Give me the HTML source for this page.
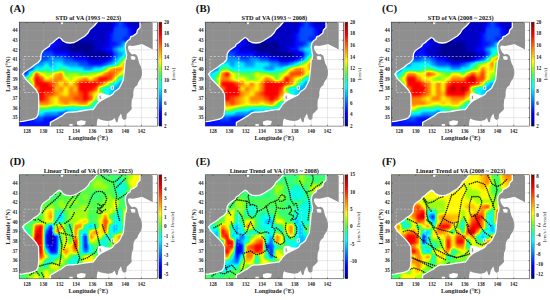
<!DOCTYPE html><html><head><meta charset="utf-8"><title>VA figure</title><style>body{margin:0;background:#fff;}svg{display:block;}.tk{font:bold 5.1px "Liberation Serif",serif;fill:#222;}.ti{font:bold 6.3px "Liberation Serif",serif;fill:#111;}.al{font:bold 6.2px "Liberation Serif",serif;fill:#222;}.pl{font:bold 10.8px "Liberation Serif",serif;fill:#111;}.cbl{font:4.8px "Liberation Serif",serif;fill:#1a1a1a;}</style></head><body><svg width="550" height="300" viewBox="0 0 550 300"><defs><filter id="jet" x="-5%" y="-5%" width="110%" height="110%" color-interpolation-filters="sRGB"><feGaussianBlur stdDeviation="1.5"/><feComponentTransfer><feFuncR type="table" tableValues="0 0 0 0 0 0 0 0.1 0.3 0.65 1 1 1 1 1 0.75 0.5"/><feFuncG type="table" tableValues="0 0 0 0.25 0.5 0.75 1 1 1 1 1 0.75 0.5 0.25 0 0 0"/><feFuncB type="table" tableValues="0.5 0.75 1 1 1 1 1 0.7 0.3 0.05 0 0 0 0 0 0 0"/><feFuncA type="table" tableValues="1 1"/></feComponentTransfer></filter><linearGradient id="jetgrad" x1="0" y1="1" x2="0" y2="0"><stop offset="0.0000" stop-color="#00007f"/><stop offset="0.0625" stop-color="#0000bf"/><stop offset="0.1250" stop-color="#0000ff"/><stop offset="0.1875" stop-color="#003fff"/><stop offset="0.2500" stop-color="#007fff"/><stop offset="0.3125" stop-color="#00bfff"/><stop offset="0.3750" stop-color="#00ffff"/><stop offset="0.4375" stop-color="#19ffb2"/><stop offset="0.5000" stop-color="#4cff4c"/><stop offset="0.5625" stop-color="#a5ff0c"/><stop offset="0.6250" stop-color="#ffff00"/><stop offset="0.6875" stop-color="#ffbf00"/><stop offset="0.7500" stop-color="#ff7f00"/><stop offset="0.8125" stop-color="#ff3f00"/><stop offset="0.8750" stop-color="#ff0000"/><stop offset="0.9375" stop-color="#bf0000"/><stop offset="1.0000" stop-color="#7f0000"/></linearGradient><clipPath id="mapclip"><rect x="19.2" y="22.1" width="138.2" height="104.0"/></clipPath><g id="landall"><polygon points="19,0 97.5,0 97.5,22 97,22.5 94,26 90,29.5 88,33 85,36 81,38.5 77,41 74,42.5 70,43 66,42.5 63,41 61,38.5 59,37.5 57,39 55,40.5 53,42.5 50,44.5 49.4,46.3 46.8,48 44.2,49.8 42.4,51.5 41.2,54 40.7,59.5 38.1,62.5 34.6,64.8 31.3,67.5 27.7,69.8 24.2,72.3 22.5,74.2 24,76.7 25.7,79.2 28.2,81.7 33.2,86.7 36.5,90.5 38.5,94 38.7,100 38.7,108.5 38.1,114.6 36.3,117.7 33.8,119 31.3,119.6 28.9,120.2 25.2,120.8 22.7,121.4 10,122 10,0" fill="#8f8f8f" stroke="#fff" stroke-width="1.3" stroke-linejoin="round"/><polygon points="140,0 140,27.5 137.5,30 136.7,33.3 133.3,35.8 130.8,36.7 130,39.2 127.5,40.8 125.8,43.3 125.3,46.7 125.8,51.7 126.7,55 126.2,59 125.3,60 124.7,66.7 124,73.3 123.3,80 121.3,84 119.3,88 117,90 114.5,91.5 113,94 111,95.5 107,97.5 103,99.5 101,100.5 99,102 97,104 95,107 93,109.5 91.3,109.4 88,109.9 83.6,110.5 78.2,111.5 72.7,112.1 68.4,112.1 65.1,113.2 61.8,115.9 58,118.1 54.2,120.3 50.4,122.4 49.8,140 170,140 170,0" fill="#8f8f8f" stroke="#fff" stroke-width="1.3" stroke-linejoin="round"/><polygon points="150.8,0 150.8,22 152.7,23 152.7,49.5 150,48 146,46 142,44 138,45 133,46 129,45.5 127.8,47 128.5,50 130,52.5 132,54.5 134.5,54 136.5,55 137.5,56.5 138.3,60 139.3,63.5 140.7,66 142,70.7 142,74.7 140.7,78.7 139.3,80.5 138,82.7 137.3,85.3 135.3,86.7 134,88.7 133.3,92 133.3,96 132.3,99 131.8,100 131.4,105.5 131.8,109 130,111 128.2,112.7 126.8,114 126.3,119 124,120 122.3,118.5 121,113.5 119.8,115.5 118.5,117.5 117.6,122 116.2,122.3 114.7,118 112,120.2 108,121 103.7,120.4 100,119.5 98.2,118.6 97.3,120 96.8,123.2 96.8,140 170,140 170,0" fill="#fff"/><polygon points="130.5,56.5 133,56 135.5,57 135,60 131.5,59.8" fill="#fff"/><polygon points="98,93.5 102,93 106,94.5 110,95 112,94.5 113.2,94.2 111,95.5 107,97.5 103,99.5 101,100.5 99,102 97.6,101 97.3,97" fill="#fff"/><polygon points="69.4,124 72.7,124 72.7,126.5 69.4,126.5" fill="#fff"/><polygon points="77,121.5 81,120.3 85.8,121 85,124.5 80,125.7 77,124.5" fill="#fff"/><polygon points="60.5,22 63.5,22 62.5,24.2 61.3,24.2" fill="#fff"/><polygon points="99,95.5 101,95 101.3,99 99.5,100" fill="#8f8f8f" stroke="#fff" stroke-width="0.8"/><polygon points="111,86.5 113.3,86 113.6,89.3 111.5,89.5" fill="#8f8f8f" stroke="#fff" stroke-width="0.8"/></g><mask id="lmask" maskUnits="userSpaceOnUse" x="0" y="0" width="200" height="150"><g fill="#fff"><polygon points="19,0 97.5,0 97.5,22 97,22.5 94,26 90,29.5 88,33 85,36 81,38.5 77,41 74,42.5 70,43 66,42.5 63,41 61,38.5 59,37.5 57,39 55,40.5 53,42.5 50,44.5 49.4,46.3 46.8,48 44.2,49.8 42.4,51.5 41.2,54 40.7,59.5 38.1,62.5 34.6,64.8 31.3,67.5 27.7,69.8 24.2,72.3 22.5,74.2 24,76.7 25.7,79.2 28.2,81.7 33.2,86.7 36.5,90.5 38.5,94 38.7,100 38.7,108.5 38.1,114.6 36.3,117.7 33.8,119 31.3,119.6 28.9,120.2 25.2,120.8 22.7,121.4 10,122 10,0"/><polygon points="140,0 140,27.5 137.5,30 136.7,33.3 133.3,35.8 130.8,36.7 130,39.2 127.5,40.8 125.8,43.3 125.3,46.7 125.8,51.7 126.7,55 126.2,59 125.3,60 124.7,66.7 124,73.3 123.3,80 121.3,84 119.3,88 117,90 114.5,91.5 113,94 111,95.5 107,97.5 103,99.5 101,100.5 99,102 97,104 95,107 93,109.5 91.3,109.4 88,109.9 83.6,110.5 78.2,111.5 72.7,112.1 68.4,112.1 65.1,113.2 61.8,115.9 58,118.1 54.2,120.3 50.4,122.4 49.8,140 170,140 170,0"/><polygon points="150.8,0 150.8,22 152.7,23 152.7,49.5 150,48 146,46 142,44 138,45 133,46 129,45.5 127.8,47 128.5,50 130,52.5 132,54.5 134.5,54 136.5,55 137.5,56.5 138.3,60 139.3,63.5 140.7,66 142,70.7 142,74.7 140.7,78.7 139.3,80.5 138,82.7 137.3,85.3 135.3,86.7 134,88.7 133.3,92 133.3,96 132.3,99 131.8,100 131.4,105.5 131.8,109 130,111 128.2,112.7 126.8,114 126.3,119 124,120 122.3,118.5 121,113.5 119.8,115.5 118.5,117.5 117.6,122 116.2,122.3 114.7,118 112,120.2 108,121 103.7,120.4 100,119.5 98.2,118.6 97.3,120 96.8,123.2 96.8,140 170,140 170,0"/><polygon points="130.5,56.5 133,56 135.5,57 135,60 131.5,59.8"/><polygon points="98,93.5 102,93 106,94.5 110,95 112,94.5 113.2,94.2 111,95.5 107,97.5 103,99.5 101,100.5 99,102 97.6,101 97.3,97"/><polygon points="69.4,124 72.7,124 72.7,126.5 69.4,126.5"/><polygon points="77,121.5 81,120.3 85.8,121 85,124.5 80,125.7 77,124.5"/><polygon points="60.5,22 63.5,22 62.5,24.2 61.3,24.2"/></g></mask></defs><g transform="translate(0 0)"><text x="9.8" y="12.4" class="pl">(A)</text><text x="88.3" y="20.1" class="ti" text-anchor="middle">STD of VA (1993 ~ 2023)</text><g clip-path="url(#mapclip)"><g filter="url(#jet)"><rect x="11.20" y="14.10" width="12.99" height="13.00" fill="#242424"/><rect x="24.14" y="14.10" width="4.99" height="13.00" fill="#242424"/><rect x="29.07" y="14.10" width="4.99" height="13.00" fill="#242424"/><rect x="34.01" y="14.10" width="4.99" height="13.00" fill="#242424"/><rect x="38.94" y="14.10" width="4.99" height="13.00" fill="#1e1e1e"/><rect x="43.88" y="14.10" width="4.99" height="13.00" fill="#121212"/><rect x="48.81" y="14.10" width="4.99" height="13.00" fill="#121212"/><rect x="53.75" y="14.10" width="4.99" height="13.00" fill="#121212"/><rect x="58.69" y="14.10" width="4.99" height="13.00" fill="#121212"/><rect x="63.62" y="14.10" width="4.99" height="13.00" fill="#121212"/><rect x="68.56" y="14.10" width="4.99" height="13.00" fill="#121212"/><rect x="73.49" y="14.10" width="4.99" height="13.00" fill="#121212"/><rect x="78.43" y="14.10" width="4.99" height="13.00" fill="#121212"/><rect x="83.36" y="14.10" width="4.99" height="13.00" fill="#121212"/><rect x="88.30" y="14.10" width="4.99" height="13.00" fill="#121212"/><rect x="93.24" y="14.10" width="4.99" height="13.00" fill="#121212"/><rect x="98.17" y="14.10" width="4.99" height="13.00" fill="#121212"/><rect x="103.11" y="14.10" width="4.99" height="13.00" fill="#121212"/><rect x="108.04" y="14.10" width="4.99" height="13.00" fill="#121212"/><rect x="112.98" y="14.10" width="4.99" height="13.00" fill="#242424"/><rect x="117.91" y="14.10" width="4.99" height="13.00" fill="#333333"/><rect x="122.85" y="14.10" width="4.99" height="13.00" fill="#242424"/><rect x="127.79" y="14.10" width="4.99" height="13.00" fill="#121212"/><rect x="132.72" y="14.10" width="4.99" height="13.00" fill="#121212"/><rect x="137.66" y="14.10" width="4.99" height="13.00" fill="#121212"/><rect x="142.59" y="14.10" width="4.99" height="13.00" fill="#121212"/><rect x="147.53" y="14.10" width="4.99" height="13.00" fill="#121212"/><rect x="152.46" y="14.10" width="12.99" height="13.00" fill="#121212"/><rect x="11.20" y="27.05" width="12.99" height="5.00" fill="#2b2b2b"/><rect x="24.14" y="27.05" width="4.99" height="5.00" fill="#242424"/><rect x="29.07" y="27.05" width="4.99" height="5.00" fill="#242424"/><rect x="34.01" y="27.05" width="4.99" height="5.00" fill="#242424"/><rect x="38.94" y="27.05" width="4.99" height="5.00" fill="#242424"/><rect x="43.88" y="27.05" width="4.99" height="5.00" fill="#1e1e1e"/><rect x="48.81" y="27.05" width="4.99" height="5.00" fill="#121212"/><rect x="53.75" y="27.05" width="4.99" height="5.00" fill="#121212"/><rect x="58.69" y="27.05" width="4.99" height="5.00" fill="#121212"/><rect x="63.62" y="27.05" width="4.99" height="5.00" fill="#121212"/><rect x="68.56" y="27.05" width="4.99" height="5.00" fill="#121212"/><rect x="73.49" y="27.05" width="4.99" height="5.00" fill="#121212"/><rect x="78.43" y="27.05" width="4.99" height="5.00" fill="#121212"/><rect x="83.36" y="27.05" width="4.99" height="5.00" fill="#121212"/><rect x="88.30" y="27.05" width="4.99" height="5.00" fill="#121212"/><rect x="93.24" y="27.05" width="4.99" height="5.00" fill="#121212"/><rect x="98.17" y="27.05" width="4.99" height="5.00" fill="#121212"/><rect x="103.11" y="27.05" width="4.99" height="5.00" fill="#121212"/><rect x="108.04" y="27.05" width="4.99" height="5.00" fill="#121212"/><rect x="112.98" y="27.05" width="4.99" height="5.00" fill="#333333"/><rect x="117.91" y="27.05" width="4.99" height="5.00" fill="#333333"/><rect x="122.85" y="27.05" width="4.99" height="5.00" fill="#333333"/><rect x="127.79" y="27.05" width="4.99" height="5.00" fill="#242424"/><rect x="132.72" y="27.05" width="4.99" height="5.00" fill="#121212"/><rect x="137.66" y="27.05" width="4.99" height="5.00" fill="#121212"/><rect x="142.59" y="27.05" width="4.99" height="5.00" fill="#121212"/><rect x="147.53" y="27.05" width="4.99" height="5.00" fill="#121212"/><rect x="152.46" y="27.05" width="12.99" height="5.00" fill="#121212"/><rect x="11.20" y="32.00" width="12.99" height="5.00" fill="#333333"/><rect x="24.14" y="32.00" width="4.99" height="5.00" fill="#2b2b2b"/><rect x="29.07" y="32.00" width="4.99" height="5.00" fill="#242424"/><rect x="34.01" y="32.00" width="4.99" height="5.00" fill="#242424"/><rect x="38.94" y="32.00" width="4.99" height="5.00" fill="#242424"/><rect x="43.88" y="32.00" width="4.99" height="5.00" fill="#242424"/><rect x="48.81" y="32.00" width="4.99" height="5.00" fill="#1d1d1d"/><rect x="53.75" y="32.00" width="4.99" height="5.00" fill="#121212"/><rect x="58.69" y="32.00" width="4.99" height="5.00" fill="#121212"/><rect x="63.62" y="32.00" width="4.99" height="5.00" fill="#121212"/><rect x="68.56" y="32.00" width="4.99" height="5.00" fill="#0e0e0e"/><rect x="73.49" y="32.00" width="4.99" height="5.00" fill="#121212"/><rect x="78.43" y="32.00" width="4.99" height="5.00" fill="#121212"/><rect x="83.36" y="32.00" width="4.99" height="5.00" fill="#121212"/><rect x="88.30" y="32.00" width="4.99" height="5.00" fill="#121212"/><rect x="93.24" y="32.00" width="4.99" height="5.00" fill="#121212"/><rect x="98.17" y="32.00" width="4.99" height="5.00" fill="#121212"/><rect x="103.11" y="32.00" width="4.99" height="5.00" fill="#121212"/><rect x="108.04" y="32.00" width="4.99" height="5.00" fill="#242424"/><rect x="112.98" y="32.00" width="4.99" height="5.00" fill="#333333"/><rect x="117.91" y="32.00" width="4.99" height="5.00" fill="#333333"/><rect x="122.85" y="32.00" width="4.99" height="5.00" fill="#333333"/><rect x="127.79" y="32.00" width="4.99" height="5.00" fill="#242424"/><rect x="132.72" y="32.00" width="4.99" height="5.00" fill="#1e1e1e"/><rect x="137.66" y="32.00" width="4.99" height="5.00" fill="#121212"/><rect x="142.59" y="32.00" width="4.99" height="5.00" fill="#121212"/><rect x="147.53" y="32.00" width="4.99" height="5.00" fill="#121212"/><rect x="152.46" y="32.00" width="12.99" height="5.00" fill="#121212"/><rect x="11.20" y="36.96" width="12.99" height="5.00" fill="#333333"/><rect x="24.14" y="36.96" width="4.99" height="5.00" fill="#333333"/><rect x="29.07" y="36.96" width="4.99" height="5.00" fill="#2c2c2c"/><rect x="34.01" y="36.96" width="4.99" height="5.00" fill="#242424"/><rect x="38.94" y="36.96" width="4.99" height="5.00" fill="#242424"/><rect x="43.88" y="36.96" width="4.99" height="5.00" fill="#242424"/><rect x="48.81" y="36.96" width="4.99" height="5.00" fill="#242424"/><rect x="53.75" y="36.96" width="4.99" height="5.00" fill="#1b1b1b"/><rect x="58.69" y="36.96" width="4.99" height="5.00" fill="#121212"/><rect x="63.62" y="36.96" width="4.99" height="5.00" fill="#0f0f0f"/><rect x="68.56" y="36.96" width="4.99" height="5.00" fill="#090909"/><rect x="73.49" y="36.96" width="4.99" height="5.00" fill="#080808"/><rect x="78.43" y="36.96" width="4.99" height="5.00" fill="#121212"/><rect x="83.36" y="36.96" width="4.99" height="5.00" fill="#121212"/><rect x="88.30" y="36.96" width="4.99" height="5.00" fill="#121212"/><rect x="93.24" y="36.96" width="4.99" height="5.00" fill="#121212"/><rect x="98.17" y="36.96" width="4.99" height="5.00" fill="#121212"/><rect x="103.11" y="36.96" width="4.99" height="5.00" fill="#121212"/><rect x="108.04" y="36.96" width="4.99" height="5.00" fill="#242424"/><rect x="112.98" y="36.96" width="4.99" height="5.00" fill="#333333"/><rect x="117.91" y="36.96" width="4.99" height="5.00" fill="#333333"/><rect x="122.85" y="36.96" width="4.99" height="5.00" fill="#242424"/><rect x="127.79" y="36.96" width="4.99" height="5.00" fill="#363636"/><rect x="132.72" y="36.96" width="4.99" height="5.00" fill="#242424"/><rect x="137.66" y="36.96" width="4.99" height="5.00" fill="#1c1c1c"/><rect x="142.59" y="36.96" width="4.99" height="5.00" fill="#121212"/><rect x="147.53" y="36.96" width="4.99" height="5.00" fill="#121212"/><rect x="152.46" y="36.96" width="12.99" height="5.00" fill="#121212"/><rect x="11.20" y="41.91" width="12.99" height="5.00" fill="#333333"/><rect x="24.14" y="41.91" width="4.99" height="5.00" fill="#333333"/><rect x="29.07" y="41.91" width="4.99" height="5.00" fill="#333333"/><rect x="34.01" y="41.91" width="4.99" height="5.00" fill="#2c2c2c"/><rect x="38.94" y="41.91" width="4.99" height="5.00" fill="#242424"/><rect x="43.88" y="41.91" width="4.99" height="5.00" fill="#242424"/><rect x="48.81" y="41.91" width="4.99" height="5.00" fill="#242424"/><rect x="53.75" y="41.91" width="4.99" height="5.00" fill="#242424"/><rect x="58.69" y="41.91" width="4.99" height="5.00" fill="#121212"/><rect x="63.62" y="41.91" width="4.99" height="5.00" fill="#121212"/><rect x="68.56" y="41.91" width="4.99" height="5.00" fill="#050505"/><rect x="73.49" y="41.91" width="4.99" height="5.00" fill="#050505"/><rect x="78.43" y="41.91" width="4.99" height="5.00" fill="#050505"/><rect x="83.36" y="41.91" width="4.99" height="5.00" fill="#050505"/><rect x="88.30" y="41.91" width="4.99" height="5.00" fill="#050505"/><rect x="93.24" y="41.91" width="4.99" height="5.00" fill="#121212"/><rect x="98.17" y="41.91" width="4.99" height="5.00" fill="#121212"/><rect x="103.11" y="41.91" width="4.99" height="5.00" fill="#121212"/><rect x="108.04" y="41.91" width="4.99" height="5.00" fill="#242424"/><rect x="112.98" y="41.91" width="4.99" height="5.00" fill="#242424"/><rect x="117.91" y="41.91" width="4.99" height="5.00" fill="#333333"/><rect x="122.85" y="41.91" width="4.99" height="5.00" fill="#5c5c5c"/><rect x="127.79" y="41.91" width="4.99" height="5.00" fill="#494949"/><rect x="132.72" y="41.91" width="4.99" height="5.00" fill="#404040"/><rect x="137.66" y="41.91" width="4.99" height="5.00" fill="#242424"/><rect x="142.59" y="41.91" width="4.99" height="5.00" fill="#1b1b1b"/><rect x="147.53" y="41.91" width="4.99" height="5.00" fill="#121212"/><rect x="152.46" y="41.91" width="12.99" height="5.00" fill="#121212"/><rect x="11.20" y="46.86" width="12.99" height="5.00" fill="#353535"/><rect x="24.14" y="46.86" width="4.99" height="5.00" fill="#333333"/><rect x="29.07" y="46.86" width="4.99" height="5.00" fill="#333333"/><rect x="34.01" y="46.86" width="4.99" height="5.00" fill="#333333"/><rect x="38.94" y="46.86" width="4.99" height="5.00" fill="#2e2e2e"/><rect x="43.88" y="46.86" width="4.99" height="5.00" fill="#242424"/><rect x="48.81" y="46.86" width="4.99" height="5.00" fill="#242424"/><rect x="53.75" y="46.86" width="4.99" height="5.00" fill="#121212"/><rect x="58.69" y="46.86" width="4.99" height="5.00" fill="#121212"/><rect x="63.62" y="46.86" width="4.99" height="5.00" fill="#121212"/><rect x="68.56" y="46.86" width="4.99" height="5.00" fill="#050505"/><rect x="73.49" y="46.86" width="4.99" height="5.00" fill="#050505"/><rect x="78.43" y="46.86" width="4.99" height="5.00" fill="#050505"/><rect x="83.36" y="46.86" width="4.99" height="5.00" fill="#050505"/><rect x="88.30" y="46.86" width="4.99" height="5.00" fill="#050505"/><rect x="93.24" y="46.86" width="4.99" height="5.00" fill="#121212"/><rect x="98.17" y="46.86" width="4.99" height="5.00" fill="#121212"/><rect x="103.11" y="46.86" width="4.99" height="5.00" fill="#242424"/><rect x="108.04" y="46.86" width="4.99" height="5.00" fill="#242424"/><rect x="112.98" y="46.86" width="4.99" height="5.00" fill="#454545"/><rect x="117.91" y="46.86" width="4.99" height="5.00" fill="#5c5c5c"/><rect x="122.85" y="46.86" width="4.99" height="5.00" fill="#5c5c5c"/><rect x="127.79" y="46.86" width="4.99" height="5.00" fill="#5c5c5c"/><rect x="132.72" y="46.86" width="4.99" height="5.00" fill="#5b5b5b"/><rect x="137.66" y="46.86" width="4.99" height="5.00" fill="#4c4c4c"/><rect x="142.59" y="46.86" width="4.99" height="5.00" fill="#242424"/><rect x="147.53" y="46.86" width="4.99" height="5.00" fill="#1b1b1b"/><rect x="152.46" y="46.86" width="12.99" height="5.00" fill="#121212"/><rect x="11.20" y="51.81" width="12.99" height="5.00" fill="#313131"/><rect x="24.14" y="51.81" width="4.99" height="5.00" fill="#373737"/><rect x="29.07" y="51.81" width="4.99" height="5.00" fill="#333333"/><rect x="34.01" y="51.81" width="4.99" height="5.00" fill="#333333"/><rect x="38.94" y="51.81" width="4.99" height="5.00" fill="#333333"/><rect x="43.88" y="51.81" width="4.99" height="5.00" fill="#333333"/><rect x="48.81" y="51.81" width="4.99" height="5.00" fill="#333333"/><rect x="53.75" y="51.81" width="4.99" height="5.00" fill="#242424"/><rect x="58.69" y="51.81" width="4.99" height="5.00" fill="#242424"/><rect x="63.62" y="51.81" width="4.99" height="5.00" fill="#242424"/><rect x="68.56" y="51.81" width="4.99" height="5.00" fill="#121212"/><rect x="73.49" y="51.81" width="4.99" height="5.00" fill="#121212"/><rect x="78.43" y="51.81" width="4.99" height="5.00" fill="#121212"/><rect x="83.36" y="51.81" width="4.99" height="5.00" fill="#050505"/><rect x="88.30" y="51.81" width="4.99" height="5.00" fill="#050505"/><rect x="93.24" y="51.81" width="4.99" height="5.00" fill="#050505"/><rect x="98.17" y="51.81" width="4.99" height="5.00" fill="#050505"/><rect x="103.11" y="51.81" width="4.99" height="5.00" fill="#050505"/><rect x="108.04" y="51.81" width="4.99" height="5.00" fill="#121212"/><rect x="112.98" y="51.81" width="4.99" height="5.00" fill="#333333"/><rect x="117.91" y="51.81" width="4.99" height="5.00" fill="#454545"/><rect x="122.85" y="51.81" width="4.99" height="5.00" fill="#5c5c5c"/><rect x="127.79" y="51.81" width="4.99" height="5.00" fill="#6d6d6d"/><rect x="132.72" y="51.81" width="4.99" height="5.00" fill="#727272"/><rect x="137.66" y="51.81" width="4.99" height="5.00" fill="#737373"/><rect x="142.59" y="51.81" width="4.99" height="5.00" fill="#5b5b5b"/><rect x="147.53" y="51.81" width="4.99" height="5.00" fill="#242424"/><rect x="152.46" y="51.81" width="12.99" height="5.00" fill="#1b1b1b"/><rect x="11.20" y="56.77" width="12.99" height="5.00" fill="#282828"/><rect x="24.14" y="56.77" width="4.99" height="5.00" fill="#323232"/><rect x="29.07" y="56.77" width="4.99" height="5.00" fill="#3c3c3c"/><rect x="34.01" y="56.77" width="4.99" height="5.00" fill="#333333"/><rect x="38.94" y="56.77" width="4.99" height="5.00" fill="#333333"/><rect x="43.88" y="56.77" width="4.99" height="5.00" fill="#333333"/><rect x="48.81" y="56.77" width="4.99" height="5.00" fill="#454545"/><rect x="53.75" y="56.77" width="4.99" height="5.00" fill="#454545"/><rect x="58.69" y="56.77" width="4.99" height="5.00" fill="#454545"/><rect x="63.62" y="56.77" width="4.99" height="5.00" fill="#333333"/><rect x="68.56" y="56.77" width="4.99" height="5.00" fill="#333333"/><rect x="73.49" y="56.77" width="4.99" height="5.00" fill="#242424"/><rect x="78.43" y="56.77" width="4.99" height="5.00" fill="#242424"/><rect x="83.36" y="56.77" width="4.99" height="5.00" fill="#242424"/><rect x="88.30" y="56.77" width="4.99" height="5.00" fill="#121212"/><rect x="93.24" y="56.77" width="4.99" height="5.00" fill="#121212"/><rect x="98.17" y="56.77" width="4.99" height="5.00" fill="#121212"/><rect x="103.11" y="56.77" width="4.99" height="5.00" fill="#121212"/><rect x="108.04" y="56.77" width="4.99" height="5.00" fill="#242424"/><rect x="112.98" y="56.77" width="4.99" height="5.00" fill="#454545"/><rect x="117.91" y="56.77" width="4.99" height="5.00" fill="#5c5c5c"/><rect x="122.85" y="56.77" width="4.99" height="5.00" fill="#8f8f8f"/><rect x="127.79" y="56.77" width="4.99" height="5.00" fill="#8e8e8e"/><rect x="132.72" y="56.77" width="4.99" height="5.00" fill="#8b8b8b"/><rect x="137.66" y="56.77" width="4.99" height="5.00" fill="#888888"/><rect x="142.59" y="56.77" width="4.99" height="5.00" fill="#868686"/><rect x="147.53" y="56.77" width="4.99" height="5.00" fill="#666666"/><rect x="152.46" y="56.77" width="12.99" height="5.00" fill="#242424"/><rect x="11.20" y="61.72" width="12.99" height="5.00" fill="#242424"/><rect x="24.14" y="61.72" width="4.99" height="5.00" fill="#2b2b2b"/><rect x="29.07" y="61.72" width="4.99" height="5.00" fill="#3c3c3c"/><rect x="34.01" y="61.72" width="4.99" height="5.00" fill="#454545"/><rect x="38.94" y="61.72" width="4.99" height="5.00" fill="#454545"/><rect x="43.88" y="61.72" width="4.99" height="5.00" fill="#5c5c5c"/><rect x="48.81" y="61.72" width="4.99" height="5.00" fill="#454545"/><rect x="53.75" y="61.72" width="4.99" height="5.00" fill="#5c5c5c"/><rect x="58.69" y="61.72" width="4.99" height="5.00" fill="#5c5c5c"/><rect x="63.62" y="61.72" width="4.99" height="5.00" fill="#454545"/><rect x="68.56" y="61.72" width="4.99" height="5.00" fill="#454545"/><rect x="73.49" y="61.72" width="4.99" height="5.00" fill="#454545"/><rect x="78.43" y="61.72" width="4.99" height="5.00" fill="#333333"/><rect x="83.36" y="61.72" width="4.99" height="5.00" fill="#333333"/><rect x="88.30" y="61.72" width="4.99" height="5.00" fill="#242424"/><rect x="93.24" y="61.72" width="4.99" height="5.00" fill="#242424"/><rect x="98.17" y="61.72" width="4.99" height="5.00" fill="#242424"/><rect x="103.11" y="61.72" width="4.99" height="5.00" fill="#333333"/><rect x="108.04" y="61.72" width="4.99" height="5.00" fill="#454545"/><rect x="112.98" y="61.72" width="4.99" height="5.00" fill="#5c5c5c"/><rect x="117.91" y="61.72" width="4.99" height="5.00" fill="#8f8f8f"/><rect x="122.85" y="61.72" width="4.99" height="5.00" fill="#bfbfbf"/><rect x="127.79" y="61.72" width="4.99" height="5.00" fill="#a5a5a5"/><rect x="132.72" y="61.72" width="4.99" height="5.00" fill="#9c9c9c"/><rect x="137.66" y="61.72" width="4.99" height="5.00" fill="#969696"/><rect x="142.59" y="61.72" width="4.99" height="5.00" fill="#929292"/><rect x="147.53" y="61.72" width="4.99" height="5.00" fill="#8f8f8f"/><rect x="152.46" y="61.72" width="12.99" height="5.00" fill="#6b6b6b"/><rect x="11.20" y="66.67" width="12.99" height="5.00" fill="#292929"/><rect x="24.14" y="66.67" width="4.99" height="5.00" fill="#242424"/><rect x="29.07" y="66.67" width="4.99" height="5.00" fill="#333333"/><rect x="34.01" y="66.67" width="4.99" height="5.00" fill="#5c5c5c"/><rect x="38.94" y="66.67" width="4.99" height="5.00" fill="#5c5c5c"/><rect x="43.88" y="66.67" width="4.99" height="5.00" fill="#737373"/><rect x="48.81" y="66.67" width="4.99" height="5.00" fill="#5c5c5c"/><rect x="53.75" y="66.67" width="4.99" height="5.00" fill="#5c5c5c"/><rect x="58.69" y="66.67" width="4.99" height="5.00" fill="#737373"/><rect x="63.62" y="66.67" width="4.99" height="5.00" fill="#737373"/><rect x="68.56" y="66.67" width="4.99" height="5.00" fill="#5c5c5c"/><rect x="73.49" y="66.67" width="4.99" height="5.00" fill="#5c5c5c"/><rect x="78.43" y="66.67" width="4.99" height="5.00" fill="#5c5c5c"/><rect x="83.36" y="66.67" width="4.99" height="5.00" fill="#454545"/><rect x="88.30" y="66.67" width="4.99" height="5.00" fill="#454545"/><rect x="93.24" y="66.67" width="4.99" height="5.00" fill="#5c5c5c"/><rect x="98.17" y="66.67" width="4.99" height="5.00" fill="#5c5c5c"/><rect x="103.11" y="66.67" width="4.99" height="5.00" fill="#808080"/><rect x="108.04" y="66.67" width="4.99" height="5.00" fill="#b0b0b0"/><rect x="112.98" y="66.67" width="4.99" height="5.00" fill="#bfbfbf"/><rect x="117.91" y="66.67" width="4.99" height="5.00" fill="#bfbfbf"/><rect x="122.85" y="66.67" width="4.99" height="5.00" fill="#a1a1a1"/><rect x="127.79" y="66.67" width="4.99" height="5.00" fill="#a0a0a0"/><rect x="132.72" y="66.67" width="4.99" height="5.00" fill="#9c9c9c"/><rect x="137.66" y="66.67" width="4.99" height="5.00" fill="#989898"/><rect x="142.59" y="66.67" width="4.99" height="5.00" fill="#959595"/><rect x="147.53" y="66.67" width="4.99" height="5.00" fill="#929292"/><rect x="152.46" y="66.67" width="12.99" height="5.00" fill="#909090"/><rect x="11.20" y="71.62" width="12.99" height="5.00" fill="#242424"/><rect x="24.14" y="71.62" width="4.99" height="5.00" fill="#333333"/><rect x="29.07" y="71.62" width="4.99" height="5.00" fill="#808080"/><rect x="34.01" y="71.62" width="4.99" height="5.00" fill="#cfcfcf"/><rect x="38.94" y="71.62" width="4.99" height="5.00" fill="#a1a1a1"/><rect x="43.88" y="71.62" width="4.99" height="5.00" fill="#8f8f8f"/><rect x="48.81" y="71.62" width="4.99" height="5.00" fill="#8f8f8f"/><rect x="53.75" y="71.62" width="4.99" height="5.00" fill="#b0b0b0"/><rect x="58.69" y="71.62" width="4.99" height="5.00" fill="#bfbfbf"/><rect x="63.62" y="71.62" width="4.99" height="5.00" fill="#808080"/><rect x="68.56" y="71.62" width="4.99" height="5.00" fill="#8f8f8f"/><rect x="73.49" y="71.62" width="4.99" height="5.00" fill="#8f8f8f"/><rect x="78.43" y="71.62" width="4.99" height="5.00" fill="#808080"/><rect x="83.36" y="71.62" width="4.99" height="5.00" fill="#808080"/><rect x="88.30" y="71.62" width="4.99" height="5.00" fill="#8f8f8f"/><rect x="93.24" y="71.62" width="4.99" height="5.00" fill="#8f8f8f"/><rect x="98.17" y="71.62" width="4.99" height="5.00" fill="#a1a1a1"/><rect x="103.11" y="71.62" width="4.99" height="5.00" fill="#bfbfbf"/><rect x="108.04" y="71.62" width="4.99" height="5.00" fill="#cfcfcf"/><rect x="112.98" y="71.62" width="4.99" height="5.00" fill="#bfbfbf"/><rect x="117.91" y="71.62" width="4.99" height="5.00" fill="#a1a1a1"/><rect x="122.85" y="71.62" width="4.99" height="5.00" fill="#808080"/><rect x="127.79" y="71.62" width="4.99" height="5.00" fill="#909090"/><rect x="132.72" y="71.62" width="4.99" height="5.00" fill="#909090"/><rect x="137.66" y="71.62" width="4.99" height="5.00" fill="#919191"/><rect x="142.59" y="71.62" width="4.99" height="5.00" fill="#909090"/><rect x="147.53" y="71.62" width="4.99" height="5.00" fill="#909090"/><rect x="152.46" y="71.62" width="12.99" height="5.00" fill="#8f8f8f"/><rect x="11.20" y="76.58" width="12.99" height="5.00" fill="#474747"/><rect x="24.14" y="76.58" width="4.99" height="5.00" fill="#808080"/><rect x="29.07" y="76.58" width="4.99" height="5.00" fill="#a1a1a1"/><rect x="34.01" y="76.58" width="4.99" height="5.00" fill="#e0e0e0"/><rect x="38.94" y="76.58" width="4.99" height="5.00" fill="#cfcfcf"/><rect x="43.88" y="76.58" width="4.99" height="5.00" fill="#a1a1a1"/><rect x="48.81" y="76.58" width="4.99" height="5.00" fill="#b0b0b0"/><rect x="53.75" y="76.58" width="4.99" height="5.00" fill="#bfbfbf"/><rect x="58.69" y="76.58" width="4.99" height="5.00" fill="#bfbfbf"/><rect x="63.62" y="76.58" width="4.99" height="5.00" fill="#a1a1a1"/><rect x="68.56" y="76.58" width="4.99" height="5.00" fill="#8f8f8f"/><rect x="73.49" y="76.58" width="4.99" height="5.00" fill="#a1a1a1"/><rect x="78.43" y="76.58" width="4.99" height="5.00" fill="#b0b0b0"/><rect x="83.36" y="76.58" width="4.99" height="5.00" fill="#bfbfbf"/><rect x="88.30" y="76.58" width="4.99" height="5.00" fill="#a1a1a1"/><rect x="93.24" y="76.58" width="4.99" height="5.00" fill="#bfbfbf"/><rect x="98.17" y="76.58" width="4.99" height="5.00" fill="#e0e0e0"/><rect x="103.11" y="76.58" width="4.99" height="5.00" fill="#e0e0e0"/><rect x="108.04" y="76.58" width="4.99" height="5.00" fill="#cfcfcf"/><rect x="112.98" y="76.58" width="4.99" height="5.00" fill="#a1a1a1"/><rect x="117.91" y="76.58" width="4.99" height="5.00" fill="#5c5c5c"/><rect x="122.85" y="76.58" width="4.99" height="5.00" fill="#707070"/><rect x="127.79" y="76.58" width="4.99" height="5.00" fill="#808080"/><rect x="132.72" y="76.58" width="4.99" height="5.00" fill="#888888"/><rect x="137.66" y="76.58" width="4.99" height="5.00" fill="#888888"/><rect x="142.59" y="76.58" width="4.99" height="5.00" fill="#8a8a8a"/><rect x="147.53" y="76.58" width="4.99" height="5.00" fill="#8a8a8a"/><rect x="152.46" y="76.58" width="12.99" height="5.00" fill="#8a8a8a"/><rect x="11.20" y="81.53" width="12.99" height="5.00" fill="#808080"/><rect x="24.14" y="81.53" width="4.99" height="5.00" fill="#8b8b8b"/><rect x="29.07" y="81.53" width="4.99" height="5.00" fill="#808080"/><rect x="34.01" y="81.53" width="4.99" height="5.00" fill="#e0e0e0"/><rect x="38.94" y="81.53" width="4.99" height="5.00" fill="#e0e0e0"/><rect x="43.88" y="81.53" width="4.99" height="5.00" fill="#e0e0e0"/><rect x="48.81" y="81.53" width="4.99" height="5.00" fill="#cfcfcf"/><rect x="53.75" y="81.53" width="4.99" height="5.00" fill="#bfbfbf"/><rect x="58.69" y="81.53" width="4.99" height="5.00" fill="#a1a1a1"/><rect x="63.62" y="81.53" width="4.99" height="5.00" fill="#bfbfbf"/><rect x="68.56" y="81.53" width="4.99" height="5.00" fill="#a1a1a1"/><rect x="73.49" y="81.53" width="4.99" height="5.00" fill="#bfbfbf"/><rect x="78.43" y="81.53" width="4.99" height="5.00" fill="#e0e0e0"/><rect x="83.36" y="81.53" width="4.99" height="5.00" fill="#e0e0e0"/><rect x="88.30" y="81.53" width="4.99" height="5.00" fill="#e0e0e0"/><rect x="93.24" y="81.53" width="4.99" height="5.00" fill="#e0e0e0"/><rect x="98.17" y="81.53" width="4.99" height="5.00" fill="#cfcfcf"/><rect x="103.11" y="81.53" width="4.99" height="5.00" fill="#b0b0b0"/><rect x="108.04" y="81.53" width="4.99" height="5.00" fill="#808080"/><rect x="112.98" y="81.53" width="4.99" height="5.00" fill="#5c5c5c"/><rect x="117.91" y="81.53" width="4.99" height="5.00" fill="#454545"/><rect x="122.85" y="81.53" width="4.99" height="5.00" fill="#505050"/><rect x="127.79" y="81.53" width="4.99" height="5.00" fill="#616161"/><rect x="132.72" y="81.53" width="4.99" height="5.00" fill="#808080"/><rect x="137.66" y="81.53" width="4.99" height="5.00" fill="#848484"/><rect x="142.59" y="81.53" width="4.99" height="5.00" fill="#848484"/><rect x="147.53" y="81.53" width="4.99" height="5.00" fill="#858585"/><rect x="152.46" y="81.53" width="12.99" height="5.00" fill="#858585"/><rect x="11.20" y="86.48" width="12.99" height="5.00" fill="#838383"/><rect x="24.14" y="86.48" width="4.99" height="5.00" fill="#808080"/><rect x="29.07" y="86.48" width="4.99" height="5.00" fill="#b5b5b5"/><rect x="34.01" y="86.48" width="4.99" height="5.00" fill="#bfbfbf"/><rect x="38.94" y="86.48" width="4.99" height="5.00" fill="#e0e0e0"/><rect x="43.88" y="86.48" width="4.99" height="5.00" fill="#e0e0e0"/><rect x="48.81" y="86.48" width="4.99" height="5.00" fill="#e0e0e0"/><rect x="53.75" y="86.48" width="4.99" height="5.00" fill="#b0b0b0"/><rect x="58.69" y="86.48" width="4.99" height="5.00" fill="#bfbfbf"/><rect x="63.62" y="86.48" width="4.99" height="5.00" fill="#a1a1a1"/><rect x="68.56" y="86.48" width="4.99" height="5.00" fill="#bfbfbf"/><rect x="73.49" y="86.48" width="4.99" height="5.00" fill="#b0b0b0"/><rect x="78.43" y="86.48" width="4.99" height="5.00" fill="#e0e0e0"/><rect x="83.36" y="86.48" width="4.99" height="5.00" fill="#e0e0e0"/><rect x="88.30" y="86.48" width="4.99" height="5.00" fill="#e0e0e0"/><rect x="93.24" y="86.48" width="4.99" height="5.00" fill="#cfcfcf"/><rect x="98.17" y="86.48" width="4.99" height="5.00" fill="#808080"/><rect x="103.11" y="86.48" width="4.99" height="5.00" fill="#5c5c5c"/><rect x="108.04" y="86.48" width="4.99" height="5.00" fill="#5c5c5c"/><rect x="112.98" y="86.48" width="4.99" height="5.00" fill="#454545"/><rect x="117.91" y="86.48" width="4.99" height="5.00" fill="#4c4c4c"/><rect x="122.85" y="86.48" width="4.99" height="5.00" fill="#454545"/><rect x="127.79" y="86.48" width="4.99" height="5.00" fill="#4b4b4b"/><rect x="132.72" y="86.48" width="4.99" height="5.00" fill="#5c5c5c"/><rect x="137.66" y="86.48" width="4.99" height="5.00" fill="#808080"/><rect x="142.59" y="86.48" width="4.99" height="5.00" fill="#828282"/><rect x="147.53" y="86.48" width="4.99" height="5.00" fill="#828282"/><rect x="152.46" y="86.48" width="12.99" height="5.00" fill="#828282"/><rect x="11.20" y="91.43" width="12.99" height="5.00" fill="#808080"/><rect x="24.14" y="91.43" width="4.99" height="5.00" fill="#a7a7a7"/><rect x="29.07" y="91.43" width="4.99" height="5.00" fill="#bfbfbf"/><rect x="34.01" y="91.43" width="4.99" height="5.00" fill="#d8d8d8"/><rect x="38.94" y="91.43" width="4.99" height="5.00" fill="#e0e0e0"/><rect x="43.88" y="91.43" width="4.99" height="5.00" fill="#cfcfcf"/><rect x="48.81" y="91.43" width="4.99" height="5.00" fill="#cfcfcf"/><rect x="53.75" y="91.43" width="4.99" height="5.00" fill="#bfbfbf"/><rect x="58.69" y="91.43" width="4.99" height="5.00" fill="#b0b0b0"/><rect x="63.62" y="91.43" width="4.99" height="5.00" fill="#a1a1a1"/><rect x="68.56" y="91.43" width="4.99" height="5.00" fill="#bfbfbf"/><rect x="73.49" y="91.43" width="4.99" height="5.00" fill="#bfbfbf"/><rect x="78.43" y="91.43" width="4.99" height="5.00" fill="#cfcfcf"/><rect x="83.36" y="91.43" width="4.99" height="5.00" fill="#e0e0e0"/><rect x="88.30" y="91.43" width="4.99" height="5.00" fill="#bfbfbf"/><rect x="93.24" y="91.43" width="4.99" height="5.00" fill="#a1a1a1"/><rect x="98.17" y="91.43" width="4.99" height="5.00" fill="#929292"/><rect x="103.11" y="91.43" width="4.99" height="5.00" fill="#686868"/><rect x="108.04" y="91.43" width="4.99" height="5.00" fill="#545454"/><rect x="112.98" y="91.43" width="4.99" height="5.00" fill="#505050"/><rect x="117.91" y="91.43" width="4.99" height="5.00" fill="#454545"/><rect x="122.85" y="91.43" width="4.99" height="5.00" fill="#474747"/><rect x="127.79" y="91.43" width="4.99" height="5.00" fill="#454545"/><rect x="132.72" y="91.43" width="4.99" height="5.00" fill="#484848"/><rect x="137.66" y="91.43" width="4.99" height="5.00" fill="#5a5a5a"/><rect x="142.59" y="91.43" width="4.99" height="5.00" fill="#808080"/><rect x="147.53" y="91.43" width="4.99" height="5.00" fill="#818181"/><rect x="152.46" y="91.43" width="12.99" height="5.00" fill="#818181"/><rect x="11.20" y="96.39" width="12.99" height="5.00" fill="#a2a2a2"/><rect x="24.14" y="96.39" width="4.99" height="5.00" fill="#bfbfbf"/><rect x="29.07" y="96.39" width="4.99" height="5.00" fill="#c8c8c8"/><rect x="34.01" y="96.39" width="4.99" height="5.00" fill="#d5d5d5"/><rect x="38.94" y="96.39" width="4.99" height="5.00" fill="#e0e0e0"/><rect x="43.88" y="96.39" width="4.99" height="5.00" fill="#cfcfcf"/><rect x="48.81" y="96.39" width="4.99" height="5.00" fill="#b0b0b0"/><rect x="53.75" y="96.39" width="4.99" height="5.00" fill="#a1a1a1"/><rect x="58.69" y="96.39" width="4.99" height="5.00" fill="#bfbfbf"/><rect x="63.62" y="96.39" width="4.99" height="5.00" fill="#bfbfbf"/><rect x="68.56" y="96.39" width="4.99" height="5.00" fill="#bfbfbf"/><rect x="73.49" y="96.39" width="4.99" height="5.00" fill="#cfcfcf"/><rect x="78.43" y="96.39" width="4.99" height="5.00" fill="#cfcfcf"/><rect x="83.36" y="96.39" width="4.99" height="5.00" fill="#e0e0e0"/><rect x="88.30" y="96.39" width="4.99" height="5.00" fill="#cfcfcf"/><rect x="93.24" y="96.39" width="4.99" height="5.00" fill="#8f8f8f"/><rect x="98.17" y="96.39" width="4.99" height="5.00" fill="#848484"/><rect x="103.11" y="96.39" width="4.99" height="5.00" fill="#757575"/><rect x="108.04" y="96.39" width="4.99" height="5.00" fill="#595959"/><rect x="112.98" y="96.39" width="4.99" height="5.00" fill="#4e4e4e"/><rect x="117.91" y="96.39" width="4.99" height="5.00" fill="#4b4b4b"/><rect x="122.85" y="96.39" width="4.99" height="5.00" fill="#454545"/><rect x="127.79" y="96.39" width="4.99" height="5.00" fill="#464646"/><rect x="132.72" y="96.39" width="4.99" height="5.00" fill="#454545"/><rect x="137.66" y="96.39" width="4.99" height="5.00" fill="#464646"/><rect x="142.59" y="96.39" width="4.99" height="5.00" fill="#595959"/><rect x="147.53" y="96.39" width="4.99" height="5.00" fill="#808080"/><rect x="152.46" y="96.39" width="12.99" height="5.00" fill="#808080"/><rect x="11.20" y="101.34" width="12.99" height="5.00" fill="#797979"/><rect x="24.14" y="101.34" width="4.99" height="5.00" fill="#929292"/><rect x="29.07" y="101.34" width="4.99" height="5.00" fill="#b1b1b1"/><rect x="34.01" y="101.34" width="4.99" height="5.00" fill="#b5b5b5"/><rect x="38.94" y="101.34" width="4.99" height="5.00" fill="#bfbfbf"/><rect x="43.88" y="101.34" width="4.99" height="5.00" fill="#bfbfbf"/><rect x="48.81" y="101.34" width="4.99" height="5.00" fill="#b0b0b0"/><rect x="53.75" y="101.34" width="4.99" height="5.00" fill="#a1a1a1"/><rect x="58.69" y="101.34" width="4.99" height="5.00" fill="#b0b0b0"/><rect x="63.62" y="101.34" width="4.99" height="5.00" fill="#bfbfbf"/><rect x="68.56" y="101.34" width="4.99" height="5.00" fill="#b0b0b0"/><rect x="73.49" y="101.34" width="4.99" height="5.00" fill="#b0b0b0"/><rect x="78.43" y="101.34" width="4.99" height="5.00" fill="#bfbfbf"/><rect x="83.36" y="101.34" width="4.99" height="5.00" fill="#bfbfbf"/><rect x="88.30" y="101.34" width="4.99" height="5.00" fill="#8f8f8f"/><rect x="93.24" y="101.34" width="4.99" height="5.00" fill="#5c5c5c"/><rect x="98.17" y="101.34" width="4.99" height="5.00" fill="#757575"/><rect x="103.11" y="101.34" width="4.99" height="5.00" fill="#727272"/><rect x="108.04" y="101.34" width="4.99" height="5.00" fill="#646464"/><rect x="112.98" y="101.34" width="4.99" height="5.00" fill="#515151"/><rect x="117.91" y="101.34" width="4.99" height="5.00" fill="#4a4a4a"/><rect x="122.85" y="101.34" width="4.99" height="5.00" fill="#484848"/><rect x="127.79" y="101.34" width="4.99" height="5.00" fill="#454545"/><rect x="132.72" y="101.34" width="4.99" height="5.00" fill="#454545"/><rect x="137.66" y="101.34" width="4.99" height="5.00" fill="#454545"/><rect x="142.59" y="101.34" width="4.99" height="5.00" fill="#464646"/><rect x="147.53" y="101.34" width="4.99" height="5.00" fill="#595959"/><rect x="152.46" y="101.34" width="12.99" height="5.00" fill="#808080"/><rect x="11.20" y="106.29" width="12.99" height="5.00" fill="#2a2a2a"/><rect x="24.14" y="106.29" width="4.99" height="5.00" fill="#333333"/><rect x="29.07" y="106.29" width="4.99" height="5.00" fill="#707070"/><rect x="34.01" y="106.29" width="4.99" height="5.00" fill="#898989"/><rect x="38.94" y="106.29" width="4.99" height="5.00" fill="#808080"/><rect x="43.88" y="106.29" width="4.99" height="5.00" fill="#808080"/><rect x="48.81" y="106.29" width="4.99" height="5.00" fill="#737373"/><rect x="53.75" y="106.29" width="4.99" height="5.00" fill="#737373"/><rect x="58.69" y="106.29" width="4.99" height="5.00" fill="#737373"/><rect x="63.62" y="106.29" width="4.99" height="5.00" fill="#5c5c5c"/><rect x="68.56" y="106.29" width="4.99" height="5.00" fill="#5c5c5c"/><rect x="73.49" y="106.29" width="4.99" height="5.00" fill="#5c5c5c"/><rect x="78.43" y="106.29" width="4.99" height="5.00" fill="#5c5c5c"/><rect x="83.36" y="106.29" width="4.99" height="5.00" fill="#5c5c5c"/><rect x="88.30" y="106.29" width="4.99" height="5.00" fill="#5c5c5c"/><rect x="93.24" y="106.29" width="4.99" height="5.00" fill="#6d6d6d"/><rect x="98.17" y="106.29" width="4.99" height="5.00" fill="#5c5c5c"/><rect x="103.11" y="106.29" width="4.99" height="5.00" fill="#696969"/><rect x="108.04" y="106.29" width="4.99" height="5.00" fill="#676767"/><rect x="112.98" y="106.29" width="4.99" height="5.00" fill="#5b5b5b"/><rect x="117.91" y="106.29" width="4.99" height="5.00" fill="#4b4b4b"/><rect x="122.85" y="106.29" width="4.99" height="5.00" fill="#474747"/><rect x="127.79" y="106.29" width="4.99" height="5.00" fill="#464646"/><rect x="132.72" y="106.29" width="4.99" height="5.00" fill="#454545"/><rect x="137.66" y="106.29" width="4.99" height="5.00" fill="#454545"/><rect x="142.59" y="106.29" width="4.99" height="5.00" fill="#454545"/><rect x="147.53" y="106.29" width="4.99" height="5.00" fill="#454545"/><rect x="152.46" y="106.29" width="12.99" height="5.00" fill="#595959"/><rect x="11.20" y="111.24" width="12.99" height="5.00" fill="#242424"/><rect x="24.14" y="111.24" width="4.99" height="5.00" fill="#282828"/><rect x="29.07" y="111.24" width="4.99" height="5.00" fill="#333333"/><rect x="34.01" y="111.24" width="4.99" height="5.00" fill="#505050"/><rect x="38.94" y="111.24" width="4.99" height="5.00" fill="#5c5c5c"/><rect x="43.88" y="111.24" width="4.99" height="5.00" fill="#454545"/><rect x="48.81" y="111.24" width="4.99" height="5.00" fill="#454545"/><rect x="53.75" y="111.24" width="4.99" height="5.00" fill="#454545"/><rect x="58.69" y="111.24" width="4.99" height="5.00" fill="#333333"/><rect x="63.62" y="111.24" width="4.99" height="5.00" fill="#333333"/><rect x="68.56" y="111.24" width="4.99" height="5.00" fill="#525252"/><rect x="73.49" y="111.24" width="4.99" height="5.00" fill="#5c5c5c"/><rect x="78.43" y="111.24" width="4.99" height="5.00" fill="#5c5c5c"/><rect x="83.36" y="111.24" width="4.99" height="5.00" fill="#5c5c5c"/><rect x="88.30" y="111.24" width="4.99" height="5.00" fill="#5c5c5c"/><rect x="93.24" y="111.24" width="4.99" height="5.00" fill="#5c5c5c"/><rect x="98.17" y="111.24" width="4.99" height="5.00" fill="#616161"/><rect x="103.11" y="111.24" width="4.99" height="5.00" fill="#5c5c5c"/><rect x="108.04" y="111.24" width="4.99" height="5.00" fill="#626262"/><rect x="112.98" y="111.24" width="4.99" height="5.00" fill="#626262"/><rect x="117.91" y="111.24" width="4.99" height="5.00" fill="#565656"/><rect x="122.85" y="111.24" width="4.99" height="5.00" fill="#484848"/><rect x="127.79" y="111.24" width="4.99" height="5.00" fill="#464646"/><rect x="132.72" y="111.24" width="4.99" height="5.00" fill="#464646"/><rect x="137.66" y="111.24" width="4.99" height="5.00" fill="#454545"/><rect x="142.59" y="111.24" width="4.99" height="5.00" fill="#454545"/><rect x="147.53" y="111.24" width="4.99" height="5.00" fill="#454545"/><rect x="152.46" y="111.24" width="12.99" height="5.00" fill="#454545"/><rect x="11.20" y="116.20" width="12.99" height="5.00" fill="#242424"/><rect x="24.14" y="116.20" width="4.99" height="5.00" fill="#242424"/><rect x="29.07" y="116.20" width="4.99" height="5.00" fill="#282828"/><rect x="34.01" y="116.20" width="4.99" height="5.00" fill="#333333"/><rect x="38.94" y="116.20" width="4.99" height="5.00" fill="#333333"/><rect x="43.88" y="116.20" width="4.99" height="5.00" fill="#242424"/><rect x="48.81" y="116.20" width="4.99" height="5.00" fill="#242424"/><rect x="53.75" y="116.20" width="4.99" height="5.00" fill="#242424"/><rect x="58.69" y="116.20" width="4.99" height="5.00" fill="#343434"/><rect x="63.62" y="116.20" width="4.99" height="5.00" fill="#333333"/><rect x="68.56" y="116.20" width="4.99" height="5.00" fill="#333333"/><rect x="73.49" y="116.20" width="4.99" height="5.00" fill="#4f4f4f"/><rect x="78.43" y="116.20" width="4.99" height="5.00" fill="#5c5c5c"/><rect x="83.36" y="116.20" width="4.99" height="5.00" fill="#5c5c5c"/><rect x="88.30" y="116.20" width="4.99" height="5.00" fill="#5c5c5c"/><rect x="93.24" y="116.20" width="4.99" height="5.00" fill="#5c5c5c"/><rect x="98.17" y="116.20" width="4.99" height="5.00" fill="#5c5c5c"/><rect x="103.11" y="116.20" width="4.99" height="5.00" fill="#5e5e5e"/><rect x="108.04" y="116.20" width="4.99" height="5.00" fill="#5c5c5c"/><rect x="112.98" y="116.20" width="4.99" height="5.00" fill="#5f5f5f"/><rect x="117.91" y="116.20" width="4.99" height="5.00" fill="#5f5f5f"/><rect x="122.85" y="116.20" width="4.99" height="5.00" fill="#535353"/><rect x="127.79" y="116.20" width="4.99" height="5.00" fill="#474747"/><rect x="132.72" y="116.20" width="4.99" height="5.00" fill="#464646"/><rect x="137.66" y="116.20" width="4.99" height="5.00" fill="#454545"/><rect x="142.59" y="116.20" width="4.99" height="5.00" fill="#454545"/><rect x="147.53" y="116.20" width="4.99" height="5.00" fill="#454545"/><rect x="152.46" y="116.20" width="12.99" height="5.00" fill="#454545"/><rect x="11.20" y="121.15" width="12.99" height="13.00" fill="#242424"/><rect x="24.14" y="121.15" width="4.99" height="13.00" fill="#242424"/><rect x="29.07" y="121.15" width="4.99" height="13.00" fill="#242424"/><rect x="34.01" y="121.15" width="4.99" height="13.00" fill="#242424"/><rect x="38.94" y="121.15" width="4.99" height="13.00" fill="#242424"/><rect x="43.88" y="121.15" width="4.99" height="13.00" fill="#242424"/><rect x="48.81" y="121.15" width="4.99" height="13.00" fill="#242424"/><rect x="53.75" y="121.15" width="4.99" height="13.00" fill="#242424"/><rect x="58.69" y="121.15" width="4.99" height="13.00" fill="#242424"/><rect x="63.62" y="121.15" width="4.99" height="13.00" fill="#2f2f2f"/><rect x="68.56" y="121.15" width="4.99" height="13.00" fill="#333333"/><rect x="73.49" y="121.15" width="4.99" height="13.00" fill="#333333"/><rect x="78.43" y="121.15" width="4.99" height="13.00" fill="#4e4e4e"/><rect x="83.36" y="121.15" width="4.99" height="13.00" fill="#5c5c5c"/><rect x="88.30" y="121.15" width="4.99" height="13.00" fill="#5c5c5c"/><rect x="93.24" y="121.15" width="4.99" height="13.00" fill="#5c5c5c"/><rect x="98.17" y="121.15" width="4.99" height="13.00" fill="#5c5c5c"/><rect x="103.11" y="121.15" width="4.99" height="13.00" fill="#5c5c5c"/><rect x="108.04" y="121.15" width="4.99" height="13.00" fill="#5c5c5c"/><rect x="112.98" y="121.15" width="4.99" height="13.00" fill="#5c5c5c"/><rect x="117.91" y="121.15" width="4.99" height="13.00" fill="#5d5d5d"/><rect x="122.85" y="121.15" width="4.99" height="13.00" fill="#5e5e5e"/><rect x="127.79" y="121.15" width="4.99" height="13.00" fill="#4f4f4f"/><rect x="132.72" y="121.15" width="4.99" height="13.00" fill="#464646"/><rect x="137.66" y="121.15" width="4.99" height="13.00" fill="#454545"/><rect x="142.59" y="121.15" width="4.99" height="13.00" fill="#454545"/><rect x="147.53" y="121.15" width="4.99" height="13.00" fill="#454545"/><rect x="152.46" y="121.15" width="12.99" height="13.00" fill="#454545"/></g><use href="#landall"/><g stroke="#a8a8a8" stroke-opacity="0.5" stroke-width="0.5" mask="url(#lmask)"><line x1="19.2" y1="117.6" x2="157.39999999999998" y2="117.6"/><line x1="19.2" y1="107.9" x2="157.39999999999998" y2="107.9"/><line x1="19.2" y1="98.3" x2="157.39999999999998" y2="98.3"/><line x1="19.2" y1="88.6" x2="157.39999999999998" y2="88.6"/><line x1="19.2" y1="78.9" x2="157.39999999999998" y2="78.9"/><line x1="19.2" y1="69.2" x2="157.39999999999998" y2="69.2"/><line x1="19.2" y1="59.5" x2="157.39999999999998" y2="59.5"/><line x1="19.2" y1="49.9" x2="157.39999999999998" y2="49.9"/><line x1="19.2" y1="40.2" x2="157.39999999999998" y2="40.2"/><line x1="19.2" y1="30.5" x2="157.39999999999998" y2="30.5"/><line x1="27.0" y1="22.1" x2="27.0" y2="126.1"/><line x1="43.4" y1="22.1" x2="43.4" y2="126.1"/><line x1="59.7" y1="22.1" x2="59.7" y2="126.1"/><line x1="76.1" y1="22.1" x2="76.1" y2="126.1"/><line x1="92.4" y1="22.1" x2="92.4" y2="126.1"/><line x1="108.8" y1="22.1" x2="108.8" y2="126.1"/><line x1="125.2" y1="22.1" x2="125.2" y2="126.1"/><line x1="141.5" y1="22.1" x2="141.5" y2="126.1"/></g><g fill="none" stroke="#fff" stroke-width="0.6" stroke-dasharray="2.2 1.6" opacity="0.75"><rect x="24" y="56.5" width="28.8" height="36"/><rect x="52.8" y="56.5" width="62.8" height="26"/></g></g><g stroke="#222" stroke-width="0.5"><line x1="19.2" y1="117.6" x2="20.5" y2="117.6"/><line x1="157.39999999999998" y1="117.6" x2="156.09999999999997" y2="117.6"/><line x1="19.2" y1="107.9" x2="20.5" y2="107.9"/><line x1="157.39999999999998" y1="107.9" x2="156.09999999999997" y2="107.9"/><line x1="19.2" y1="98.3" x2="20.5" y2="98.3"/><line x1="157.39999999999998" y1="98.3" x2="156.09999999999997" y2="98.3"/><line x1="19.2" y1="88.6" x2="20.5" y2="88.6"/><line x1="157.39999999999998" y1="88.6" x2="156.09999999999997" y2="88.6"/><line x1="19.2" y1="78.9" x2="20.5" y2="78.9"/><line x1="157.39999999999998" y1="78.9" x2="156.09999999999997" y2="78.9"/><line x1="19.2" y1="69.2" x2="20.5" y2="69.2"/><line x1="157.39999999999998" y1="69.2" x2="156.09999999999997" y2="69.2"/><line x1="19.2" y1="59.5" x2="20.5" y2="59.5"/><line x1="157.39999999999998" y1="59.5" x2="156.09999999999997" y2="59.5"/><line x1="19.2" y1="49.9" x2="20.5" y2="49.9"/><line x1="157.39999999999998" y1="49.9" x2="156.09999999999997" y2="49.9"/><line x1="19.2" y1="40.2" x2="20.5" y2="40.2"/><line x1="157.39999999999998" y1="40.2" x2="156.09999999999997" y2="40.2"/><line x1="19.2" y1="30.5" x2="20.5" y2="30.5"/><line x1="157.39999999999998" y1="30.5" x2="156.09999999999997" y2="30.5"/><line x1="27.0" y1="22.1" x2="27.0" y2="23.400000000000002"/><line x1="27.0" y1="126.1" x2="27.0" y2="124.8"/><line x1="43.4" y1="22.1" x2="43.4" y2="23.400000000000002"/><line x1="43.4" y1="126.1" x2="43.4" y2="124.8"/><line x1="59.7" y1="22.1" x2="59.7" y2="23.400000000000002"/><line x1="59.7" y1="126.1" x2="59.7" y2="124.8"/><line x1="76.1" y1="22.1" x2="76.1" y2="23.400000000000002"/><line x1="76.1" y1="126.1" x2="76.1" y2="124.8"/><line x1="92.4" y1="22.1" x2="92.4" y2="23.400000000000002"/><line x1="92.4" y1="126.1" x2="92.4" y2="124.8"/><line x1="108.8" y1="22.1" x2="108.8" y2="23.400000000000002"/><line x1="108.8" y1="126.1" x2="108.8" y2="124.8"/><line x1="125.2" y1="22.1" x2="125.2" y2="23.400000000000002"/><line x1="125.2" y1="126.1" x2="125.2" y2="124.8"/><line x1="141.5" y1="22.1" x2="141.5" y2="23.400000000000002"/><line x1="141.5" y1="126.1" x2="141.5" y2="124.8"/></g><rect x="19.2" y="22.1" width="138.2" height="104.0" fill="none" stroke="#333" stroke-width="0.5"/><text x="17.6" y="119.4" class="tk" text-anchor="end">35</text><text x="17.6" y="109.7" class="tk" text-anchor="end">36</text><text x="17.6" y="100.1" class="tk" text-anchor="end">37</text><text x="17.6" y="90.4" class="tk" text-anchor="end">38</text><text x="17.6" y="80.7" class="tk" text-anchor="end">39</text><text x="17.6" y="71.0" class="tk" text-anchor="end">40</text><text x="17.6" y="61.3" class="tk" text-anchor="end">41</text><text x="17.6" y="51.7" class="tk" text-anchor="end">42</text><text x="17.6" y="42.0" class="tk" text-anchor="end">43</text><text x="17.6" y="32.3" class="tk" text-anchor="end">44</text><text x="27.0" y="133.0" class="tk" text-anchor="middle">128</text><text x="43.4" y="133.0" class="tk" text-anchor="middle">130</text><text x="59.7" y="133.0" class="tk" text-anchor="middle">132</text><text x="76.1" y="133.0" class="tk" text-anchor="middle">134</text><text x="92.4" y="133.0" class="tk" text-anchor="middle">136</text><text x="108.8" y="133.0" class="tk" text-anchor="middle">138</text><text x="125.2" y="133.0" class="tk" text-anchor="middle">140</text><text x="141.5" y="133.0" class="tk" text-anchor="middle">142</text><text x="88.3" y="140.3" class="al" text-anchor="middle">Longitude (°E)</text><text transform="translate(10.2 74.1) rotate(-90)" class="al" text-anchor="middle">Latitude (°N)</text><rect x="158.9" y="22.1" width="3.0" height="104.0" fill="url(#jetgrad)"/><rect x="158.9" y="22.1" width="3.0" height="104.0" fill="none" stroke="#333" stroke-width="0.3"/><text x="164" y="127.8" class="tk">2</text><line x1="161.1" y1="126.1" x2="161.9" y2="126.1" stroke="#333" stroke-width="0.3"/><text x="164" y="116.2" class="tk">4</text><line x1="161.1" y1="114.5" x2="161.9" y2="114.5" stroke="#333" stroke-width="0.3"/><text x="164" y="104.7" class="tk">6</text><line x1="161.1" y1="103.0" x2="161.9" y2="103.0" stroke="#333" stroke-width="0.3"/><text x="164" y="93.1" class="tk">8</text><line x1="161.1" y1="91.4" x2="161.9" y2="91.4" stroke="#333" stroke-width="0.3"/><text x="164" y="81.6" class="tk">10</text><line x1="161.1" y1="79.9" x2="161.9" y2="79.9" stroke="#333" stroke-width="0.3"/><text x="164" y="70.0" class="tk">12</text><line x1="161.1" y1="68.3" x2="161.9" y2="68.3" stroke="#333" stroke-width="0.3"/><text x="164" y="58.5" class="tk">14</text><line x1="161.1" y1="56.8" x2="161.9" y2="56.8" stroke="#333" stroke-width="0.3"/><text x="164" y="46.9" class="tk">16</text><line x1="161.1" y1="45.2" x2="161.9" y2="45.2" stroke="#333" stroke-width="0.3"/><text x="164" y="35.4" class="tk">18</text><line x1="161.1" y1="33.7" x2="161.9" y2="33.7" stroke="#333" stroke-width="0.3"/><text x="164" y="23.8" class="tk">20</text><line x1="161.1" y1="22.1" x2="161.9" y2="22.1" stroke="#333" stroke-width="0.3"/><text transform="translate(174.8 74.1) rotate(-90)" text-anchor="middle" class="cbl">[cm/s]</text></g><g transform="translate(186.0 0)"><text x="9.8" y="12.4" class="pl">(B)</text><text x="88.3" y="20.1" class="ti" text-anchor="middle">STD of VA (1993 ~ 2008)</text><g clip-path="url(#mapclip)"><g filter="url(#jet)"><rect x="11.20" y="14.10" width="12.99" height="13.00" fill="#242424"/><rect x="24.14" y="14.10" width="4.99" height="13.00" fill="#242424"/><rect x="29.07" y="14.10" width="4.99" height="13.00" fill="#242424"/><rect x="34.01" y="14.10" width="4.99" height="13.00" fill="#242424"/><rect x="38.94" y="14.10" width="4.99" height="13.00" fill="#1e1e1e"/><rect x="43.88" y="14.10" width="4.99" height="13.00" fill="#121212"/><rect x="48.81" y="14.10" width="4.99" height="13.00" fill="#121212"/><rect x="53.75" y="14.10" width="4.99" height="13.00" fill="#121212"/><rect x="58.69" y="14.10" width="4.99" height="13.00" fill="#121212"/><rect x="63.62" y="14.10" width="4.99" height="13.00" fill="#121212"/><rect x="68.56" y="14.10" width="4.99" height="13.00" fill="#121212"/><rect x="73.49" y="14.10" width="4.99" height="13.00" fill="#121212"/><rect x="78.43" y="14.10" width="4.99" height="13.00" fill="#121212"/><rect x="83.36" y="14.10" width="4.99" height="13.00" fill="#121212"/><rect x="88.30" y="14.10" width="4.99" height="13.00" fill="#121212"/><rect x="93.24" y="14.10" width="4.99" height="13.00" fill="#121212"/><rect x="98.17" y="14.10" width="4.99" height="13.00" fill="#121212"/><rect x="103.11" y="14.10" width="4.99" height="13.00" fill="#121212"/><rect x="108.04" y="14.10" width="4.99" height="13.00" fill="#121212"/><rect x="112.98" y="14.10" width="4.99" height="13.00" fill="#242424"/><rect x="117.91" y="14.10" width="4.99" height="13.00" fill="#333333"/><rect x="122.85" y="14.10" width="4.99" height="13.00" fill="#242424"/><rect x="127.79" y="14.10" width="4.99" height="13.00" fill="#121212"/><rect x="132.72" y="14.10" width="4.99" height="13.00" fill="#121212"/><rect x="137.66" y="14.10" width="4.99" height="13.00" fill="#121212"/><rect x="142.59" y="14.10" width="4.99" height="13.00" fill="#121212"/><rect x="147.53" y="14.10" width="4.99" height="13.00" fill="#121212"/><rect x="152.46" y="14.10" width="12.99" height="13.00" fill="#121212"/><rect x="11.20" y="27.05" width="12.99" height="5.00" fill="#2b2b2b"/><rect x="24.14" y="27.05" width="4.99" height="5.00" fill="#242424"/><rect x="29.07" y="27.05" width="4.99" height="5.00" fill="#242424"/><rect x="34.01" y="27.05" width="4.99" height="5.00" fill="#242424"/><rect x="38.94" y="27.05" width="4.99" height="5.00" fill="#242424"/><rect x="43.88" y="27.05" width="4.99" height="5.00" fill="#1e1e1e"/><rect x="48.81" y="27.05" width="4.99" height="5.00" fill="#121212"/><rect x="53.75" y="27.05" width="4.99" height="5.00" fill="#121212"/><rect x="58.69" y="27.05" width="4.99" height="5.00" fill="#121212"/><rect x="63.62" y="27.05" width="4.99" height="5.00" fill="#121212"/><rect x="68.56" y="27.05" width="4.99" height="5.00" fill="#121212"/><rect x="73.49" y="27.05" width="4.99" height="5.00" fill="#121212"/><rect x="78.43" y="27.05" width="4.99" height="5.00" fill="#121212"/><rect x="83.36" y="27.05" width="4.99" height="5.00" fill="#121212"/><rect x="88.30" y="27.05" width="4.99" height="5.00" fill="#121212"/><rect x="93.24" y="27.05" width="4.99" height="5.00" fill="#121212"/><rect x="98.17" y="27.05" width="4.99" height="5.00" fill="#121212"/><rect x="103.11" y="27.05" width="4.99" height="5.00" fill="#121212"/><rect x="108.04" y="27.05" width="4.99" height="5.00" fill="#121212"/><rect x="112.98" y="27.05" width="4.99" height="5.00" fill="#333333"/><rect x="117.91" y="27.05" width="4.99" height="5.00" fill="#333333"/><rect x="122.85" y="27.05" width="4.99" height="5.00" fill="#333333"/><rect x="127.79" y="27.05" width="4.99" height="5.00" fill="#242424"/><rect x="132.72" y="27.05" width="4.99" height="5.00" fill="#121212"/><rect x="137.66" y="27.05" width="4.99" height="5.00" fill="#121212"/><rect x="142.59" y="27.05" width="4.99" height="5.00" fill="#121212"/><rect x="147.53" y="27.05" width="4.99" height="5.00" fill="#121212"/><rect x="152.46" y="27.05" width="12.99" height="5.00" fill="#121212"/><rect x="11.20" y="32.00" width="12.99" height="5.00" fill="#333333"/><rect x="24.14" y="32.00" width="4.99" height="5.00" fill="#2b2b2b"/><rect x="29.07" y="32.00" width="4.99" height="5.00" fill="#242424"/><rect x="34.01" y="32.00" width="4.99" height="5.00" fill="#242424"/><rect x="38.94" y="32.00" width="4.99" height="5.00" fill="#242424"/><rect x="43.88" y="32.00" width="4.99" height="5.00" fill="#242424"/><rect x="48.81" y="32.00" width="4.99" height="5.00" fill="#1d1d1d"/><rect x="53.75" y="32.00" width="4.99" height="5.00" fill="#121212"/><rect x="58.69" y="32.00" width="4.99" height="5.00" fill="#121212"/><rect x="63.62" y="32.00" width="4.99" height="5.00" fill="#121212"/><rect x="68.56" y="32.00" width="4.99" height="5.00" fill="#0e0e0e"/><rect x="73.49" y="32.00" width="4.99" height="5.00" fill="#121212"/><rect x="78.43" y="32.00" width="4.99" height="5.00" fill="#121212"/><rect x="83.36" y="32.00" width="4.99" height="5.00" fill="#121212"/><rect x="88.30" y="32.00" width="4.99" height="5.00" fill="#121212"/><rect x="93.24" y="32.00" width="4.99" height="5.00" fill="#121212"/><rect x="98.17" y="32.00" width="4.99" height="5.00" fill="#121212"/><rect x="103.11" y="32.00" width="4.99" height="5.00" fill="#121212"/><rect x="108.04" y="32.00" width="4.99" height="5.00" fill="#242424"/><rect x="112.98" y="32.00" width="4.99" height="5.00" fill="#333333"/><rect x="117.91" y="32.00" width="4.99" height="5.00" fill="#333333"/><rect x="122.85" y="32.00" width="4.99" height="5.00" fill="#333333"/><rect x="127.79" y="32.00" width="4.99" height="5.00" fill="#242424"/><rect x="132.72" y="32.00" width="4.99" height="5.00" fill="#1e1e1e"/><rect x="137.66" y="32.00" width="4.99" height="5.00" fill="#121212"/><rect x="142.59" y="32.00" width="4.99" height="5.00" fill="#121212"/><rect x="147.53" y="32.00" width="4.99" height="5.00" fill="#121212"/><rect x="152.46" y="32.00" width="12.99" height="5.00" fill="#121212"/><rect x="11.20" y="36.96" width="12.99" height="5.00" fill="#333333"/><rect x="24.14" y="36.96" width="4.99" height="5.00" fill="#333333"/><rect x="29.07" y="36.96" width="4.99" height="5.00" fill="#2c2c2c"/><rect x="34.01" y="36.96" width="4.99" height="5.00" fill="#242424"/><rect x="38.94" y="36.96" width="4.99" height="5.00" fill="#242424"/><rect x="43.88" y="36.96" width="4.99" height="5.00" fill="#242424"/><rect x="48.81" y="36.96" width="4.99" height="5.00" fill="#242424"/><rect x="53.75" y="36.96" width="4.99" height="5.00" fill="#1b1b1b"/><rect x="58.69" y="36.96" width="4.99" height="5.00" fill="#121212"/><rect x="63.62" y="36.96" width="4.99" height="5.00" fill="#0f0f0f"/><rect x="68.56" y="36.96" width="4.99" height="5.00" fill="#090909"/><rect x="73.49" y="36.96" width="4.99" height="5.00" fill="#080808"/><rect x="78.43" y="36.96" width="4.99" height="5.00" fill="#121212"/><rect x="83.36" y="36.96" width="4.99" height="5.00" fill="#121212"/><rect x="88.30" y="36.96" width="4.99" height="5.00" fill="#121212"/><rect x="93.24" y="36.96" width="4.99" height="5.00" fill="#121212"/><rect x="98.17" y="36.96" width="4.99" height="5.00" fill="#121212"/><rect x="103.11" y="36.96" width="4.99" height="5.00" fill="#121212"/><rect x="108.04" y="36.96" width="4.99" height="5.00" fill="#242424"/><rect x="112.98" y="36.96" width="4.99" height="5.00" fill="#333333"/><rect x="117.91" y="36.96" width="4.99" height="5.00" fill="#333333"/><rect x="122.85" y="36.96" width="4.99" height="5.00" fill="#242424"/><rect x="127.79" y="36.96" width="4.99" height="5.00" fill="#363636"/><rect x="132.72" y="36.96" width="4.99" height="5.00" fill="#242424"/><rect x="137.66" y="36.96" width="4.99" height="5.00" fill="#1c1c1c"/><rect x="142.59" y="36.96" width="4.99" height="5.00" fill="#121212"/><rect x="147.53" y="36.96" width="4.99" height="5.00" fill="#121212"/><rect x="152.46" y="36.96" width="12.99" height="5.00" fill="#121212"/><rect x="11.20" y="41.91" width="12.99" height="5.00" fill="#333333"/><rect x="24.14" y="41.91" width="4.99" height="5.00" fill="#343434"/><rect x="29.07" y="41.91" width="4.99" height="5.00" fill="#333333"/><rect x="34.01" y="41.91" width="4.99" height="5.00" fill="#2c2c2c"/><rect x="38.94" y="41.91" width="4.99" height="5.00" fill="#242424"/><rect x="43.88" y="41.91" width="4.99" height="5.00" fill="#242424"/><rect x="48.81" y="41.91" width="4.99" height="5.00" fill="#242424"/><rect x="53.75" y="41.91" width="4.99" height="5.00" fill="#242424"/><rect x="58.69" y="41.91" width="4.99" height="5.00" fill="#121212"/><rect x="63.62" y="41.91" width="4.99" height="5.00" fill="#121212"/><rect x="68.56" y="41.91" width="4.99" height="5.00" fill="#050505"/><rect x="73.49" y="41.91" width="4.99" height="5.00" fill="#050505"/><rect x="78.43" y="41.91" width="4.99" height="5.00" fill="#050505"/><rect x="83.36" y="41.91" width="4.99" height="5.00" fill="#050505"/><rect x="88.30" y="41.91" width="4.99" height="5.00" fill="#050505"/><rect x="93.24" y="41.91" width="4.99" height="5.00" fill="#121212"/><rect x="98.17" y="41.91" width="4.99" height="5.00" fill="#121212"/><rect x="103.11" y="41.91" width="4.99" height="5.00" fill="#121212"/><rect x="108.04" y="41.91" width="4.99" height="5.00" fill="#242424"/><rect x="112.98" y="41.91" width="4.99" height="5.00" fill="#242424"/><rect x="117.91" y="41.91" width="4.99" height="5.00" fill="#333333"/><rect x="122.85" y="41.91" width="4.99" height="5.00" fill="#5c5c5c"/><rect x="127.79" y="41.91" width="4.99" height="5.00" fill="#494949"/><rect x="132.72" y="41.91" width="4.99" height="5.00" fill="#404040"/><rect x="137.66" y="41.91" width="4.99" height="5.00" fill="#242424"/><rect x="142.59" y="41.91" width="4.99" height="5.00" fill="#1b1b1b"/><rect x="147.53" y="41.91" width="4.99" height="5.00" fill="#121212"/><rect x="152.46" y="41.91" width="12.99" height="5.00" fill="#121212"/><rect x="11.20" y="46.86" width="12.99" height="5.00" fill="#383838"/><rect x="24.14" y="46.86" width="4.99" height="5.00" fill="#333333"/><rect x="29.07" y="46.86" width="4.99" height="5.00" fill="#353535"/><rect x="34.01" y="46.86" width="4.99" height="5.00" fill="#333333"/><rect x="38.94" y="46.86" width="4.99" height="5.00" fill="#2e2e2e"/><rect x="43.88" y="46.86" width="4.99" height="5.00" fill="#242424"/><rect x="48.81" y="46.86" width="4.99" height="5.00" fill="#242424"/><rect x="53.75" y="46.86" width="4.99" height="5.00" fill="#121212"/><rect x="58.69" y="46.86" width="4.99" height="5.00" fill="#121212"/><rect x="63.62" y="46.86" width="4.99" height="5.00" fill="#121212"/><rect x="68.56" y="46.86" width="4.99" height="5.00" fill="#050505"/><rect x="73.49" y="46.86" width="4.99" height="5.00" fill="#050505"/><rect x="78.43" y="46.86" width="4.99" height="5.00" fill="#050505"/><rect x="83.36" y="46.86" width="4.99" height="5.00" fill="#050505"/><rect x="88.30" y="46.86" width="4.99" height="5.00" fill="#050505"/><rect x="93.24" y="46.86" width="4.99" height="5.00" fill="#121212"/><rect x="98.17" y="46.86" width="4.99" height="5.00" fill="#121212"/><rect x="103.11" y="46.86" width="4.99" height="5.00" fill="#242424"/><rect x="108.04" y="46.86" width="4.99" height="5.00" fill="#242424"/><rect x="112.98" y="46.86" width="4.99" height="5.00" fill="#454545"/><rect x="117.91" y="46.86" width="4.99" height="5.00" fill="#5c5c5c"/><rect x="122.85" y="46.86" width="4.99" height="5.00" fill="#5c5c5c"/><rect x="127.79" y="46.86" width="4.99" height="5.00" fill="#5c5c5c"/><rect x="132.72" y="46.86" width="4.99" height="5.00" fill="#5d5d5d"/><rect x="137.66" y="46.86" width="4.99" height="5.00" fill="#4e4e4e"/><rect x="142.59" y="46.86" width="4.99" height="5.00" fill="#242424"/><rect x="147.53" y="46.86" width="4.99" height="5.00" fill="#1b1b1b"/><rect x="152.46" y="46.86" width="12.99" height="5.00" fill="#121212"/><rect x="11.20" y="51.81" width="12.99" height="5.00" fill="#393939"/><rect x="24.14" y="51.81" width="4.99" height="5.00" fill="#3d3d3d"/><rect x="29.07" y="51.81" width="4.99" height="5.00" fill="#333333"/><rect x="34.01" y="51.81" width="4.99" height="5.00" fill="#393939"/><rect x="38.94" y="51.81" width="4.99" height="5.00" fill="#333333"/><rect x="43.88" y="51.81" width="4.99" height="5.00" fill="#333333"/><rect x="48.81" y="51.81" width="4.99" height="5.00" fill="#242424"/><rect x="53.75" y="51.81" width="4.99" height="5.00" fill="#242424"/><rect x="58.69" y="51.81" width="4.99" height="5.00" fill="#242424"/><rect x="63.62" y="51.81" width="4.99" height="5.00" fill="#242424"/><rect x="68.56" y="51.81" width="4.99" height="5.00" fill="#121212"/><rect x="73.49" y="51.81" width="4.99" height="5.00" fill="#121212"/><rect x="78.43" y="51.81" width="4.99" height="5.00" fill="#121212"/><rect x="83.36" y="51.81" width="4.99" height="5.00" fill="#050505"/><rect x="88.30" y="51.81" width="4.99" height="5.00" fill="#050505"/><rect x="93.24" y="51.81" width="4.99" height="5.00" fill="#050505"/><rect x="98.17" y="51.81" width="4.99" height="5.00" fill="#050505"/><rect x="103.11" y="51.81" width="4.99" height="5.00" fill="#050505"/><rect x="108.04" y="51.81" width="4.99" height="5.00" fill="#121212"/><rect x="112.98" y="51.81" width="4.99" height="5.00" fill="#121212"/><rect x="117.91" y="51.81" width="4.99" height="5.00" fill="#454545"/><rect x="122.85" y="51.81" width="4.99" height="5.00" fill="#5c5c5c"/><rect x="127.79" y="51.81" width="4.99" height="5.00" fill="#737373"/><rect x="132.72" y="51.81" width="4.99" height="5.00" fill="#767676"/><rect x="137.66" y="51.81" width="4.99" height="5.00" fill="#787878"/><rect x="142.59" y="51.81" width="4.99" height="5.00" fill="#5e5e5e"/><rect x="147.53" y="51.81" width="4.99" height="5.00" fill="#242424"/><rect x="152.46" y="51.81" width="12.99" height="5.00" fill="#1b1b1b"/><rect x="11.20" y="56.77" width="12.99" height="5.00" fill="#373737"/><rect x="24.14" y="56.77" width="4.99" height="5.00" fill="#3e3e3e"/><rect x="29.07" y="56.77" width="4.99" height="5.00" fill="#474747"/><rect x="34.01" y="56.77" width="4.99" height="5.00" fill="#333333"/><rect x="38.94" y="56.77" width="4.99" height="5.00" fill="#454545"/><rect x="43.88" y="56.77" width="4.99" height="5.00" fill="#454545"/><rect x="48.81" y="56.77" width="4.99" height="5.00" fill="#454545"/><rect x="53.75" y="56.77" width="4.99" height="5.00" fill="#333333"/><rect x="58.69" y="56.77" width="4.99" height="5.00" fill="#333333"/><rect x="63.62" y="56.77" width="4.99" height="5.00" fill="#454545"/><rect x="68.56" y="56.77" width="4.99" height="5.00" fill="#454545"/><rect x="73.49" y="56.77" width="4.99" height="5.00" fill="#333333"/><rect x="78.43" y="56.77" width="4.99" height="5.00" fill="#333333"/><rect x="83.36" y="56.77" width="4.99" height="5.00" fill="#242424"/><rect x="88.30" y="56.77" width="4.99" height="5.00" fill="#242424"/><rect x="93.24" y="56.77" width="4.99" height="5.00" fill="#121212"/><rect x="98.17" y="56.77" width="4.99" height="5.00" fill="#121212"/><rect x="103.11" y="56.77" width="4.99" height="5.00" fill="#121212"/><rect x="108.04" y="56.77" width="4.99" height="5.00" fill="#242424"/><rect x="112.98" y="56.77" width="4.99" height="5.00" fill="#333333"/><rect x="117.91" y="56.77" width="4.99" height="5.00" fill="#5c5c5c"/><rect x="122.85" y="56.77" width="4.99" height="5.00" fill="#a1a1a1"/><rect x="127.79" y="56.77" width="4.99" height="5.00" fill="#949494"/><rect x="132.72" y="56.77" width="4.99" height="5.00" fill="#949494"/><rect x="137.66" y="56.77" width="4.99" height="5.00" fill="#909090"/><rect x="142.59" y="56.77" width="4.99" height="5.00" fill="#8e8e8e"/><rect x="147.53" y="56.77" width="4.99" height="5.00" fill="#6b6b6b"/><rect x="152.46" y="56.77" width="12.99" height="5.00" fill="#242424"/><rect x="11.20" y="61.72" width="12.99" height="5.00" fill="#333333"/><rect x="24.14" y="61.72" width="4.99" height="5.00" fill="#3c3c3c"/><rect x="29.07" y="61.72" width="4.99" height="5.00" fill="#4e4e4e"/><rect x="34.01" y="61.72" width="4.99" height="5.00" fill="#5c5c5c"/><rect x="38.94" y="61.72" width="4.99" height="5.00" fill="#5c5c5c"/><rect x="43.88" y="61.72" width="4.99" height="5.00" fill="#454545"/><rect x="48.81" y="61.72" width="4.99" height="5.00" fill="#5c5c5c"/><rect x="53.75" y="61.72" width="4.99" height="5.00" fill="#5c5c5c"/><rect x="58.69" y="61.72" width="4.99" height="5.00" fill="#454545"/><rect x="63.62" y="61.72" width="4.99" height="5.00" fill="#454545"/><rect x="68.56" y="61.72" width="4.99" height="5.00" fill="#5c5c5c"/><rect x="73.49" y="61.72" width="4.99" height="5.00" fill="#5c5c5c"/><rect x="78.43" y="61.72" width="4.99" height="5.00" fill="#5c5c5c"/><rect x="83.36" y="61.72" width="4.99" height="5.00" fill="#454545"/><rect x="88.30" y="61.72" width="4.99" height="5.00" fill="#454545"/><rect x="93.24" y="61.72" width="4.99" height="5.00" fill="#333333"/><rect x="98.17" y="61.72" width="4.99" height="5.00" fill="#333333"/><rect x="103.11" y="61.72" width="4.99" height="5.00" fill="#454545"/><rect x="108.04" y="61.72" width="4.99" height="5.00" fill="#5c5c5c"/><rect x="112.98" y="61.72" width="4.99" height="5.00" fill="#808080"/><rect x="117.91" y="61.72" width="4.99" height="5.00" fill="#a1a1a1"/><rect x="122.85" y="61.72" width="4.99" height="5.00" fill="#bfbfbf"/><rect x="127.79" y="61.72" width="4.99" height="5.00" fill="#b5b5b5"/><rect x="132.72" y="61.72" width="4.99" height="5.00" fill="#a6a6a6"/><rect x="137.66" y="61.72" width="4.99" height="5.00" fill="#a1a1a1"/><rect x="142.59" y="61.72" width="4.99" height="5.00" fill="#9c9c9c"/><rect x="147.53" y="61.72" width="4.99" height="5.00" fill="#999999"/><rect x="152.46" y="61.72" width="12.99" height="5.00" fill="#717171"/><rect x="11.20" y="66.67" width="12.99" height="5.00" fill="#474747"/><rect x="24.14" y="66.67" width="4.99" height="5.00" fill="#333333"/><rect x="29.07" y="66.67" width="4.99" height="5.00" fill="#454545"/><rect x="34.01" y="66.67" width="4.99" height="5.00" fill="#808080"/><rect x="38.94" y="66.67" width="4.99" height="5.00" fill="#808080"/><rect x="43.88" y="66.67" width="4.99" height="5.00" fill="#5c5c5c"/><rect x="48.81" y="66.67" width="4.99" height="5.00" fill="#5c5c5c"/><rect x="53.75" y="66.67" width="4.99" height="5.00" fill="#5c5c5c"/><rect x="58.69" y="66.67" width="4.99" height="5.00" fill="#5c5c5c"/><rect x="63.62" y="66.67" width="4.99" height="5.00" fill="#5c5c5c"/><rect x="68.56" y="66.67" width="4.99" height="5.00" fill="#5c5c5c"/><rect x="73.49" y="66.67" width="4.99" height="5.00" fill="#5c5c5c"/><rect x="78.43" y="66.67" width="4.99" height="5.00" fill="#454545"/><rect x="83.36" y="66.67" width="4.99" height="5.00" fill="#454545"/><rect x="88.30" y="66.67" width="4.99" height="5.00" fill="#5c5c5c"/><rect x="93.24" y="66.67" width="4.99" height="5.00" fill="#5c5c5c"/><rect x="98.17" y="66.67" width="4.99" height="5.00" fill="#808080"/><rect x="103.11" y="66.67" width="4.99" height="5.00" fill="#a1a1a1"/><rect x="108.04" y="66.67" width="4.99" height="5.00" fill="#bfbfbf"/><rect x="112.98" y="66.67" width="4.99" height="5.00" fill="#bfbfbf"/><rect x="117.91" y="66.67" width="4.99" height="5.00" fill="#a1a1a1"/><rect x="122.85" y="66.67" width="4.99" height="5.00" fill="#bfbfbf"/><rect x="127.79" y="66.67" width="4.99" height="5.00" fill="#aaaaaa"/><rect x="132.72" y="66.67" width="4.99" height="5.00" fill="#aaaaaa"/><rect x="137.66" y="66.67" width="4.99" height="5.00" fill="#a3a3a3"/><rect x="142.59" y="66.67" width="4.99" height="5.00" fill="#a0a0a0"/><rect x="147.53" y="66.67" width="4.99" height="5.00" fill="#9c9c9c"/><rect x="152.46" y="66.67" width="12.99" height="5.00" fill="#9a9a9a"/><rect x="11.20" y="71.62" width="12.99" height="5.00" fill="#4e4e4e"/><rect x="24.14" y="71.62" width="4.99" height="5.00" fill="#5c5c5c"/><rect x="29.07" y="71.62" width="4.99" height="5.00" fill="#737373"/><rect x="34.01" y="71.62" width="4.99" height="5.00" fill="#bfbfbf"/><rect x="38.94" y="71.62" width="4.99" height="5.00" fill="#e0e0e0"/><rect x="43.88" y="71.62" width="4.99" height="5.00" fill="#a1a1a1"/><rect x="48.81" y="71.62" width="4.99" height="5.00" fill="#8f8f8f"/><rect x="53.75" y="71.62" width="4.99" height="5.00" fill="#808080"/><rect x="58.69" y="71.62" width="4.99" height="5.00" fill="#808080"/><rect x="63.62" y="71.62" width="4.99" height="5.00" fill="#808080"/><rect x="68.56" y="71.62" width="4.99" height="5.00" fill="#a1a1a1"/><rect x="73.49" y="71.62" width="4.99" height="5.00" fill="#8f8f8f"/><rect x="78.43" y="71.62" width="4.99" height="5.00" fill="#8f8f8f"/><rect x="83.36" y="71.62" width="4.99" height="5.00" fill="#808080"/><rect x="88.30" y="71.62" width="4.99" height="5.00" fill="#808080"/><rect x="93.24" y="71.62" width="4.99" height="5.00" fill="#8f8f8f"/><rect x="98.17" y="71.62" width="4.99" height="5.00" fill="#a1a1a1"/><rect x="103.11" y="71.62" width="4.99" height="5.00" fill="#cfcfcf"/><rect x="108.04" y="71.62" width="4.99" height="5.00" fill="#cfcfcf"/><rect x="112.98" y="71.62" width="4.99" height="5.00" fill="#cfcfcf"/><rect x="117.91" y="71.62" width="4.99" height="5.00" fill="#a1a1a1"/><rect x="122.85" y="71.62" width="4.99" height="5.00" fill="#808080"/><rect x="127.79" y="71.62" width="4.99" height="5.00" fill="#9f9f9f"/><rect x="132.72" y="71.62" width="4.99" height="5.00" fill="#989898"/><rect x="137.66" y="71.62" width="4.99" height="5.00" fill="#9b9b9b"/><rect x="142.59" y="71.62" width="4.99" height="5.00" fill="#999999"/><rect x="147.53" y="71.62" width="4.99" height="5.00" fill="#989898"/><rect x="152.46" y="71.62" width="12.99" height="5.00" fill="#979797"/><rect x="11.20" y="76.58" width="12.99" height="5.00" fill="#5c5c5c"/><rect x="24.14" y="76.58" width="4.99" height="5.00" fill="#5c5c5c"/><rect x="29.07" y="76.58" width="4.99" height="5.00" fill="#8f8f8f"/><rect x="34.01" y="76.58" width="4.99" height="5.00" fill="#bfbfbf"/><rect x="38.94" y="76.58" width="4.99" height="5.00" fill="#bfbfbf"/><rect x="43.88" y="76.58" width="4.99" height="5.00" fill="#a1a1a1"/><rect x="48.81" y="76.58" width="4.99" height="5.00" fill="#8f8f8f"/><rect x="53.75" y="76.58" width="4.99" height="5.00" fill="#a1a1a1"/><rect x="58.69" y="76.58" width="4.99" height="5.00" fill="#8f8f8f"/><rect x="63.62" y="76.58" width="4.99" height="5.00" fill="#808080"/><rect x="68.56" y="76.58" width="4.99" height="5.00" fill="#8f8f8f"/><rect x="73.49" y="76.58" width="4.99" height="5.00" fill="#a1a1a1"/><rect x="78.43" y="76.58" width="4.99" height="5.00" fill="#bfbfbf"/><rect x="83.36" y="76.58" width="4.99" height="5.00" fill="#b0b0b0"/><rect x="88.30" y="76.58" width="4.99" height="5.00" fill="#808080"/><rect x="93.24" y="76.58" width="4.99" height="5.00" fill="#a1a1a1"/><rect x="98.17" y="76.58" width="4.99" height="5.00" fill="#e0e0e0"/><rect x="103.11" y="76.58" width="4.99" height="5.00" fill="#bfbfbf"/><rect x="108.04" y="76.58" width="4.99" height="5.00" fill="#a1a1a1"/><rect x="112.98" y="76.58" width="4.99" height="5.00" fill="#8f8f8f"/><rect x="117.91" y="76.58" width="4.99" height="5.00" fill="#5c5c5c"/><rect x="122.85" y="76.58" width="4.99" height="5.00" fill="#707070"/><rect x="127.79" y="76.58" width="4.99" height="5.00" fill="#808080"/><rect x="132.72" y="76.58" width="4.99" height="5.00" fill="#8f8f8f"/><rect x="137.66" y="76.58" width="4.99" height="5.00" fill="#8d8d8d"/><rect x="142.59" y="76.58" width="4.99" height="5.00" fill="#909090"/><rect x="147.53" y="76.58" width="4.99" height="5.00" fill="#909090"/><rect x="152.46" y="76.58" width="12.99" height="5.00" fill="#909090"/><rect x="11.20" y="81.53" width="12.99" height="5.00" fill="#5c5c5c"/><rect x="24.14" y="81.53" width="4.99" height="5.00" fill="#797979"/><rect x="29.07" y="81.53" width="4.99" height="5.00" fill="#808080"/><rect x="34.01" y="81.53" width="4.99" height="5.00" fill="#e0e0e0"/><rect x="38.94" y="81.53" width="4.99" height="5.00" fill="#e0e0e0"/><rect x="43.88" y="81.53" width="4.99" height="5.00" fill="#e0e0e0"/><rect x="48.81" y="81.53" width="4.99" height="5.00" fill="#cfcfcf"/><rect x="53.75" y="81.53" width="4.99" height="5.00" fill="#bfbfbf"/><rect x="58.69" y="81.53" width="4.99" height="5.00" fill="#a1a1a1"/><rect x="63.62" y="81.53" width="4.99" height="5.00" fill="#bfbfbf"/><rect x="68.56" y="81.53" width="4.99" height="5.00" fill="#a1a1a1"/><rect x="73.49" y="81.53" width="4.99" height="5.00" fill="#bfbfbf"/><rect x="78.43" y="81.53" width="4.99" height="5.00" fill="#e0e0e0"/><rect x="83.36" y="81.53" width="4.99" height="5.00" fill="#e0e0e0"/><rect x="88.30" y="81.53" width="4.99" height="5.00" fill="#e0e0e0"/><rect x="93.24" y="81.53" width="4.99" height="5.00" fill="#e0e0e0"/><rect x="98.17" y="81.53" width="4.99" height="5.00" fill="#cfcfcf"/><rect x="103.11" y="81.53" width="4.99" height="5.00" fill="#bfbfbf"/><rect x="108.04" y="81.53" width="4.99" height="5.00" fill="#8f8f8f"/><rect x="112.98" y="81.53" width="4.99" height="5.00" fill="#5c5c5c"/><rect x="117.91" y="81.53" width="4.99" height="5.00" fill="#454545"/><rect x="122.85" y="81.53" width="4.99" height="5.00" fill="#505050"/><rect x="127.79" y="81.53" width="4.99" height="5.00" fill="#616161"/><rect x="132.72" y="81.53" width="4.99" height="5.00" fill="#808080"/><rect x="137.66" y="81.53" width="4.99" height="5.00" fill="#878787"/><rect x="142.59" y="81.53" width="4.99" height="5.00" fill="#878787"/><rect x="147.53" y="81.53" width="4.99" height="5.00" fill="#898989"/><rect x="152.46" y="81.53" width="12.99" height="5.00" fill="#898989"/><rect x="11.20" y="86.48" width="12.99" height="5.00" fill="#717171"/><rect x="24.14" y="86.48" width="4.99" height="5.00" fill="#808080"/><rect x="29.07" y="86.48" width="4.99" height="5.00" fill="#b5b5b5"/><rect x="34.01" y="86.48" width="4.99" height="5.00" fill="#bfbfbf"/><rect x="38.94" y="86.48" width="4.99" height="5.00" fill="#e0e0e0"/><rect x="43.88" y="86.48" width="4.99" height="5.00" fill="#e0e0e0"/><rect x="48.81" y="86.48" width="4.99" height="5.00" fill="#e0e0e0"/><rect x="53.75" y="86.48" width="4.99" height="5.00" fill="#a1a1a1"/><rect x="58.69" y="86.48" width="4.99" height="5.00" fill="#bfbfbf"/><rect x="63.62" y="86.48" width="4.99" height="5.00" fill="#b0b0b0"/><rect x="68.56" y="86.48" width="4.99" height="5.00" fill="#a1a1a1"/><rect x="73.49" y="86.48" width="4.99" height="5.00" fill="#bfbfbf"/><rect x="78.43" y="86.48" width="4.99" height="5.00" fill="#e0e0e0"/><rect x="83.36" y="86.48" width="4.99" height="5.00" fill="#e0e0e0"/><rect x="88.30" y="86.48" width="4.99" height="5.00" fill="#e0e0e0"/><rect x="93.24" y="86.48" width="4.99" height="5.00" fill="#cfcfcf"/><rect x="98.17" y="86.48" width="4.99" height="5.00" fill="#808080"/><rect x="103.11" y="86.48" width="4.99" height="5.00" fill="#5c5c5c"/><rect x="108.04" y="86.48" width="4.99" height="5.00" fill="#5c5c5c"/><rect x="112.98" y="86.48" width="4.99" height="5.00" fill="#454545"/><rect x="117.91" y="86.48" width="4.99" height="5.00" fill="#4c4c4c"/><rect x="122.85" y="86.48" width="4.99" height="5.00" fill="#454545"/><rect x="127.79" y="86.48" width="4.99" height="5.00" fill="#4b4b4b"/><rect x="132.72" y="86.48" width="4.99" height="5.00" fill="#5c5c5c"/><rect x="137.66" y="86.48" width="4.99" height="5.00" fill="#808080"/><rect x="142.59" y="86.48" width="4.99" height="5.00" fill="#838383"/><rect x="147.53" y="86.48" width="4.99" height="5.00" fill="#838383"/><rect x="152.46" y="86.48" width="12.99" height="5.00" fill="#848484"/><rect x="11.20" y="91.43" width="12.99" height="5.00" fill="#808080"/><rect x="24.14" y="91.43" width="4.99" height="5.00" fill="#a7a7a7"/><rect x="29.07" y="91.43" width="4.99" height="5.00" fill="#bfbfbf"/><rect x="34.01" y="91.43" width="4.99" height="5.00" fill="#d8d8d8"/><rect x="38.94" y="91.43" width="4.99" height="5.00" fill="#e0e0e0"/><rect x="43.88" y="91.43" width="4.99" height="5.00" fill="#e0e0e0"/><rect x="48.81" y="91.43" width="4.99" height="5.00" fill="#e0e0e0"/><rect x="53.75" y="91.43" width="4.99" height="5.00" fill="#bfbfbf"/><rect x="58.69" y="91.43" width="4.99" height="5.00" fill="#b0b0b0"/><rect x="63.62" y="91.43" width="4.99" height="5.00" fill="#a1a1a1"/><rect x="68.56" y="91.43" width="4.99" height="5.00" fill="#bfbfbf"/><rect x="73.49" y="91.43" width="4.99" height="5.00" fill="#cfcfcf"/><rect x="78.43" y="91.43" width="4.99" height="5.00" fill="#e0e0e0"/><rect x="83.36" y="91.43" width="4.99" height="5.00" fill="#e0e0e0"/><rect x="88.30" y="91.43" width="4.99" height="5.00" fill="#e0e0e0"/><rect x="93.24" y="91.43" width="4.99" height="5.00" fill="#bfbfbf"/><rect x="98.17" y="91.43" width="4.99" height="5.00" fill="#9c9c9c"/><rect x="103.11" y="91.43" width="4.99" height="5.00" fill="#686868"/><rect x="108.04" y="91.43" width="4.99" height="5.00" fill="#545454"/><rect x="112.98" y="91.43" width="4.99" height="5.00" fill="#505050"/><rect x="117.91" y="91.43" width="4.99" height="5.00" fill="#454545"/><rect x="122.85" y="91.43" width="4.99" height="5.00" fill="#474747"/><rect x="127.79" y="91.43" width="4.99" height="5.00" fill="#454545"/><rect x="132.72" y="91.43" width="4.99" height="5.00" fill="#484848"/><rect x="137.66" y="91.43" width="4.99" height="5.00" fill="#5a5a5a"/><rect x="142.59" y="91.43" width="4.99" height="5.00" fill="#808080"/><rect x="147.53" y="91.43" width="4.99" height="5.00" fill="#818181"/><rect x="152.46" y="91.43" width="12.99" height="5.00" fill="#818181"/><rect x="11.20" y="96.39" width="12.99" height="5.00" fill="#a2a2a2"/><rect x="24.14" y="96.39" width="4.99" height="5.00" fill="#bfbfbf"/><rect x="29.07" y="96.39" width="4.99" height="5.00" fill="#cbcbcb"/><rect x="34.01" y="96.39" width="4.99" height="5.00" fill="#d5d5d5"/><rect x="38.94" y="96.39" width="4.99" height="5.00" fill="#e0e0e0"/><rect x="43.88" y="96.39" width="4.99" height="5.00" fill="#cfcfcf"/><rect x="48.81" y="96.39" width="4.99" height="5.00" fill="#bfbfbf"/><rect x="53.75" y="96.39" width="4.99" height="5.00" fill="#b0b0b0"/><rect x="58.69" y="96.39" width="4.99" height="5.00" fill="#a1a1a1"/><rect x="63.62" y="96.39" width="4.99" height="5.00" fill="#bfbfbf"/><rect x="68.56" y="96.39" width="4.99" height="5.00" fill="#bfbfbf"/><rect x="73.49" y="96.39" width="4.99" height="5.00" fill="#bfbfbf"/><rect x="78.43" y="96.39" width="4.99" height="5.00" fill="#cfcfcf"/><rect x="83.36" y="96.39" width="4.99" height="5.00" fill="#e0e0e0"/><rect x="88.30" y="96.39" width="4.99" height="5.00" fill="#cfcfcf"/><rect x="93.24" y="96.39" width="4.99" height="5.00" fill="#a1a1a1"/><rect x="98.17" y="96.39" width="4.99" height="5.00" fill="#949494"/><rect x="103.11" y="96.39" width="4.99" height="5.00" fill="#7c7c7c"/><rect x="108.04" y="96.39" width="4.99" height="5.00" fill="#595959"/><rect x="112.98" y="96.39" width="4.99" height="5.00" fill="#4e4e4e"/><rect x="117.91" y="96.39" width="4.99" height="5.00" fill="#4b4b4b"/><rect x="122.85" y="96.39" width="4.99" height="5.00" fill="#454545"/><rect x="127.79" y="96.39" width="4.99" height="5.00" fill="#464646"/><rect x="132.72" y="96.39" width="4.99" height="5.00" fill="#454545"/><rect x="137.66" y="96.39" width="4.99" height="5.00" fill="#464646"/><rect x="142.59" y="96.39" width="4.99" height="5.00" fill="#595959"/><rect x="147.53" y="96.39" width="4.99" height="5.00" fill="#808080"/><rect x="152.46" y="96.39" width="12.99" height="5.00" fill="#808080"/><rect x="11.20" y="101.34" width="12.99" height="5.00" fill="#797979"/><rect x="24.14" y="101.34" width="4.99" height="5.00" fill="#969696"/><rect x="29.07" y="101.34" width="4.99" height="5.00" fill="#b8b8b8"/><rect x="34.01" y="101.34" width="4.99" height="5.00" fill="#c0c0c0"/><rect x="38.94" y="101.34" width="4.99" height="5.00" fill="#bfbfbf"/><rect x="43.88" y="101.34" width="4.99" height="5.00" fill="#cfcfcf"/><rect x="48.81" y="101.34" width="4.99" height="5.00" fill="#bfbfbf"/><rect x="53.75" y="101.34" width="4.99" height="5.00" fill="#b0b0b0"/><rect x="58.69" y="101.34" width="4.99" height="5.00" fill="#a1a1a1"/><rect x="63.62" y="101.34" width="4.99" height="5.00" fill="#b0b0b0"/><rect x="68.56" y="101.34" width="4.99" height="5.00" fill="#b0b0b0"/><rect x="73.49" y="101.34" width="4.99" height="5.00" fill="#a1a1a1"/><rect x="78.43" y="101.34" width="4.99" height="5.00" fill="#b0b0b0"/><rect x="83.36" y="101.34" width="4.99" height="5.00" fill="#bfbfbf"/><rect x="88.30" y="101.34" width="4.99" height="5.00" fill="#8f8f8f"/><rect x="93.24" y="101.34" width="4.99" height="5.00" fill="#5c5c5c"/><rect x="98.17" y="101.34" width="4.99" height="5.00" fill="#7e7e7e"/><rect x="103.11" y="101.34" width="4.99" height="5.00" fill="#7a7a7a"/><rect x="108.04" y="101.34" width="4.99" height="5.00" fill="#686868"/><rect x="112.98" y="101.34" width="4.99" height="5.00" fill="#515151"/><rect x="117.91" y="101.34" width="4.99" height="5.00" fill="#4a4a4a"/><rect x="122.85" y="101.34" width="4.99" height="5.00" fill="#484848"/><rect x="127.79" y="101.34" width="4.99" height="5.00" fill="#454545"/><rect x="132.72" y="101.34" width="4.99" height="5.00" fill="#454545"/><rect x="137.66" y="101.34" width="4.99" height="5.00" fill="#454545"/><rect x="142.59" y="101.34" width="4.99" height="5.00" fill="#464646"/><rect x="147.53" y="101.34" width="4.99" height="5.00" fill="#595959"/><rect x="152.46" y="101.34" width="12.99" height="5.00" fill="#808080"/><rect x="11.20" y="106.29" width="12.99" height="5.00" fill="#2a2a2a"/><rect x="24.14" y="106.29" width="4.99" height="5.00" fill="#333333"/><rect x="29.07" y="106.29" width="4.99" height="5.00" fill="#787878"/><rect x="34.01" y="106.29" width="4.99" height="5.00" fill="#949494"/><rect x="38.94" y="106.29" width="4.99" height="5.00" fill="#a1a1a1"/><rect x="43.88" y="106.29" width="4.99" height="5.00" fill="#8f8f8f"/><rect x="48.81" y="106.29" width="4.99" height="5.00" fill="#808080"/><rect x="53.75" y="106.29" width="4.99" height="5.00" fill="#737373"/><rect x="58.69" y="106.29" width="4.99" height="5.00" fill="#737373"/><rect x="63.62" y="106.29" width="4.99" height="5.00" fill="#5c5c5c"/><rect x="68.56" y="106.29" width="4.99" height="5.00" fill="#5c5c5c"/><rect x="73.49" y="106.29" width="4.99" height="5.00" fill="#5c5c5c"/><rect x="78.43" y="106.29" width="4.99" height="5.00" fill="#5c5c5c"/><rect x="83.36" y="106.29" width="4.99" height="5.00" fill="#5c5c5c"/><rect x="88.30" y="106.29" width="4.99" height="5.00" fill="#5c5c5c"/><rect x="93.24" y="106.29" width="4.99" height="5.00" fill="#6d6d6d"/><rect x="98.17" y="106.29" width="4.99" height="5.00" fill="#5c5c5c"/><rect x="103.11" y="106.29" width="4.99" height="5.00" fill="#6d6d6d"/><rect x="108.04" y="106.29" width="4.99" height="5.00" fill="#6c6c6c"/><rect x="112.98" y="106.29" width="4.99" height="5.00" fill="#5d5d5d"/><rect x="117.91" y="106.29" width="4.99" height="5.00" fill="#4b4b4b"/><rect x="122.85" y="106.29" width="4.99" height="5.00" fill="#474747"/><rect x="127.79" y="106.29" width="4.99" height="5.00" fill="#464646"/><rect x="132.72" y="106.29" width="4.99" height="5.00" fill="#454545"/><rect x="137.66" y="106.29" width="4.99" height="5.00" fill="#454545"/><rect x="142.59" y="106.29" width="4.99" height="5.00" fill="#454545"/><rect x="147.53" y="106.29" width="4.99" height="5.00" fill="#454545"/><rect x="152.46" y="106.29" width="12.99" height="5.00" fill="#595959"/><rect x="11.20" y="111.24" width="12.99" height="5.00" fill="#242424"/><rect x="24.14" y="111.24" width="4.99" height="5.00" fill="#282828"/><rect x="29.07" y="111.24" width="4.99" height="5.00" fill="#333333"/><rect x="34.01" y="111.24" width="4.99" height="5.00" fill="#595959"/><rect x="38.94" y="111.24" width="4.99" height="5.00" fill="#5c5c5c"/><rect x="43.88" y="111.24" width="4.99" height="5.00" fill="#5c5c5c"/><rect x="48.81" y="111.24" width="4.99" height="5.00" fill="#454545"/><rect x="53.75" y="111.24" width="4.99" height="5.00" fill="#454545"/><rect x="58.69" y="111.24" width="4.99" height="5.00" fill="#454545"/><rect x="63.62" y="111.24" width="4.99" height="5.00" fill="#333333"/><rect x="68.56" y="111.24" width="4.99" height="5.00" fill="#525252"/><rect x="73.49" y="111.24" width="4.99" height="5.00" fill="#5c5c5c"/><rect x="78.43" y="111.24" width="4.99" height="5.00" fill="#5c5c5c"/><rect x="83.36" y="111.24" width="4.99" height="5.00" fill="#5c5c5c"/><rect x="88.30" y="111.24" width="4.99" height="5.00" fill="#5c5c5c"/><rect x="93.24" y="111.24" width="4.99" height="5.00" fill="#5c5c5c"/><rect x="98.17" y="111.24" width="4.99" height="5.00" fill="#616161"/><rect x="103.11" y="111.24" width="4.99" height="5.00" fill="#5c5c5c"/><rect x="108.04" y="111.24" width="4.99" height="5.00" fill="#646464"/><rect x="112.98" y="111.24" width="4.99" height="5.00" fill="#646464"/><rect x="117.91" y="111.24" width="4.99" height="5.00" fill="#575757"/><rect x="122.85" y="111.24" width="4.99" height="5.00" fill="#484848"/><rect x="127.79" y="111.24" width="4.99" height="5.00" fill="#464646"/><rect x="132.72" y="111.24" width="4.99" height="5.00" fill="#464646"/><rect x="137.66" y="111.24" width="4.99" height="5.00" fill="#454545"/><rect x="142.59" y="111.24" width="4.99" height="5.00" fill="#454545"/><rect x="147.53" y="111.24" width="4.99" height="5.00" fill="#454545"/><rect x="152.46" y="111.24" width="12.99" height="5.00" fill="#454545"/><rect x="11.20" y="116.20" width="12.99" height="5.00" fill="#242424"/><rect x="24.14" y="116.20" width="4.99" height="5.00" fill="#242424"/><rect x="29.07" y="116.20" width="4.99" height="5.00" fill="#282828"/><rect x="34.01" y="116.20" width="4.99" height="5.00" fill="#333333"/><rect x="38.94" y="116.20" width="4.99" height="5.00" fill="#333333"/><rect x="43.88" y="116.20" width="4.99" height="5.00" fill="#242424"/><rect x="48.81" y="116.20" width="4.99" height="5.00" fill="#242424"/><rect x="53.75" y="116.20" width="4.99" height="5.00" fill="#242424"/><rect x="58.69" y="116.20" width="4.99" height="5.00" fill="#383838"/><rect x="63.62" y="116.20" width="4.99" height="5.00" fill="#3c3c3c"/><rect x="68.56" y="116.20" width="4.99" height="5.00" fill="#333333"/><rect x="73.49" y="116.20" width="4.99" height="5.00" fill="#4f4f4f"/><rect x="78.43" y="116.20" width="4.99" height="5.00" fill="#5c5c5c"/><rect x="83.36" y="116.20" width="4.99" height="5.00" fill="#5c5c5c"/><rect x="88.30" y="116.20" width="4.99" height="5.00" fill="#5c5c5c"/><rect x="93.24" y="116.20" width="4.99" height="5.00" fill="#5c5c5c"/><rect x="98.17" y="116.20" width="4.99" height="5.00" fill="#5c5c5c"/><rect x="103.11" y="116.20" width="4.99" height="5.00" fill="#5e5e5e"/><rect x="108.04" y="116.20" width="4.99" height="5.00" fill="#5c5c5c"/><rect x="112.98" y="116.20" width="4.99" height="5.00" fill="#606060"/><rect x="117.91" y="116.20" width="4.99" height="5.00" fill="#606060"/><rect x="122.85" y="116.20" width="4.99" height="5.00" fill="#545454"/><rect x="127.79" y="116.20" width="4.99" height="5.00" fill="#474747"/><rect x="132.72" y="116.20" width="4.99" height="5.00" fill="#464646"/><rect x="137.66" y="116.20" width="4.99" height="5.00" fill="#454545"/><rect x="142.59" y="116.20" width="4.99" height="5.00" fill="#454545"/><rect x="147.53" y="116.20" width="4.99" height="5.00" fill="#454545"/><rect x="152.46" y="116.20" width="12.99" height="5.00" fill="#454545"/><rect x="11.20" y="121.15" width="12.99" height="13.00" fill="#242424"/><rect x="24.14" y="121.15" width="4.99" height="13.00" fill="#242424"/><rect x="29.07" y="121.15" width="4.99" height="13.00" fill="#242424"/><rect x="34.01" y="121.15" width="4.99" height="13.00" fill="#242424"/><rect x="38.94" y="121.15" width="4.99" height="13.00" fill="#242424"/><rect x="43.88" y="121.15" width="4.99" height="13.00" fill="#242424"/><rect x="48.81" y="121.15" width="4.99" height="13.00" fill="#242424"/><rect x="53.75" y="121.15" width="4.99" height="13.00" fill="#242424"/><rect x="58.69" y="121.15" width="4.99" height="13.00" fill="#242424"/><rect x="63.62" y="121.15" width="4.99" height="13.00" fill="#333333"/><rect x="68.56" y="121.15" width="4.99" height="13.00" fill="#373737"/><rect x="73.49" y="121.15" width="4.99" height="13.00" fill="#333333"/><rect x="78.43" y="121.15" width="4.99" height="13.00" fill="#4e4e4e"/><rect x="83.36" y="121.15" width="4.99" height="13.00" fill="#5c5c5c"/><rect x="88.30" y="121.15" width="4.99" height="13.00" fill="#5c5c5c"/><rect x="93.24" y="121.15" width="4.99" height="13.00" fill="#5c5c5c"/><rect x="98.17" y="121.15" width="4.99" height="13.00" fill="#5c5c5c"/><rect x="103.11" y="121.15" width="4.99" height="13.00" fill="#5c5c5c"/><rect x="108.04" y="121.15" width="4.99" height="13.00" fill="#5c5c5c"/><rect x="112.98" y="121.15" width="4.99" height="13.00" fill="#5c5c5c"/><rect x="117.91" y="121.15" width="4.99" height="13.00" fill="#5e5e5e"/><rect x="122.85" y="121.15" width="4.99" height="13.00" fill="#5f5f5f"/><rect x="127.79" y="121.15" width="4.99" height="13.00" fill="#505050"/><rect x="132.72" y="121.15" width="4.99" height="13.00" fill="#464646"/><rect x="137.66" y="121.15" width="4.99" height="13.00" fill="#454545"/><rect x="142.59" y="121.15" width="4.99" height="13.00" fill="#454545"/><rect x="147.53" y="121.15" width="4.99" height="13.00" fill="#454545"/><rect x="152.46" y="121.15" width="12.99" height="13.00" fill="#454545"/></g><use href="#landall"/><g stroke="#a8a8a8" stroke-opacity="0.5" stroke-width="0.5" mask="url(#lmask)"><line x1="19.2" y1="117.6" x2="157.39999999999998" y2="117.6"/><line x1="19.2" y1="107.9" x2="157.39999999999998" y2="107.9"/><line x1="19.2" y1="98.3" x2="157.39999999999998" y2="98.3"/><line x1="19.2" y1="88.6" x2="157.39999999999998" y2="88.6"/><line x1="19.2" y1="78.9" x2="157.39999999999998" y2="78.9"/><line x1="19.2" y1="69.2" x2="157.39999999999998" y2="69.2"/><line x1="19.2" y1="59.5" x2="157.39999999999998" y2="59.5"/><line x1="19.2" y1="49.9" x2="157.39999999999998" y2="49.9"/><line x1="19.2" y1="40.2" x2="157.39999999999998" y2="40.2"/><line x1="19.2" y1="30.5" x2="157.39999999999998" y2="30.5"/><line x1="27.0" y1="22.1" x2="27.0" y2="126.1"/><line x1="43.4" y1="22.1" x2="43.4" y2="126.1"/><line x1="59.7" y1="22.1" x2="59.7" y2="126.1"/><line x1="76.1" y1="22.1" x2="76.1" y2="126.1"/><line x1="92.4" y1="22.1" x2="92.4" y2="126.1"/><line x1="108.8" y1="22.1" x2="108.8" y2="126.1"/><line x1="125.2" y1="22.1" x2="125.2" y2="126.1"/><line x1="141.5" y1="22.1" x2="141.5" y2="126.1"/></g><g fill="none" stroke="#fff" stroke-width="0.6" stroke-dasharray="2.2 1.6" opacity="0.75"><rect x="24" y="56.5" width="28.8" height="36"/><rect x="52.8" y="56.5" width="62.8" height="26"/></g></g><g stroke="#222" stroke-width="0.5"><line x1="19.2" y1="117.6" x2="20.5" y2="117.6"/><line x1="157.39999999999998" y1="117.6" x2="156.09999999999997" y2="117.6"/><line x1="19.2" y1="107.9" x2="20.5" y2="107.9"/><line x1="157.39999999999998" y1="107.9" x2="156.09999999999997" y2="107.9"/><line x1="19.2" y1="98.3" x2="20.5" y2="98.3"/><line x1="157.39999999999998" y1="98.3" x2="156.09999999999997" y2="98.3"/><line x1="19.2" y1="88.6" x2="20.5" y2="88.6"/><line x1="157.39999999999998" y1="88.6" x2="156.09999999999997" y2="88.6"/><line x1="19.2" y1="78.9" x2="20.5" y2="78.9"/><line x1="157.39999999999998" y1="78.9" x2="156.09999999999997" y2="78.9"/><line x1="19.2" y1="69.2" x2="20.5" y2="69.2"/><line x1="157.39999999999998" y1="69.2" x2="156.09999999999997" y2="69.2"/><line x1="19.2" y1="59.5" x2="20.5" y2="59.5"/><line x1="157.39999999999998" y1="59.5" x2="156.09999999999997" y2="59.5"/><line x1="19.2" y1="49.9" x2="20.5" y2="49.9"/><line x1="157.39999999999998" y1="49.9" x2="156.09999999999997" y2="49.9"/><line x1="19.2" y1="40.2" x2="20.5" y2="40.2"/><line x1="157.39999999999998" y1="40.2" x2="156.09999999999997" y2="40.2"/><line x1="19.2" y1="30.5" x2="20.5" y2="30.5"/><line x1="157.39999999999998" y1="30.5" x2="156.09999999999997" y2="30.5"/><line x1="27.0" y1="22.1" x2="27.0" y2="23.400000000000002"/><line x1="27.0" y1="126.1" x2="27.0" y2="124.8"/><line x1="43.4" y1="22.1" x2="43.4" y2="23.400000000000002"/><line x1="43.4" y1="126.1" x2="43.4" y2="124.8"/><line x1="59.7" y1="22.1" x2="59.7" y2="23.400000000000002"/><line x1="59.7" y1="126.1" x2="59.7" y2="124.8"/><line x1="76.1" y1="22.1" x2="76.1" y2="23.400000000000002"/><line x1="76.1" y1="126.1" x2="76.1" y2="124.8"/><line x1="92.4" y1="22.1" x2="92.4" y2="23.400000000000002"/><line x1="92.4" y1="126.1" x2="92.4" y2="124.8"/><line x1="108.8" y1="22.1" x2="108.8" y2="23.400000000000002"/><line x1="108.8" y1="126.1" x2="108.8" y2="124.8"/><line x1="125.2" y1="22.1" x2="125.2" y2="23.400000000000002"/><line x1="125.2" y1="126.1" x2="125.2" y2="124.8"/><line x1="141.5" y1="22.1" x2="141.5" y2="23.400000000000002"/><line x1="141.5" y1="126.1" x2="141.5" y2="124.8"/></g><rect x="19.2" y="22.1" width="138.2" height="104.0" fill="none" stroke="#333" stroke-width="0.5"/><text x="17.6" y="119.4" class="tk" text-anchor="end">35</text><text x="17.6" y="109.7" class="tk" text-anchor="end">36</text><text x="17.6" y="100.1" class="tk" text-anchor="end">37</text><text x="17.6" y="90.4" class="tk" text-anchor="end">38</text><text x="17.6" y="80.7" class="tk" text-anchor="end">39</text><text x="17.6" y="71.0" class="tk" text-anchor="end">40</text><text x="17.6" y="61.3" class="tk" text-anchor="end">41</text><text x="17.6" y="51.7" class="tk" text-anchor="end">42</text><text x="17.6" y="42.0" class="tk" text-anchor="end">43</text><text x="17.6" y="32.3" class="tk" text-anchor="end">44</text><text x="27.0" y="133.0" class="tk" text-anchor="middle">128</text><text x="43.4" y="133.0" class="tk" text-anchor="middle">130</text><text x="59.7" y="133.0" class="tk" text-anchor="middle">132</text><text x="76.1" y="133.0" class="tk" text-anchor="middle">134</text><text x="92.4" y="133.0" class="tk" text-anchor="middle">136</text><text x="108.8" y="133.0" class="tk" text-anchor="middle">138</text><text x="125.2" y="133.0" class="tk" text-anchor="middle">140</text><text x="141.5" y="133.0" class="tk" text-anchor="middle">142</text><text x="88.3" y="140.3" class="al" text-anchor="middle">Longitude (°E)</text><text transform="translate(10.2 74.1) rotate(-90)" class="al" text-anchor="middle">Latitude (°N)</text><rect x="158.9" y="22.1" width="3.0" height="104.0" fill="url(#jetgrad)"/><rect x="158.9" y="22.1" width="3.0" height="104.0" fill="none" stroke="#333" stroke-width="0.3"/><text x="164" y="127.8" class="tk">2</text><line x1="161.1" y1="126.1" x2="161.9" y2="126.1" stroke="#333" stroke-width="0.3"/><text x="164" y="116.2" class="tk">4</text><line x1="161.1" y1="114.5" x2="161.9" y2="114.5" stroke="#333" stroke-width="0.3"/><text x="164" y="104.7" class="tk">6</text><line x1="161.1" y1="103.0" x2="161.9" y2="103.0" stroke="#333" stroke-width="0.3"/><text x="164" y="93.1" class="tk">8</text><line x1="161.1" y1="91.4" x2="161.9" y2="91.4" stroke="#333" stroke-width="0.3"/><text x="164" y="81.6" class="tk">10</text><line x1="161.1" y1="79.9" x2="161.9" y2="79.9" stroke="#333" stroke-width="0.3"/><text x="164" y="70.0" class="tk">12</text><line x1="161.1" y1="68.3" x2="161.9" y2="68.3" stroke="#333" stroke-width="0.3"/><text x="164" y="58.5" class="tk">14</text><line x1="161.1" y1="56.8" x2="161.9" y2="56.8" stroke="#333" stroke-width="0.3"/><text x="164" y="46.9" class="tk">16</text><line x1="161.1" y1="45.2" x2="161.9" y2="45.2" stroke="#333" stroke-width="0.3"/><text x="164" y="35.4" class="tk">18</text><line x1="161.1" y1="33.7" x2="161.9" y2="33.7" stroke="#333" stroke-width="0.3"/><text x="164" y="23.8" class="tk">20</text><line x1="161.1" y1="22.1" x2="161.9" y2="22.1" stroke="#333" stroke-width="0.3"/><text transform="translate(174.8 74.1) rotate(-90)" text-anchor="middle" class="cbl">[cm/s]</text></g><g transform="translate(372.3 0)"><text x="9.8" y="12.4" class="pl">(C)</text><text x="88.3" y="20.1" class="ti" text-anchor="middle">STD of VA (2008 ~ 2023)</text><g clip-path="url(#mapclip)"><g filter="url(#jet)"><rect x="11.20" y="14.10" width="12.99" height="13.00" fill="#242424"/><rect x="24.14" y="14.10" width="4.99" height="13.00" fill="#242424"/><rect x="29.07" y="14.10" width="4.99" height="13.00" fill="#242424"/><rect x="34.01" y="14.10" width="4.99" height="13.00" fill="#242424"/><rect x="38.94" y="14.10" width="4.99" height="13.00" fill="#1e1e1e"/><rect x="43.88" y="14.10" width="4.99" height="13.00" fill="#121212"/><rect x="48.81" y="14.10" width="4.99" height="13.00" fill="#121212"/><rect x="53.75" y="14.10" width="4.99" height="13.00" fill="#121212"/><rect x="58.69" y="14.10" width="4.99" height="13.00" fill="#121212"/><rect x="63.62" y="14.10" width="4.99" height="13.00" fill="#121212"/><rect x="68.56" y="14.10" width="4.99" height="13.00" fill="#121212"/><rect x="73.49" y="14.10" width="4.99" height="13.00" fill="#121212"/><rect x="78.43" y="14.10" width="4.99" height="13.00" fill="#121212"/><rect x="83.36" y="14.10" width="4.99" height="13.00" fill="#121212"/><rect x="88.30" y="14.10" width="4.99" height="13.00" fill="#121212"/><rect x="93.24" y="14.10" width="4.99" height="13.00" fill="#121212"/><rect x="98.17" y="14.10" width="4.99" height="13.00" fill="#121212"/><rect x="103.11" y="14.10" width="4.99" height="13.00" fill="#121212"/><rect x="108.04" y="14.10" width="4.99" height="13.00" fill="#121212"/><rect x="112.98" y="14.10" width="4.99" height="13.00" fill="#242424"/><rect x="117.91" y="14.10" width="4.99" height="13.00" fill="#333333"/><rect x="122.85" y="14.10" width="4.99" height="13.00" fill="#242424"/><rect x="127.79" y="14.10" width="4.99" height="13.00" fill="#121212"/><rect x="132.72" y="14.10" width="4.99" height="13.00" fill="#121212"/><rect x="137.66" y="14.10" width="4.99" height="13.00" fill="#121212"/><rect x="142.59" y="14.10" width="4.99" height="13.00" fill="#121212"/><rect x="147.53" y="14.10" width="4.99" height="13.00" fill="#121212"/><rect x="152.46" y="14.10" width="12.99" height="13.00" fill="#121212"/><rect x="11.20" y="27.05" width="12.99" height="5.00" fill="#242424"/><rect x="24.14" y="27.05" width="4.99" height="5.00" fill="#242424"/><rect x="29.07" y="27.05" width="4.99" height="5.00" fill="#242424"/><rect x="34.01" y="27.05" width="4.99" height="5.00" fill="#242424"/><rect x="38.94" y="27.05" width="4.99" height="5.00" fill="#242424"/><rect x="43.88" y="27.05" width="4.99" height="5.00" fill="#1e1e1e"/><rect x="48.81" y="27.05" width="4.99" height="5.00" fill="#121212"/><rect x="53.75" y="27.05" width="4.99" height="5.00" fill="#121212"/><rect x="58.69" y="27.05" width="4.99" height="5.00" fill="#121212"/><rect x="63.62" y="27.05" width="4.99" height="5.00" fill="#121212"/><rect x="68.56" y="27.05" width="4.99" height="5.00" fill="#121212"/><rect x="73.49" y="27.05" width="4.99" height="5.00" fill="#121212"/><rect x="78.43" y="27.05" width="4.99" height="5.00" fill="#121212"/><rect x="83.36" y="27.05" width="4.99" height="5.00" fill="#121212"/><rect x="88.30" y="27.05" width="4.99" height="5.00" fill="#121212"/><rect x="93.24" y="27.05" width="4.99" height="5.00" fill="#121212"/><rect x="98.17" y="27.05" width="4.99" height="5.00" fill="#121212"/><rect x="103.11" y="27.05" width="4.99" height="5.00" fill="#121212"/><rect x="108.04" y="27.05" width="4.99" height="5.00" fill="#121212"/><rect x="112.98" y="27.05" width="4.99" height="5.00" fill="#333333"/><rect x="117.91" y="27.05" width="4.99" height="5.00" fill="#333333"/><rect x="122.85" y="27.05" width="4.99" height="5.00" fill="#333333"/><rect x="127.79" y="27.05" width="4.99" height="5.00" fill="#242424"/><rect x="132.72" y="27.05" width="4.99" height="5.00" fill="#121212"/><rect x="137.66" y="27.05" width="4.99" height="5.00" fill="#121212"/><rect x="142.59" y="27.05" width="4.99" height="5.00" fill="#121212"/><rect x="147.53" y="27.05" width="4.99" height="5.00" fill="#121212"/><rect x="152.46" y="27.05" width="12.99" height="5.00" fill="#121212"/><rect x="11.20" y="32.00" width="12.99" height="5.00" fill="#242424"/><rect x="24.14" y="32.00" width="4.99" height="5.00" fill="#242424"/><rect x="29.07" y="32.00" width="4.99" height="5.00" fill="#242424"/><rect x="34.01" y="32.00" width="4.99" height="5.00" fill="#242424"/><rect x="38.94" y="32.00" width="4.99" height="5.00" fill="#242424"/><rect x="43.88" y="32.00" width="4.99" height="5.00" fill="#242424"/><rect x="48.81" y="32.00" width="4.99" height="5.00" fill="#1d1d1d"/><rect x="53.75" y="32.00" width="4.99" height="5.00" fill="#121212"/><rect x="58.69" y="32.00" width="4.99" height="5.00" fill="#121212"/><rect x="63.62" y="32.00" width="4.99" height="5.00" fill="#121212"/><rect x="68.56" y="32.00" width="4.99" height="5.00" fill="#0e0e0e"/><rect x="73.49" y="32.00" width="4.99" height="5.00" fill="#121212"/><rect x="78.43" y="32.00" width="4.99" height="5.00" fill="#121212"/><rect x="83.36" y="32.00" width="4.99" height="5.00" fill="#121212"/><rect x="88.30" y="32.00" width="4.99" height="5.00" fill="#121212"/><rect x="93.24" y="32.00" width="4.99" height="5.00" fill="#121212"/><rect x="98.17" y="32.00" width="4.99" height="5.00" fill="#121212"/><rect x="103.11" y="32.00" width="4.99" height="5.00" fill="#121212"/><rect x="108.04" y="32.00" width="4.99" height="5.00" fill="#242424"/><rect x="112.98" y="32.00" width="4.99" height="5.00" fill="#333333"/><rect x="117.91" y="32.00" width="4.99" height="5.00" fill="#333333"/><rect x="122.85" y="32.00" width="4.99" height="5.00" fill="#333333"/><rect x="127.79" y="32.00" width="4.99" height="5.00" fill="#242424"/><rect x="132.72" y="32.00" width="4.99" height="5.00" fill="#1e1e1e"/><rect x="137.66" y="32.00" width="4.99" height="5.00" fill="#121212"/><rect x="142.59" y="32.00" width="4.99" height="5.00" fill="#121212"/><rect x="147.53" y="32.00" width="4.99" height="5.00" fill="#121212"/><rect x="152.46" y="32.00" width="12.99" height="5.00" fill="#121212"/><rect x="11.20" y="36.96" width="12.99" height="5.00" fill="#252525"/><rect x="24.14" y="36.96" width="4.99" height="5.00" fill="#242424"/><rect x="29.07" y="36.96" width="4.99" height="5.00" fill="#242424"/><rect x="34.01" y="36.96" width="4.99" height="5.00" fill="#242424"/><rect x="38.94" y="36.96" width="4.99" height="5.00" fill="#242424"/><rect x="43.88" y="36.96" width="4.99" height="5.00" fill="#242424"/><rect x="48.81" y="36.96" width="4.99" height="5.00" fill="#242424"/><rect x="53.75" y="36.96" width="4.99" height="5.00" fill="#1b1b1b"/><rect x="58.69" y="36.96" width="4.99" height="5.00" fill="#121212"/><rect x="63.62" y="36.96" width="4.99" height="5.00" fill="#0f0f0f"/><rect x="68.56" y="36.96" width="4.99" height="5.00" fill="#090909"/><rect x="73.49" y="36.96" width="4.99" height="5.00" fill="#080808"/><rect x="78.43" y="36.96" width="4.99" height="5.00" fill="#121212"/><rect x="83.36" y="36.96" width="4.99" height="5.00" fill="#121212"/><rect x="88.30" y="36.96" width="4.99" height="5.00" fill="#121212"/><rect x="93.24" y="36.96" width="4.99" height="5.00" fill="#121212"/><rect x="98.17" y="36.96" width="4.99" height="5.00" fill="#121212"/><rect x="103.11" y="36.96" width="4.99" height="5.00" fill="#121212"/><rect x="108.04" y="36.96" width="4.99" height="5.00" fill="#242424"/><rect x="112.98" y="36.96" width="4.99" height="5.00" fill="#333333"/><rect x="117.91" y="36.96" width="4.99" height="5.00" fill="#333333"/><rect x="122.85" y="36.96" width="4.99" height="5.00" fill="#242424"/><rect x="127.79" y="36.96" width="4.99" height="5.00" fill="#363636"/><rect x="132.72" y="36.96" width="4.99" height="5.00" fill="#242424"/><rect x="137.66" y="36.96" width="4.99" height="5.00" fill="#1c1c1c"/><rect x="142.59" y="36.96" width="4.99" height="5.00" fill="#121212"/><rect x="147.53" y="36.96" width="4.99" height="5.00" fill="#121212"/><rect x="152.46" y="36.96" width="12.99" height="5.00" fill="#121212"/><rect x="11.20" y="41.91" width="12.99" height="5.00" fill="#303030"/><rect x="24.14" y="41.91" width="4.99" height="5.00" fill="#262626"/><rect x="29.07" y="41.91" width="4.99" height="5.00" fill="#242424"/><rect x="34.01" y="41.91" width="4.99" height="5.00" fill="#242424"/><rect x="38.94" y="41.91" width="4.99" height="5.00" fill="#242424"/><rect x="43.88" y="41.91" width="4.99" height="5.00" fill="#242424"/><rect x="48.81" y="41.91" width="4.99" height="5.00" fill="#242424"/><rect x="53.75" y="41.91" width="4.99" height="5.00" fill="#242424"/><rect x="58.69" y="41.91" width="4.99" height="5.00" fill="#121212"/><rect x="63.62" y="41.91" width="4.99" height="5.00" fill="#121212"/><rect x="68.56" y="41.91" width="4.99" height="5.00" fill="#050505"/><rect x="73.49" y="41.91" width="4.99" height="5.00" fill="#050505"/><rect x="78.43" y="41.91" width="4.99" height="5.00" fill="#050505"/><rect x="83.36" y="41.91" width="4.99" height="5.00" fill="#050505"/><rect x="88.30" y="41.91" width="4.99" height="5.00" fill="#050505"/><rect x="93.24" y="41.91" width="4.99" height="5.00" fill="#121212"/><rect x="98.17" y="41.91" width="4.99" height="5.00" fill="#121212"/><rect x="103.11" y="41.91" width="4.99" height="5.00" fill="#121212"/><rect x="108.04" y="41.91" width="4.99" height="5.00" fill="#242424"/><rect x="112.98" y="41.91" width="4.99" height="5.00" fill="#242424"/><rect x="117.91" y="41.91" width="4.99" height="5.00" fill="#333333"/><rect x="122.85" y="41.91" width="4.99" height="5.00" fill="#5c5c5c"/><rect x="127.79" y="41.91" width="4.99" height="5.00" fill="#494949"/><rect x="132.72" y="41.91" width="4.99" height="5.00" fill="#434343"/><rect x="137.66" y="41.91" width="4.99" height="5.00" fill="#242424"/><rect x="142.59" y="41.91" width="4.99" height="5.00" fill="#1b1b1b"/><rect x="147.53" y="41.91" width="4.99" height="5.00" fill="#121212"/><rect x="152.46" y="41.91" width="12.99" height="5.00" fill="#121212"/><rect x="11.20" y="46.86" width="12.99" height="5.00" fill="#454545"/><rect x="24.14" y="46.86" width="4.99" height="5.00" fill="#313131"/><rect x="29.07" y="46.86" width="4.99" height="5.00" fill="#282828"/><rect x="34.01" y="46.86" width="4.99" height="5.00" fill="#242424"/><rect x="38.94" y="46.86" width="4.99" height="5.00" fill="#242424"/><rect x="43.88" y="46.86" width="4.99" height="5.00" fill="#242424"/><rect x="48.81" y="46.86" width="4.99" height="5.00" fill="#242424"/><rect x="53.75" y="46.86" width="4.99" height="5.00" fill="#121212"/><rect x="58.69" y="46.86" width="4.99" height="5.00" fill="#121212"/><rect x="63.62" y="46.86" width="4.99" height="5.00" fill="#121212"/><rect x="68.56" y="46.86" width="4.99" height="5.00" fill="#050505"/><rect x="73.49" y="46.86" width="4.99" height="5.00" fill="#050505"/><rect x="78.43" y="46.86" width="4.99" height="5.00" fill="#050505"/><rect x="83.36" y="46.86" width="4.99" height="5.00" fill="#050505"/><rect x="88.30" y="46.86" width="4.99" height="5.00" fill="#050505"/><rect x="93.24" y="46.86" width="4.99" height="5.00" fill="#121212"/><rect x="98.17" y="46.86" width="4.99" height="5.00" fill="#121212"/><rect x="103.11" y="46.86" width="4.99" height="5.00" fill="#242424"/><rect x="108.04" y="46.86" width="4.99" height="5.00" fill="#242424"/><rect x="112.98" y="46.86" width="4.99" height="5.00" fill="#454545"/><rect x="117.91" y="46.86" width="4.99" height="5.00" fill="#5c5c5c"/><rect x="122.85" y="46.86" width="4.99" height="5.00" fill="#5c5c5c"/><rect x="127.79" y="46.86" width="4.99" height="5.00" fill="#686868"/><rect x="132.72" y="46.86" width="4.99" height="5.00" fill="#696969"/><rect x="137.66" y="46.86" width="4.99" height="5.00" fill="#535353"/><rect x="142.59" y="46.86" width="4.99" height="5.00" fill="#242424"/><rect x="147.53" y="46.86" width="4.99" height="5.00" fill="#1b1b1b"/><rect x="152.46" y="46.86" width="12.99" height="5.00" fill="#121212"/><rect x="11.20" y="51.81" width="12.99" height="5.00" fill="#424242"/><rect x="24.14" y="51.81" width="4.99" height="5.00" fill="#454545"/><rect x="29.07" y="51.81" width="4.99" height="5.00" fill="#343434"/><rect x="34.01" y="51.81" width="4.99" height="5.00" fill="#2b2b2b"/><rect x="38.94" y="51.81" width="4.99" height="5.00" fill="#242424"/><rect x="43.88" y="51.81" width="4.99" height="5.00" fill="#242424"/><rect x="48.81" y="51.81" width="4.99" height="5.00" fill="#242424"/><rect x="53.75" y="51.81" width="4.99" height="5.00" fill="#121212"/><rect x="58.69" y="51.81" width="4.99" height="5.00" fill="#121212"/><rect x="63.62" y="51.81" width="4.99" height="5.00" fill="#050505"/><rect x="68.56" y="51.81" width="4.99" height="5.00" fill="#050505"/><rect x="73.49" y="51.81" width="4.99" height="5.00" fill="#050505"/><rect x="78.43" y="51.81" width="4.99" height="5.00" fill="#050505"/><rect x="83.36" y="51.81" width="4.99" height="5.00" fill="#050505"/><rect x="88.30" y="51.81" width="4.99" height="5.00" fill="#050505"/><rect x="93.24" y="51.81" width="4.99" height="5.00" fill="#050505"/><rect x="98.17" y="51.81" width="4.99" height="5.00" fill="#050505"/><rect x="103.11" y="51.81" width="4.99" height="5.00" fill="#121212"/><rect x="108.04" y="51.81" width="4.99" height="5.00" fill="#121212"/><rect x="112.98" y="51.81" width="4.99" height="5.00" fill="#333333"/><rect x="117.91" y="51.81" width="4.99" height="5.00" fill="#5c5c5c"/><rect x="122.85" y="51.81" width="4.99" height="5.00" fill="#808080"/><rect x="127.79" y="51.81" width="4.99" height="5.00" fill="#898989"/><rect x="132.72" y="51.81" width="4.99" height="5.00" fill="#7e7e7e"/><rect x="137.66" y="51.81" width="4.99" height="5.00" fill="#797979"/><rect x="142.59" y="51.81" width="4.99" height="5.00" fill="#5c5c5c"/><rect x="147.53" y="51.81" width="4.99" height="5.00" fill="#242424"/><rect x="152.46" y="51.81" width="12.99" height="5.00" fill="#1b1b1b"/><rect x="11.20" y="56.77" width="12.99" height="5.00" fill="#3d3d3d"/><rect x="24.14" y="56.77" width="4.99" height="5.00" fill="#434343"/><rect x="29.07" y="56.77" width="4.99" height="5.00" fill="#454545"/><rect x="34.01" y="56.77" width="4.99" height="5.00" fill="#3e3e3e"/><rect x="38.94" y="56.77" width="4.99" height="5.00" fill="#333333"/><rect x="43.88" y="56.77" width="4.99" height="5.00" fill="#333333"/><rect x="48.81" y="56.77" width="4.99" height="5.00" fill="#454545"/><rect x="53.75" y="56.77" width="4.99" height="5.00" fill="#454545"/><rect x="58.69" y="56.77" width="4.99" height="5.00" fill="#333333"/><rect x="63.62" y="56.77" width="4.99" height="5.00" fill="#242424"/><rect x="68.56" y="56.77" width="4.99" height="5.00" fill="#242424"/><rect x="73.49" y="56.77" width="4.99" height="5.00" fill="#121212"/><rect x="78.43" y="56.77" width="4.99" height="5.00" fill="#050505"/><rect x="83.36" y="56.77" width="4.99" height="5.00" fill="#050505"/><rect x="88.30" y="56.77" width="4.99" height="5.00" fill="#050505"/><rect x="93.24" y="56.77" width="4.99" height="5.00" fill="#050505"/><rect x="98.17" y="56.77" width="4.99" height="5.00" fill="#121212"/><rect x="103.11" y="56.77" width="4.99" height="5.00" fill="#242424"/><rect x="108.04" y="56.77" width="4.99" height="5.00" fill="#333333"/><rect x="112.98" y="56.77" width="4.99" height="5.00" fill="#5c5c5c"/><rect x="117.91" y="56.77" width="4.99" height="5.00" fill="#a1a1a1"/><rect x="122.85" y="56.77" width="4.99" height="5.00" fill="#bfbfbf"/><rect x="127.79" y="56.77" width="4.99" height="5.00" fill="#898989"/><rect x="132.72" y="56.77" width="4.99" height="5.00" fill="#858585"/><rect x="137.66" y="56.77" width="4.99" height="5.00" fill="#7f7f7f"/><rect x="142.59" y="56.77" width="4.99" height="5.00" fill="#7b7b7b"/><rect x="147.53" y="56.77" width="4.99" height="5.00" fill="#5d5d5d"/><rect x="152.46" y="56.77" width="12.99" height="5.00" fill="#242424"/><rect x="11.20" y="61.72" width="12.99" height="5.00" fill="#333333"/><rect x="24.14" y="61.72" width="4.99" height="5.00" fill="#474747"/><rect x="29.07" y="61.72" width="4.99" height="5.00" fill="#4c4c4c"/><rect x="34.01" y="61.72" width="4.99" height="5.00" fill="#454545"/><rect x="38.94" y="61.72" width="4.99" height="5.00" fill="#5c5c5c"/><rect x="43.88" y="61.72" width="4.99" height="5.00" fill="#5c5c5c"/><rect x="48.81" y="61.72" width="4.99" height="5.00" fill="#5c5c5c"/><rect x="53.75" y="61.72" width="4.99" height="5.00" fill="#5c5c5c"/><rect x="58.69" y="61.72" width="4.99" height="5.00" fill="#454545"/><rect x="63.62" y="61.72" width="4.99" height="5.00" fill="#333333"/><rect x="68.56" y="61.72" width="4.99" height="5.00" fill="#333333"/><rect x="73.49" y="61.72" width="4.99" height="5.00" fill="#333333"/><rect x="78.43" y="61.72" width="4.99" height="5.00" fill="#242424"/><rect x="83.36" y="61.72" width="4.99" height="5.00" fill="#242424"/><rect x="88.30" y="61.72" width="4.99" height="5.00" fill="#333333"/><rect x="93.24" y="61.72" width="4.99" height="5.00" fill="#454545"/><rect x="98.17" y="61.72" width="4.99" height="5.00" fill="#5c5c5c"/><rect x="103.11" y="61.72" width="4.99" height="5.00" fill="#808080"/><rect x="108.04" y="61.72" width="4.99" height="5.00" fill="#8f8f8f"/><rect x="112.98" y="61.72" width="4.99" height="5.00" fill="#a1a1a1"/><rect x="117.91" y="61.72" width="4.99" height="5.00" fill="#bfbfbf"/><rect x="122.85" y="61.72" width="4.99" height="5.00" fill="#5c5c5c"/><rect x="127.79" y="61.72" width="4.99" height="5.00" fill="#7d7d7d"/><rect x="132.72" y="61.72" width="4.99" height="5.00" fill="#7a7a7a"/><rect x="137.66" y="61.72" width="4.99" height="5.00" fill="#7a7a7a"/><rect x="142.59" y="61.72" width="4.99" height="5.00" fill="#787878"/><rect x="147.53" y="61.72" width="4.99" height="5.00" fill="#777777"/><rect x="152.46" y="61.72" width="12.99" height="5.00" fill="#5a5a5a"/><rect x="11.20" y="66.67" width="12.99" height="5.00" fill="#474747"/><rect x="24.14" y="66.67" width="4.99" height="5.00" fill="#333333"/><rect x="29.07" y="66.67" width="4.99" height="5.00" fill="#5c5c5c"/><rect x="34.01" y="66.67" width="4.99" height="5.00" fill="#5c5c5c"/><rect x="38.94" y="66.67" width="4.99" height="5.00" fill="#5c5c5c"/><rect x="43.88" y="66.67" width="4.99" height="5.00" fill="#5c5c5c"/><rect x="48.81" y="66.67" width="4.99" height="5.00" fill="#737373"/><rect x="53.75" y="66.67" width="4.99" height="5.00" fill="#808080"/><rect x="58.69" y="66.67" width="4.99" height="5.00" fill="#737373"/><rect x="63.62" y="66.67" width="4.99" height="5.00" fill="#5c5c5c"/><rect x="68.56" y="66.67" width="4.99" height="5.00" fill="#5c5c5c"/><rect x="73.49" y="66.67" width="4.99" height="5.00" fill="#5c5c5c"/><rect x="78.43" y="66.67" width="4.99" height="5.00" fill="#454545"/><rect x="83.36" y="66.67" width="4.99" height="5.00" fill="#454545"/><rect x="88.30" y="66.67" width="4.99" height="5.00" fill="#5c5c5c"/><rect x="93.24" y="66.67" width="4.99" height="5.00" fill="#5c5c5c"/><rect x="98.17" y="66.67" width="4.99" height="5.00" fill="#808080"/><rect x="103.11" y="66.67" width="4.99" height="5.00" fill="#8f8f8f"/><rect x="108.04" y="66.67" width="4.99" height="5.00" fill="#bfbfbf"/><rect x="112.98" y="66.67" width="4.99" height="5.00" fill="#a1a1a1"/><rect x="117.91" y="66.67" width="4.99" height="5.00" fill="#b0b0b0"/><rect x="122.85" y="66.67" width="4.99" height="5.00" fill="#5c5c5c"/><rect x="127.79" y="66.67" width="4.99" height="5.00" fill="#686868"/><rect x="132.72" y="66.67" width="4.99" height="5.00" fill="#6f6f6f"/><rect x="137.66" y="66.67" width="4.99" height="5.00" fill="#717171"/><rect x="142.59" y="66.67" width="4.99" height="5.00" fill="#727272"/><rect x="147.53" y="66.67" width="4.99" height="5.00" fill="#727272"/><rect x="152.46" y="66.67" width="12.99" height="5.00" fill="#727272"/><rect x="11.20" y="71.62" width="12.99" height="5.00" fill="#5a5a5a"/><rect x="24.14" y="71.62" width="4.99" height="5.00" fill="#5c5c5c"/><rect x="29.07" y="71.62" width="4.99" height="5.00" fill="#808080"/><rect x="34.01" y="71.62" width="4.99" height="5.00" fill="#bfbfbf"/><rect x="38.94" y="71.62" width="4.99" height="5.00" fill="#bfbfbf"/><rect x="43.88" y="71.62" width="4.99" height="5.00" fill="#a1a1a1"/><rect x="48.81" y="71.62" width="4.99" height="5.00" fill="#a1a1a1"/><rect x="53.75" y="71.62" width="4.99" height="5.00" fill="#cfcfcf"/><rect x="58.69" y="71.62" width="4.99" height="5.00" fill="#bfbfbf"/><rect x="63.62" y="71.62" width="4.99" height="5.00" fill="#a1a1a1"/><rect x="68.56" y="71.62" width="4.99" height="5.00" fill="#8f8f8f"/><rect x="73.49" y="71.62" width="4.99" height="5.00" fill="#808080"/><rect x="78.43" y="71.62" width="4.99" height="5.00" fill="#a1a1a1"/><rect x="83.36" y="71.62" width="4.99" height="5.00" fill="#a1a1a1"/><rect x="88.30" y="71.62" width="4.99" height="5.00" fill="#808080"/><rect x="93.24" y="71.62" width="4.99" height="5.00" fill="#b0b0b0"/><rect x="98.17" y="71.62" width="4.99" height="5.00" fill="#cfcfcf"/><rect x="103.11" y="71.62" width="4.99" height="5.00" fill="#b0b0b0"/><rect x="108.04" y="71.62" width="4.99" height="5.00" fill="#cfcfcf"/><rect x="112.98" y="71.62" width="4.99" height="5.00" fill="#a1a1a1"/><rect x="117.91" y="71.62" width="4.99" height="5.00" fill="#8f8f8f"/><rect x="122.85" y="71.62" width="4.99" height="5.00" fill="#808080"/><rect x="127.79" y="71.62" width="4.99" height="5.00" fill="#686868"/><rect x="132.72" y="71.62" width="4.99" height="5.00" fill="#6a6a6a"/><rect x="137.66" y="71.62" width="4.99" height="5.00" fill="#6a6a6a"/><rect x="142.59" y="71.62" width="4.99" height="5.00" fill="#6b6b6b"/><rect x="147.53" y="71.62" width="4.99" height="5.00" fill="#6c6c6c"/><rect x="152.46" y="71.62" width="12.99" height="5.00" fill="#6c6c6c"/><rect x="11.20" y="76.58" width="12.99" height="5.00" fill="#6e6e6e"/><rect x="24.14" y="76.58" width="4.99" height="5.00" fill="#808080"/><rect x="29.07" y="76.58" width="4.99" height="5.00" fill="#a1a1a1"/><rect x="34.01" y="76.58" width="4.99" height="5.00" fill="#e0e0e0"/><rect x="38.94" y="76.58" width="4.99" height="5.00" fill="#e0e0e0"/><rect x="43.88" y="76.58" width="4.99" height="5.00" fill="#bfbfbf"/><rect x="48.81" y="76.58" width="4.99" height="5.00" fill="#a1a1a1"/><rect x="53.75" y="76.58" width="4.99" height="5.00" fill="#a1a1a1"/><rect x="58.69" y="76.58" width="4.99" height="5.00" fill="#8f8f8f"/><rect x="63.62" y="76.58" width="4.99" height="5.00" fill="#808080"/><rect x="68.56" y="76.58" width="4.99" height="5.00" fill="#8f8f8f"/><rect x="73.49" y="76.58" width="4.99" height="5.00" fill="#a1a1a1"/><rect x="78.43" y="76.58" width="4.99" height="5.00" fill="#bfbfbf"/><rect x="83.36" y="76.58" width="4.99" height="5.00" fill="#bfbfbf"/><rect x="88.30" y="76.58" width="4.99" height="5.00" fill="#bfbfbf"/><rect x="93.24" y="76.58" width="4.99" height="5.00" fill="#e0e0e0"/><rect x="98.17" y="76.58" width="4.99" height="5.00" fill="#f2f2f2"/><rect x="103.11" y="76.58" width="4.99" height="5.00" fill="#cfcfcf"/><rect x="108.04" y="76.58" width="4.99" height="5.00" fill="#cfcfcf"/><rect x="112.98" y="76.58" width="4.99" height="5.00" fill="#a1a1a1"/><rect x="117.91" y="76.58" width="4.99" height="5.00" fill="#808080"/><rect x="122.85" y="76.58" width="4.99" height="5.00" fill="#5c5c5c"/><rect x="127.79" y="76.58" width="4.99" height="5.00" fill="#6e6e6e"/><rect x="132.72" y="76.58" width="4.99" height="5.00" fill="#666666"/><rect x="137.66" y="76.58" width="4.99" height="5.00" fill="#676767"/><rect x="142.59" y="76.58" width="4.99" height="5.00" fill="#666666"/><rect x="147.53" y="76.58" width="4.99" height="5.00" fill="#676767"/><rect x="152.46" y="76.58" width="12.99" height="5.00" fill="#676767"/><rect x="11.20" y="81.53" width="12.99" height="5.00" fill="#808080"/><rect x="24.14" y="81.53" width="4.99" height="5.00" fill="#8b8b8b"/><rect x="29.07" y="81.53" width="4.99" height="5.00" fill="#808080"/><rect x="34.01" y="81.53" width="4.99" height="5.00" fill="#e0e0e0"/><rect x="38.94" y="81.53" width="4.99" height="5.00" fill="#e0e0e0"/><rect x="43.88" y="81.53" width="4.99" height="5.00" fill="#e0e0e0"/><rect x="48.81" y="81.53" width="4.99" height="5.00" fill="#cfcfcf"/><rect x="53.75" y="81.53" width="4.99" height="5.00" fill="#bfbfbf"/><rect x="58.69" y="81.53" width="4.99" height="5.00" fill="#a1a1a1"/><rect x="63.62" y="81.53" width="4.99" height="5.00" fill="#bfbfbf"/><rect x="68.56" y="81.53" width="4.99" height="5.00" fill="#a1a1a1"/><rect x="73.49" y="81.53" width="4.99" height="5.00" fill="#cfcfcf"/><rect x="78.43" y="81.53" width="4.99" height="5.00" fill="#e0e0e0"/><rect x="83.36" y="81.53" width="4.99" height="5.00" fill="#e0e0e0"/><rect x="88.30" y="81.53" width="4.99" height="5.00" fill="#e0e0e0"/><rect x="93.24" y="81.53" width="4.99" height="5.00" fill="#e0e0e0"/><rect x="98.17" y="81.53" width="4.99" height="5.00" fill="#e0e0e0"/><rect x="103.11" y="81.53" width="4.99" height="5.00" fill="#cfcfcf"/><rect x="108.04" y="81.53" width="4.99" height="5.00" fill="#a1a1a1"/><rect x="112.98" y="81.53" width="4.99" height="5.00" fill="#5c5c5c"/><rect x="117.91" y="81.53" width="4.99" height="5.00" fill="#454545"/><rect x="122.85" y="81.53" width="4.99" height="5.00" fill="#606060"/><rect x="127.79" y="81.53" width="4.99" height="5.00" fill="#5c5c5c"/><rect x="132.72" y="81.53" width="4.99" height="5.00" fill="#656565"/><rect x="137.66" y="81.53" width="4.99" height="5.00" fill="#626262"/><rect x="142.59" y="81.53" width="4.99" height="5.00" fill="#636363"/><rect x="147.53" y="81.53" width="4.99" height="5.00" fill="#636363"/><rect x="152.46" y="81.53" width="12.99" height="5.00" fill="#636363"/><rect x="11.20" y="86.48" width="12.99" height="5.00" fill="#838383"/><rect x="24.14" y="86.48" width="4.99" height="5.00" fill="#808080"/><rect x="29.07" y="86.48" width="4.99" height="5.00" fill="#b5b5b5"/><rect x="34.01" y="86.48" width="4.99" height="5.00" fill="#bfbfbf"/><rect x="38.94" y="86.48" width="4.99" height="5.00" fill="#e0e0e0"/><rect x="43.88" y="86.48" width="4.99" height="5.00" fill="#e0e0e0"/><rect x="48.81" y="86.48" width="4.99" height="5.00" fill="#e0e0e0"/><rect x="53.75" y="86.48" width="4.99" height="5.00" fill="#bfbfbf"/><rect x="58.69" y="86.48" width="4.99" height="5.00" fill="#a1a1a1"/><rect x="63.62" y="86.48" width="4.99" height="5.00" fill="#bfbfbf"/><rect x="68.56" y="86.48" width="4.99" height="5.00" fill="#a1a1a1"/><rect x="73.49" y="86.48" width="4.99" height="5.00" fill="#e0e0e0"/><rect x="78.43" y="86.48" width="4.99" height="5.00" fill="#f2f2f2"/><rect x="83.36" y="86.48" width="4.99" height="5.00" fill="#e0e0e0"/><rect x="88.30" y="86.48" width="4.99" height="5.00" fill="#f2f2f2"/><rect x="93.24" y="86.48" width="4.99" height="5.00" fill="#e0e0e0"/><rect x="98.17" y="86.48" width="4.99" height="5.00" fill="#808080"/><rect x="103.11" y="86.48" width="4.99" height="5.00" fill="#5c5c5c"/><rect x="108.04" y="86.48" width="4.99" height="5.00" fill="#5c5c5c"/><rect x="112.98" y="86.48" width="4.99" height="5.00" fill="#454545"/><rect x="117.91" y="86.48" width="4.99" height="5.00" fill="#4c4c4c"/><rect x="122.85" y="86.48" width="4.99" height="5.00" fill="#454545"/><rect x="127.79" y="86.48" width="4.99" height="5.00" fill="#565656"/><rect x="132.72" y="86.48" width="4.99" height="5.00" fill="#5c5c5c"/><rect x="137.66" y="86.48" width="4.99" height="5.00" fill="#606060"/><rect x="142.59" y="86.48" width="4.99" height="5.00" fill="#5f5f5f"/><rect x="147.53" y="86.48" width="4.99" height="5.00" fill="#606060"/><rect x="152.46" y="86.48" width="12.99" height="5.00" fill="#606060"/><rect x="11.20" y="91.43" width="12.99" height="5.00" fill="#808080"/><rect x="24.14" y="91.43" width="4.99" height="5.00" fill="#a7a7a7"/><rect x="29.07" y="91.43" width="4.99" height="5.00" fill="#bfbfbf"/><rect x="34.01" y="91.43" width="4.99" height="5.00" fill="#d0d0d0"/><rect x="38.94" y="91.43" width="4.99" height="5.00" fill="#e0e0e0"/><rect x="43.88" y="91.43" width="4.99" height="5.00" fill="#e0e0e0"/><rect x="48.81" y="91.43" width="4.99" height="5.00" fill="#cfcfcf"/><rect x="53.75" y="91.43" width="4.99" height="5.00" fill="#bfbfbf"/><rect x="58.69" y="91.43" width="4.99" height="5.00" fill="#a1a1a1"/><rect x="63.62" y="91.43" width="4.99" height="5.00" fill="#bfbfbf"/><rect x="68.56" y="91.43" width="4.99" height="5.00" fill="#b0b0b0"/><rect x="73.49" y="91.43" width="4.99" height="5.00" fill="#e0e0e0"/><rect x="78.43" y="91.43" width="4.99" height="5.00" fill="#e0e0e0"/><rect x="83.36" y="91.43" width="4.99" height="5.00" fill="#e0e0e0"/><rect x="88.30" y="91.43" width="4.99" height="5.00" fill="#e0e0e0"/><rect x="93.24" y="91.43" width="4.99" height="5.00" fill="#bfbfbf"/><rect x="98.17" y="91.43" width="4.99" height="5.00" fill="#9f9f9f"/><rect x="103.11" y="91.43" width="4.99" height="5.00" fill="#686868"/><rect x="108.04" y="91.43" width="4.99" height="5.00" fill="#545454"/><rect x="112.98" y="91.43" width="4.99" height="5.00" fill="#505050"/><rect x="117.91" y="91.43" width="4.99" height="5.00" fill="#454545"/><rect x="122.85" y="91.43" width="4.99" height="5.00" fill="#474747"/><rect x="127.79" y="91.43" width="4.99" height="5.00" fill="#454545"/><rect x="132.72" y="91.43" width="4.99" height="5.00" fill="#525252"/><rect x="137.66" y="91.43" width="4.99" height="5.00" fill="#5c5c5c"/><rect x="142.59" y="91.43" width="4.99" height="5.00" fill="#5e5e5e"/><rect x="147.53" y="91.43" width="4.99" height="5.00" fill="#5e5e5e"/><rect x="152.46" y="91.43" width="12.99" height="5.00" fill="#5e5e5e"/><rect x="11.20" y="96.39" width="12.99" height="5.00" fill="#a2a2a2"/><rect x="24.14" y="96.39" width="4.99" height="5.00" fill="#bfbfbf"/><rect x="29.07" y="96.39" width="4.99" height="5.00" fill="#c4c4c4"/><rect x="34.01" y="96.39" width="4.99" height="5.00" fill="#cacaca"/><rect x="38.94" y="96.39" width="4.99" height="5.00" fill="#bfbfbf"/><rect x="43.88" y="96.39" width="4.99" height="5.00" fill="#bfbfbf"/><rect x="48.81" y="96.39" width="4.99" height="5.00" fill="#b0b0b0"/><rect x="53.75" y="96.39" width="4.99" height="5.00" fill="#a1a1a1"/><rect x="58.69" y="96.39" width="4.99" height="5.00" fill="#bfbfbf"/><rect x="63.62" y="96.39" width="4.99" height="5.00" fill="#bfbfbf"/><rect x="68.56" y="96.39" width="4.99" height="5.00" fill="#a1a1a1"/><rect x="73.49" y="96.39" width="4.99" height="5.00" fill="#b0b0b0"/><rect x="78.43" y="96.39" width="4.99" height="5.00" fill="#bfbfbf"/><rect x="83.36" y="96.39" width="4.99" height="5.00" fill="#bfbfbf"/><rect x="88.30" y="96.39" width="4.99" height="5.00" fill="#bfbfbf"/><rect x="93.24" y="96.39" width="4.99" height="5.00" fill="#a1a1a1"/><rect x="98.17" y="96.39" width="4.99" height="5.00" fill="#949494"/><rect x="103.11" y="96.39" width="4.99" height="5.00" fill="#7c7c7c"/><rect x="108.04" y="96.39" width="4.99" height="5.00" fill="#595959"/><rect x="112.98" y="96.39" width="4.99" height="5.00" fill="#4e4e4e"/><rect x="117.91" y="96.39" width="4.99" height="5.00" fill="#4b4b4b"/><rect x="122.85" y="96.39" width="4.99" height="5.00" fill="#454545"/><rect x="127.79" y="96.39" width="4.99" height="5.00" fill="#464646"/><rect x="132.72" y="96.39" width="4.99" height="5.00" fill="#454545"/><rect x="137.66" y="96.39" width="4.99" height="5.00" fill="#515151"/><rect x="142.59" y="96.39" width="4.99" height="5.00" fill="#5c5c5c"/><rect x="147.53" y="96.39" width="4.99" height="5.00" fill="#5d5d5d"/><rect x="152.46" y="96.39" width="12.99" height="5.00" fill="#5d5d5d"/><rect x="11.20" y="101.34" width="12.99" height="5.00" fill="#797979"/><rect x="24.14" y="101.34" width="4.99" height="5.00" fill="#929292"/><rect x="29.07" y="101.34" width="4.99" height="5.00" fill="#b1b1b1"/><rect x="34.01" y="101.34" width="4.99" height="5.00" fill="#b5b5b5"/><rect x="38.94" y="101.34" width="4.99" height="5.00" fill="#bfbfbf"/><rect x="43.88" y="101.34" width="4.99" height="5.00" fill="#bfbfbf"/><rect x="48.81" y="101.34" width="4.99" height="5.00" fill="#bfbfbf"/><rect x="53.75" y="101.34" width="4.99" height="5.00" fill="#b0b0b0"/><rect x="58.69" y="101.34" width="4.99" height="5.00" fill="#a1a1a1"/><rect x="63.62" y="101.34" width="4.99" height="5.00" fill="#a1a1a1"/><rect x="68.56" y="101.34" width="4.99" height="5.00" fill="#b0b0b0"/><rect x="73.49" y="101.34" width="4.99" height="5.00" fill="#a1a1a1"/><rect x="78.43" y="101.34" width="4.99" height="5.00" fill="#b0b0b0"/><rect x="83.36" y="101.34" width="4.99" height="5.00" fill="#b0b0b0"/><rect x="88.30" y="101.34" width="4.99" height="5.00" fill="#8f8f8f"/><rect x="93.24" y="101.34" width="4.99" height="5.00" fill="#5c5c5c"/><rect x="98.17" y="101.34" width="4.99" height="5.00" fill="#7e7e7e"/><rect x="103.11" y="101.34" width="4.99" height="5.00" fill="#7a7a7a"/><rect x="108.04" y="101.34" width="4.99" height="5.00" fill="#686868"/><rect x="112.98" y="101.34" width="4.99" height="5.00" fill="#515151"/><rect x="117.91" y="101.34" width="4.99" height="5.00" fill="#4a4a4a"/><rect x="122.85" y="101.34" width="4.99" height="5.00" fill="#484848"/><rect x="127.79" y="101.34" width="4.99" height="5.00" fill="#454545"/><rect x="132.72" y="101.34" width="4.99" height="5.00" fill="#454545"/><rect x="137.66" y="101.34" width="4.99" height="5.00" fill="#454545"/><rect x="142.59" y="101.34" width="4.99" height="5.00" fill="#515151"/><rect x="147.53" y="101.34" width="4.99" height="5.00" fill="#5c5c5c"/><rect x="152.46" y="101.34" width="12.99" height="5.00" fill="#5c5c5c"/><rect x="11.20" y="106.29" width="12.99" height="5.00" fill="#2a2a2a"/><rect x="24.14" y="106.29" width="4.99" height="5.00" fill="#333333"/><rect x="29.07" y="106.29" width="4.99" height="5.00" fill="#757575"/><rect x="34.01" y="106.29" width="4.99" height="5.00" fill="#949494"/><rect x="38.94" y="106.29" width="4.99" height="5.00" fill="#a1a1a1"/><rect x="43.88" y="106.29" width="4.99" height="5.00" fill="#808080"/><rect x="48.81" y="106.29" width="4.99" height="5.00" fill="#737373"/><rect x="53.75" y="106.29" width="4.99" height="5.00" fill="#737373"/><rect x="58.69" y="106.29" width="4.99" height="5.00" fill="#737373"/><rect x="63.62" y="106.29" width="4.99" height="5.00" fill="#5c5c5c"/><rect x="68.56" y="106.29" width="4.99" height="5.00" fill="#737373"/><rect x="73.49" y="106.29" width="4.99" height="5.00" fill="#737373"/><rect x="78.43" y="106.29" width="4.99" height="5.00" fill="#808080"/><rect x="83.36" y="106.29" width="4.99" height="5.00" fill="#808080"/><rect x="88.30" y="106.29" width="4.99" height="5.00" fill="#5c5c5c"/><rect x="93.24" y="106.29" width="4.99" height="5.00" fill="#6d6d6d"/><rect x="98.17" y="106.29" width="4.99" height="5.00" fill="#5c5c5c"/><rect x="103.11" y="106.29" width="4.99" height="5.00" fill="#6d6d6d"/><rect x="108.04" y="106.29" width="4.99" height="5.00" fill="#6c6c6c"/><rect x="112.98" y="106.29" width="4.99" height="5.00" fill="#5d5d5d"/><rect x="117.91" y="106.29" width="4.99" height="5.00" fill="#4b4b4b"/><rect x="122.85" y="106.29" width="4.99" height="5.00" fill="#474747"/><rect x="127.79" y="106.29" width="4.99" height="5.00" fill="#464646"/><rect x="132.72" y="106.29" width="4.99" height="5.00" fill="#454545"/><rect x="137.66" y="106.29" width="4.99" height="5.00" fill="#454545"/><rect x="142.59" y="106.29" width="4.99" height="5.00" fill="#454545"/><rect x="147.53" y="106.29" width="4.99" height="5.00" fill="#505050"/><rect x="152.46" y="106.29" width="12.99" height="5.00" fill="#5c5c5c"/><rect x="11.20" y="111.24" width="12.99" height="5.00" fill="#242424"/><rect x="24.14" y="111.24" width="4.99" height="5.00" fill="#282828"/><rect x="29.07" y="111.24" width="4.99" height="5.00" fill="#333333"/><rect x="34.01" y="111.24" width="4.99" height="5.00" fill="#595959"/><rect x="38.94" y="111.24" width="4.99" height="5.00" fill="#5c5c5c"/><rect x="43.88" y="111.24" width="4.99" height="5.00" fill="#5c5c5c"/><rect x="48.81" y="111.24" width="4.99" height="5.00" fill="#454545"/><rect x="53.75" y="111.24" width="4.99" height="5.00" fill="#454545"/><rect x="58.69" y="111.24" width="4.99" height="5.00" fill="#454545"/><rect x="63.62" y="111.24" width="4.99" height="5.00" fill="#333333"/><rect x="68.56" y="111.24" width="4.99" height="5.00" fill="#5d5d5d"/><rect x="73.49" y="111.24" width="4.99" height="5.00" fill="#777777"/><rect x="78.43" y="111.24" width="4.99" height="5.00" fill="#7b7b7b"/><rect x="83.36" y="111.24" width="4.99" height="5.00" fill="#747474"/><rect x="88.30" y="111.24" width="4.99" height="5.00" fill="#6e6e6e"/><rect x="93.24" y="111.24" width="4.99" height="5.00" fill="#5c5c5c"/><rect x="98.17" y="111.24" width="4.99" height="5.00" fill="#616161"/><rect x="103.11" y="111.24" width="4.99" height="5.00" fill="#5c5c5c"/><rect x="108.04" y="111.24" width="4.99" height="5.00" fill="#646464"/><rect x="112.98" y="111.24" width="4.99" height="5.00" fill="#646464"/><rect x="117.91" y="111.24" width="4.99" height="5.00" fill="#575757"/><rect x="122.85" y="111.24" width="4.99" height="5.00" fill="#484848"/><rect x="127.79" y="111.24" width="4.99" height="5.00" fill="#464646"/><rect x="132.72" y="111.24" width="4.99" height="5.00" fill="#464646"/><rect x="137.66" y="111.24" width="4.99" height="5.00" fill="#454545"/><rect x="142.59" y="111.24" width="4.99" height="5.00" fill="#454545"/><rect x="147.53" y="111.24" width="4.99" height="5.00" fill="#454545"/><rect x="152.46" y="111.24" width="12.99" height="5.00" fill="#505050"/><rect x="11.20" y="116.20" width="12.99" height="5.00" fill="#242424"/><rect x="24.14" y="116.20" width="4.99" height="5.00" fill="#242424"/><rect x="29.07" y="116.20" width="4.99" height="5.00" fill="#282828"/><rect x="34.01" y="116.20" width="4.99" height="5.00" fill="#333333"/><rect x="38.94" y="116.20" width="4.99" height="5.00" fill="#333333"/><rect x="43.88" y="116.20" width="4.99" height="5.00" fill="#242424"/><rect x="48.81" y="116.20" width="4.99" height="5.00" fill="#242424"/><rect x="53.75" y="116.20" width="4.99" height="5.00" fill="#242424"/><rect x="58.69" y="116.20" width="4.99" height="5.00" fill="#383838"/><rect x="63.62" y="116.20" width="4.99" height="5.00" fill="#3c3c3c"/><rect x="68.56" y="116.20" width="4.99" height="5.00" fill="#333333"/><rect x="73.49" y="116.20" width="4.99" height="5.00" fill="#616161"/><rect x="78.43" y="116.20" width="4.99" height="5.00" fill="#777777"/><rect x="83.36" y="116.20" width="4.99" height="5.00" fill="#747474"/><rect x="88.30" y="116.20" width="4.99" height="5.00" fill="#6a6a6a"/><rect x="93.24" y="116.20" width="4.99" height="5.00" fill="#656565"/><rect x="98.17" y="116.20" width="4.99" height="5.00" fill="#5c5c5c"/><rect x="103.11" y="116.20" width="4.99" height="5.00" fill="#5e5e5e"/><rect x="108.04" y="116.20" width="4.99" height="5.00" fill="#5c5c5c"/><rect x="112.98" y="116.20" width="4.99" height="5.00" fill="#606060"/><rect x="117.91" y="116.20" width="4.99" height="5.00" fill="#606060"/><rect x="122.85" y="116.20" width="4.99" height="5.00" fill="#545454"/><rect x="127.79" y="116.20" width="4.99" height="5.00" fill="#474747"/><rect x="132.72" y="116.20" width="4.99" height="5.00" fill="#464646"/><rect x="137.66" y="116.20" width="4.99" height="5.00" fill="#454545"/><rect x="142.59" y="116.20" width="4.99" height="5.00" fill="#454545"/><rect x="147.53" y="116.20" width="4.99" height="5.00" fill="#454545"/><rect x="152.46" y="116.20" width="12.99" height="5.00" fill="#454545"/><rect x="11.20" y="121.15" width="12.99" height="13.00" fill="#242424"/><rect x="24.14" y="121.15" width="4.99" height="13.00" fill="#242424"/><rect x="29.07" y="121.15" width="4.99" height="13.00" fill="#242424"/><rect x="34.01" y="121.15" width="4.99" height="13.00" fill="#242424"/><rect x="38.94" y="121.15" width="4.99" height="13.00" fill="#242424"/><rect x="43.88" y="121.15" width="4.99" height="13.00" fill="#242424"/><rect x="48.81" y="121.15" width="4.99" height="13.00" fill="#242424"/><rect x="53.75" y="121.15" width="4.99" height="13.00" fill="#242424"/><rect x="58.69" y="121.15" width="4.99" height="13.00" fill="#242424"/><rect x="63.62" y="121.15" width="4.99" height="13.00" fill="#333333"/><rect x="68.56" y="121.15" width="4.99" height="13.00" fill="#373737"/><rect x="73.49" y="121.15" width="4.99" height="13.00" fill="#333333"/><rect x="78.43" y="121.15" width="4.99" height="13.00" fill="#606060"/><rect x="83.36" y="121.15" width="4.99" height="13.00" fill="#727272"/><rect x="88.30" y="121.15" width="4.99" height="13.00" fill="#6c6c6c"/><rect x="93.24" y="121.15" width="4.99" height="13.00" fill="#636363"/><rect x="98.17" y="121.15" width="4.99" height="13.00" fill="#606060"/><rect x="103.11" y="121.15" width="4.99" height="13.00" fill="#5c5c5c"/><rect x="108.04" y="121.15" width="4.99" height="13.00" fill="#5c5c5c"/><rect x="112.98" y="121.15" width="4.99" height="13.00" fill="#5c5c5c"/><rect x="117.91" y="121.15" width="4.99" height="13.00" fill="#5e5e5e"/><rect x="122.85" y="121.15" width="4.99" height="13.00" fill="#5f5f5f"/><rect x="127.79" y="121.15" width="4.99" height="13.00" fill="#505050"/><rect x="132.72" y="121.15" width="4.99" height="13.00" fill="#464646"/><rect x="137.66" y="121.15" width="4.99" height="13.00" fill="#454545"/><rect x="142.59" y="121.15" width="4.99" height="13.00" fill="#454545"/><rect x="147.53" y="121.15" width="4.99" height="13.00" fill="#454545"/><rect x="152.46" y="121.15" width="12.99" height="13.00" fill="#454545"/></g><use href="#landall"/><g stroke="#a8a8a8" stroke-opacity="0.5" stroke-width="0.5" mask="url(#lmask)"><line x1="19.2" y1="117.6" x2="157.39999999999998" y2="117.6"/><line x1="19.2" y1="107.9" x2="157.39999999999998" y2="107.9"/><line x1="19.2" y1="98.3" x2="157.39999999999998" y2="98.3"/><line x1="19.2" y1="88.6" x2="157.39999999999998" y2="88.6"/><line x1="19.2" y1="78.9" x2="157.39999999999998" y2="78.9"/><line x1="19.2" y1="69.2" x2="157.39999999999998" y2="69.2"/><line x1="19.2" y1="59.5" x2="157.39999999999998" y2="59.5"/><line x1="19.2" y1="49.9" x2="157.39999999999998" y2="49.9"/><line x1="19.2" y1="40.2" x2="157.39999999999998" y2="40.2"/><line x1="19.2" y1="30.5" x2="157.39999999999998" y2="30.5"/><line x1="27.0" y1="22.1" x2="27.0" y2="126.1"/><line x1="43.4" y1="22.1" x2="43.4" y2="126.1"/><line x1="59.7" y1="22.1" x2="59.7" y2="126.1"/><line x1="76.1" y1="22.1" x2="76.1" y2="126.1"/><line x1="92.4" y1="22.1" x2="92.4" y2="126.1"/><line x1="108.8" y1="22.1" x2="108.8" y2="126.1"/><line x1="125.2" y1="22.1" x2="125.2" y2="126.1"/><line x1="141.5" y1="22.1" x2="141.5" y2="126.1"/></g><g fill="none" stroke="#fff" stroke-width="0.6" stroke-dasharray="2.2 1.6" opacity="0.75"><rect x="24" y="56.5" width="28.8" height="36"/><rect x="52.8" y="56.5" width="62.8" height="26"/></g></g><g stroke="#222" stroke-width="0.5"><line x1="19.2" y1="117.6" x2="20.5" y2="117.6"/><line x1="157.39999999999998" y1="117.6" x2="156.09999999999997" y2="117.6"/><line x1="19.2" y1="107.9" x2="20.5" y2="107.9"/><line x1="157.39999999999998" y1="107.9" x2="156.09999999999997" y2="107.9"/><line x1="19.2" y1="98.3" x2="20.5" y2="98.3"/><line x1="157.39999999999998" y1="98.3" x2="156.09999999999997" y2="98.3"/><line x1="19.2" y1="88.6" x2="20.5" y2="88.6"/><line x1="157.39999999999998" y1="88.6" x2="156.09999999999997" y2="88.6"/><line x1="19.2" y1="78.9" x2="20.5" y2="78.9"/><line x1="157.39999999999998" y1="78.9" x2="156.09999999999997" y2="78.9"/><line x1="19.2" y1="69.2" x2="20.5" y2="69.2"/><line x1="157.39999999999998" y1="69.2" x2="156.09999999999997" y2="69.2"/><line x1="19.2" y1="59.5" x2="20.5" y2="59.5"/><line x1="157.39999999999998" y1="59.5" x2="156.09999999999997" y2="59.5"/><line x1="19.2" y1="49.9" x2="20.5" y2="49.9"/><line x1="157.39999999999998" y1="49.9" x2="156.09999999999997" y2="49.9"/><line x1="19.2" y1="40.2" x2="20.5" y2="40.2"/><line x1="157.39999999999998" y1="40.2" x2="156.09999999999997" y2="40.2"/><line x1="19.2" y1="30.5" x2="20.5" y2="30.5"/><line x1="157.39999999999998" y1="30.5" x2="156.09999999999997" y2="30.5"/><line x1="27.0" y1="22.1" x2="27.0" y2="23.400000000000002"/><line x1="27.0" y1="126.1" x2="27.0" y2="124.8"/><line x1="43.4" y1="22.1" x2="43.4" y2="23.400000000000002"/><line x1="43.4" y1="126.1" x2="43.4" y2="124.8"/><line x1="59.7" y1="22.1" x2="59.7" y2="23.400000000000002"/><line x1="59.7" y1="126.1" x2="59.7" y2="124.8"/><line x1="76.1" y1="22.1" x2="76.1" y2="23.400000000000002"/><line x1="76.1" y1="126.1" x2="76.1" y2="124.8"/><line x1="92.4" y1="22.1" x2="92.4" y2="23.400000000000002"/><line x1="92.4" y1="126.1" x2="92.4" y2="124.8"/><line x1="108.8" y1="22.1" x2="108.8" y2="23.400000000000002"/><line x1="108.8" y1="126.1" x2="108.8" y2="124.8"/><line x1="125.2" y1="22.1" x2="125.2" y2="23.400000000000002"/><line x1="125.2" y1="126.1" x2="125.2" y2="124.8"/><line x1="141.5" y1="22.1" x2="141.5" y2="23.400000000000002"/><line x1="141.5" y1="126.1" x2="141.5" y2="124.8"/></g><rect x="19.2" y="22.1" width="138.2" height="104.0" fill="none" stroke="#333" stroke-width="0.5"/><text x="17.6" y="119.4" class="tk" text-anchor="end">35</text><text x="17.6" y="109.7" class="tk" text-anchor="end">36</text><text x="17.6" y="100.1" class="tk" text-anchor="end">37</text><text x="17.6" y="90.4" class="tk" text-anchor="end">38</text><text x="17.6" y="80.7" class="tk" text-anchor="end">39</text><text x="17.6" y="71.0" class="tk" text-anchor="end">40</text><text x="17.6" y="61.3" class="tk" text-anchor="end">41</text><text x="17.6" y="51.7" class="tk" text-anchor="end">42</text><text x="17.6" y="42.0" class="tk" text-anchor="end">43</text><text x="17.6" y="32.3" class="tk" text-anchor="end">44</text><text x="27.0" y="133.0" class="tk" text-anchor="middle">128</text><text x="43.4" y="133.0" class="tk" text-anchor="middle">130</text><text x="59.7" y="133.0" class="tk" text-anchor="middle">132</text><text x="76.1" y="133.0" class="tk" text-anchor="middle">134</text><text x="92.4" y="133.0" class="tk" text-anchor="middle">136</text><text x="108.8" y="133.0" class="tk" text-anchor="middle">138</text><text x="125.2" y="133.0" class="tk" text-anchor="middle">140</text><text x="141.5" y="133.0" class="tk" text-anchor="middle">142</text><text x="88.3" y="140.3" class="al" text-anchor="middle">Longitude (°E)</text><text transform="translate(10.2 74.1) rotate(-90)" class="al" text-anchor="middle">Latitude (°N)</text><rect x="158.9" y="22.1" width="3.0" height="104.0" fill="url(#jetgrad)"/><rect x="158.9" y="22.1" width="3.0" height="104.0" fill="none" stroke="#333" stroke-width="0.3"/><text x="164" y="127.8" class="tk">2</text><line x1="161.1" y1="126.1" x2="161.9" y2="126.1" stroke="#333" stroke-width="0.3"/><text x="164" y="116.2" class="tk">4</text><line x1="161.1" y1="114.5" x2="161.9" y2="114.5" stroke="#333" stroke-width="0.3"/><text x="164" y="104.7" class="tk">6</text><line x1="161.1" y1="103.0" x2="161.9" y2="103.0" stroke="#333" stroke-width="0.3"/><text x="164" y="93.1" class="tk">8</text><line x1="161.1" y1="91.4" x2="161.9" y2="91.4" stroke="#333" stroke-width="0.3"/><text x="164" y="81.6" class="tk">10</text><line x1="161.1" y1="79.9" x2="161.9" y2="79.9" stroke="#333" stroke-width="0.3"/><text x="164" y="70.0" class="tk">12</text><line x1="161.1" y1="68.3" x2="161.9" y2="68.3" stroke="#333" stroke-width="0.3"/><text x="164" y="58.5" class="tk">14</text><line x1="161.1" y1="56.8" x2="161.9" y2="56.8" stroke="#333" stroke-width="0.3"/><text x="164" y="46.9" class="tk">16</text><line x1="161.1" y1="45.2" x2="161.9" y2="45.2" stroke="#333" stroke-width="0.3"/><text x="164" y="35.4" class="tk">18</text><line x1="161.1" y1="33.7" x2="161.9" y2="33.7" stroke="#333" stroke-width="0.3"/><text x="164" y="23.8" class="tk">20</text><line x1="161.1" y1="22.1" x2="161.9" y2="22.1" stroke="#333" stroke-width="0.3"/><text transform="translate(174.8 74.1) rotate(-90)" text-anchor="middle" class="cbl">[cm/s]</text></g><g transform="translate(0 152.7)"><text x="9.8" y="12.4" class="pl">(D)</text><text x="88.3" y="20.1" class="ti" text-anchor="middle">Linear Trend of VA (1993 ~ 2023)</text><g clip-path="url(#mapclip)"><g filter="url(#jet)"><rect x="11.20" y="14.10" width="12.99" height="13.00" fill="#808080"/><rect x="24.14" y="14.10" width="4.99" height="13.00" fill="#7c7c7c"/><rect x="29.07" y="14.10" width="4.99" height="13.00" fill="#787878"/><rect x="34.01" y="14.10" width="4.99" height="13.00" fill="#7c7c7c"/><rect x="38.94" y="14.10" width="4.99" height="13.00" fill="#808080"/><rect x="43.88" y="14.10" width="4.99" height="13.00" fill="#808080"/><rect x="48.81" y="14.10" width="4.99" height="13.00" fill="#808080"/><rect x="53.75" y="14.10" width="4.99" height="13.00" fill="#808080"/><rect x="58.69" y="14.10" width="4.99" height="13.00" fill="#808080"/><rect x="63.62" y="14.10" width="4.99" height="13.00" fill="#808080"/><rect x="68.56" y="14.10" width="4.99" height="13.00" fill="#808080"/><rect x="73.49" y="14.10" width="4.99" height="13.00" fill="#808080"/><rect x="78.43" y="14.10" width="4.99" height="13.00" fill="#808080"/><rect x="83.36" y="14.10" width="4.99" height="13.00" fill="#808080"/><rect x="88.30" y="14.10" width="4.99" height="13.00" fill="#858585"/><rect x="93.24" y="14.10" width="4.99" height="13.00" fill="#808080"/><rect x="98.17" y="14.10" width="4.99" height="13.00" fill="#808080"/><rect x="103.11" y="14.10" width="4.99" height="13.00" fill="#787878"/><rect x="108.04" y="14.10" width="4.99" height="13.00" fill="#808080"/><rect x="112.98" y="14.10" width="4.99" height="13.00" fill="#787878"/><rect x="117.91" y="14.10" width="4.99" height="13.00" fill="#787878"/><rect x="122.85" y="14.10" width="4.99" height="13.00" fill="#808080"/><rect x="127.79" y="14.10" width="4.99" height="13.00" fill="#8f8f8f"/><rect x="132.72" y="14.10" width="4.99" height="13.00" fill="#a1a1a1"/><rect x="137.66" y="14.10" width="4.99" height="13.00" fill="#a1a1a1"/><rect x="142.59" y="14.10" width="4.99" height="13.00" fill="#a1a1a1"/><rect x="147.53" y="14.10" width="4.99" height="13.00" fill="#a1a1a1"/><rect x="152.46" y="14.10" width="12.99" height="13.00" fill="#a1a1a1"/><rect x="11.20" y="27.05" width="12.99" height="5.00" fill="#808080"/><rect x="24.14" y="27.05" width="4.99" height="5.00" fill="#808080"/><rect x="29.07" y="27.05" width="4.99" height="5.00" fill="#7c7c7c"/><rect x="34.01" y="27.05" width="4.99" height="5.00" fill="#787878"/><rect x="38.94" y="27.05" width="4.99" height="5.00" fill="#7c7c7c"/><rect x="43.88" y="27.05" width="4.99" height="5.00" fill="#808080"/><rect x="48.81" y="27.05" width="4.99" height="5.00" fill="#808080"/><rect x="53.75" y="27.05" width="4.99" height="5.00" fill="#808080"/><rect x="58.69" y="27.05" width="4.99" height="5.00" fill="#808080"/><rect x="63.62" y="27.05" width="4.99" height="5.00" fill="#808080"/><rect x="68.56" y="27.05" width="4.99" height="5.00" fill="#808080"/><rect x="73.49" y="27.05" width="4.99" height="5.00" fill="#808080"/><rect x="78.43" y="27.05" width="4.99" height="5.00" fill="#808080"/><rect x="83.36" y="27.05" width="4.99" height="5.00" fill="#808080"/><rect x="88.30" y="27.05" width="4.99" height="5.00" fill="#808080"/><rect x="93.24" y="27.05" width="4.99" height="5.00" fill="#8f8f8f"/><rect x="98.17" y="27.05" width="4.99" height="5.00" fill="#8f8f8f"/><rect x="103.11" y="27.05" width="4.99" height="5.00" fill="#808080"/><rect x="108.04" y="27.05" width="4.99" height="5.00" fill="#808080"/><rect x="112.98" y="27.05" width="4.99" height="5.00" fill="#787878"/><rect x="117.91" y="27.05" width="4.99" height="5.00" fill="#656565"/><rect x="122.85" y="27.05" width="4.99" height="5.00" fill="#787878"/><rect x="127.79" y="27.05" width="4.99" height="5.00" fill="#a1a1a1"/><rect x="132.72" y="27.05" width="4.99" height="5.00" fill="#a1a1a1"/><rect x="137.66" y="27.05" width="4.99" height="5.00" fill="#a1a1a1"/><rect x="142.59" y="27.05" width="4.99" height="5.00" fill="#a1a1a1"/><rect x="147.53" y="27.05" width="4.99" height="5.00" fill="#a1a1a1"/><rect x="152.46" y="27.05" width="12.99" height="5.00" fill="#a1a1a1"/><rect x="11.20" y="32.00" width="12.99" height="5.00" fill="#808080"/><rect x="24.14" y="32.00" width="4.99" height="5.00" fill="#808080"/><rect x="29.07" y="32.00" width="4.99" height="5.00" fill="#808080"/><rect x="34.01" y="32.00" width="4.99" height="5.00" fill="#7c7c7c"/><rect x="38.94" y="32.00" width="4.99" height="5.00" fill="#787878"/><rect x="43.88" y="32.00" width="4.99" height="5.00" fill="#7b7b7b"/><rect x="48.81" y="32.00" width="4.99" height="5.00" fill="#808080"/><rect x="53.75" y="32.00" width="4.99" height="5.00" fill="#808080"/><rect x="58.69" y="32.00" width="4.99" height="5.00" fill="#808080"/><rect x="63.62" y="32.00" width="4.99" height="5.00" fill="#7f7f7f"/><rect x="68.56" y="32.00" width="4.99" height="5.00" fill="#808080"/><rect x="73.49" y="32.00" width="4.99" height="5.00" fill="#808080"/><rect x="78.43" y="32.00" width="4.99" height="5.00" fill="#808080"/><rect x="83.36" y="32.00" width="4.99" height="5.00" fill="#808080"/><rect x="88.30" y="32.00" width="4.99" height="5.00" fill="#808080"/><rect x="93.24" y="32.00" width="4.99" height="5.00" fill="#8f8f8f"/><rect x="98.17" y="32.00" width="4.99" height="5.00" fill="#8f8f8f"/><rect x="103.11" y="32.00" width="4.99" height="5.00" fill="#8f8f8f"/><rect x="108.04" y="32.00" width="4.99" height="5.00" fill="#808080"/><rect x="112.98" y="32.00" width="4.99" height="5.00" fill="#787878"/><rect x="117.91" y="32.00" width="4.99" height="5.00" fill="#656565"/><rect x="122.85" y="32.00" width="4.99" height="5.00" fill="#656565"/><rect x="127.79" y="32.00" width="4.99" height="5.00" fill="#8f8f8f"/><rect x="132.72" y="32.00" width="4.99" height="5.00" fill="#a1a1a1"/><rect x="137.66" y="32.00" width="4.99" height="5.00" fill="#a1a1a1"/><rect x="142.59" y="32.00" width="4.99" height="5.00" fill="#a1a1a1"/><rect x="147.53" y="32.00" width="4.99" height="5.00" fill="#a1a1a1"/><rect x="152.46" y="32.00" width="12.99" height="5.00" fill="#a1a1a1"/><rect x="11.20" y="36.96" width="12.99" height="5.00" fill="#808080"/><rect x="24.14" y="36.96" width="4.99" height="5.00" fill="#808080"/><rect x="29.07" y="36.96" width="4.99" height="5.00" fill="#808080"/><rect x="34.01" y="36.96" width="4.99" height="5.00" fill="#808080"/><rect x="38.94" y="36.96" width="4.99" height="5.00" fill="#7c7c7c"/><rect x="43.88" y="36.96" width="4.99" height="5.00" fill="#787878"/><rect x="48.81" y="36.96" width="4.99" height="5.00" fill="#7a7a7a"/><rect x="53.75" y="36.96" width="4.99" height="5.00" fill="#808080"/><rect x="58.69" y="36.96" width="4.99" height="5.00" fill="#7e7e7e"/><rect x="63.62" y="36.96" width="4.99" height="5.00" fill="#808080"/><rect x="68.56" y="36.96" width="4.99" height="5.00" fill="#808080"/><rect x="73.49" y="36.96" width="4.99" height="5.00" fill="#808080"/><rect x="78.43" y="36.96" width="4.99" height="5.00" fill="#808080"/><rect x="83.36" y="36.96" width="4.99" height="5.00" fill="#808080"/><rect x="88.30" y="36.96" width="4.99" height="5.00" fill="#808080"/><rect x="93.24" y="36.96" width="4.99" height="5.00" fill="#787878"/><rect x="98.17" y="36.96" width="4.99" height="5.00" fill="#808080"/><rect x="103.11" y="36.96" width="4.99" height="5.00" fill="#808080"/><rect x="108.04" y="36.96" width="4.99" height="5.00" fill="#808080"/><rect x="112.98" y="36.96" width="4.99" height="5.00" fill="#787878"/><rect x="117.91" y="36.96" width="4.99" height="5.00" fill="#656565"/><rect x="122.85" y="36.96" width="4.99" height="5.00" fill="#787878"/><rect x="127.79" y="36.96" width="4.99" height="5.00" fill="#838383"/><rect x="132.72" y="36.96" width="4.99" height="5.00" fill="#989898"/><rect x="137.66" y="36.96" width="4.99" height="5.00" fill="#a1a1a1"/><rect x="142.59" y="36.96" width="4.99" height="5.00" fill="#a1a1a1"/><rect x="147.53" y="36.96" width="4.99" height="5.00" fill="#a1a1a1"/><rect x="152.46" y="36.96" width="12.99" height="5.00" fill="#a1a1a1"/><rect x="11.20" y="41.91" width="12.99" height="5.00" fill="#808080"/><rect x="24.14" y="41.91" width="4.99" height="5.00" fill="#808080"/><rect x="29.07" y="41.91" width="4.99" height="5.00" fill="#808080"/><rect x="34.01" y="41.91" width="4.99" height="5.00" fill="#808080"/><rect x="38.94" y="41.91" width="4.99" height="5.00" fill="#808080"/><rect x="43.88" y="41.91" width="4.99" height="5.00" fill="#7d7d7d"/><rect x="48.81" y="41.91" width="4.99" height="5.00" fill="#787878"/><rect x="53.75" y="41.91" width="4.99" height="5.00" fill="#787878"/><rect x="58.69" y="41.91" width="4.99" height="5.00" fill="#808080"/><rect x="63.62" y="41.91" width="4.99" height="5.00" fill="#808080"/><rect x="68.56" y="41.91" width="4.99" height="5.00" fill="#808080"/><rect x="73.49" y="41.91" width="4.99" height="5.00" fill="#808080"/><rect x="78.43" y="41.91" width="4.99" height="5.00" fill="#808080"/><rect x="83.36" y="41.91" width="4.99" height="5.00" fill="#8f8f8f"/><rect x="88.30" y="41.91" width="4.99" height="5.00" fill="#787878"/><rect x="93.24" y="41.91" width="4.99" height="5.00" fill="#787878"/><rect x="98.17" y="41.91" width="4.99" height="5.00" fill="#787878"/><rect x="103.11" y="41.91" width="4.99" height="5.00" fill="#808080"/><rect x="108.04" y="41.91" width="4.99" height="5.00" fill="#8f8f8f"/><rect x="112.98" y="41.91" width="4.99" height="5.00" fill="#787878"/><rect x="117.91" y="41.91" width="4.99" height="5.00" fill="#787878"/><rect x="122.85" y="41.91" width="4.99" height="5.00" fill="#757575"/><rect x="127.79" y="41.91" width="4.99" height="5.00" fill="#787878"/><rect x="132.72" y="41.91" width="4.99" height="5.00" fill="#8d8d8d"/><rect x="137.66" y="41.91" width="4.99" height="5.00" fill="#9c9c9c"/><rect x="142.59" y="41.91" width="4.99" height="5.00" fill="#a1a1a1"/><rect x="147.53" y="41.91" width="4.99" height="5.00" fill="#a1a1a1"/><rect x="152.46" y="41.91" width="12.99" height="5.00" fill="#a1a1a1"/><rect x="11.20" y="46.86" width="12.99" height="5.00" fill="#808080"/><rect x="24.14" y="46.86" width="4.99" height="5.00" fill="#808080"/><rect x="29.07" y="46.86" width="4.99" height="5.00" fill="#808080"/><rect x="34.01" y="46.86" width="4.99" height="5.00" fill="#828282"/><rect x="38.94" y="46.86" width="4.99" height="5.00" fill="#808080"/><rect x="43.88" y="46.86" width="4.99" height="5.00" fill="#808080"/><rect x="48.81" y="46.86" width="4.99" height="5.00" fill="#808080"/><rect x="53.75" y="46.86" width="4.99" height="5.00" fill="#808080"/><rect x="58.69" y="46.86" width="4.99" height="5.00" fill="#8f8f8f"/><rect x="63.62" y="46.86" width="4.99" height="5.00" fill="#808080"/><rect x="68.56" y="46.86" width="4.99" height="5.00" fill="#8f8f8f"/><rect x="73.49" y="46.86" width="4.99" height="5.00" fill="#8f8f8f"/><rect x="78.43" y="46.86" width="4.99" height="5.00" fill="#808080"/><rect x="83.36" y="46.86" width="4.99" height="5.00" fill="#808080"/><rect x="88.30" y="46.86" width="4.99" height="5.00" fill="#808080"/><rect x="93.24" y="46.86" width="4.99" height="5.00" fill="#808080"/><rect x="98.17" y="46.86" width="4.99" height="5.00" fill="#808080"/><rect x="103.11" y="46.86" width="4.99" height="5.00" fill="#8f8f8f"/><rect x="108.04" y="46.86" width="4.99" height="5.00" fill="#8f8f8f"/><rect x="112.98" y="46.86" width="4.99" height="5.00" fill="#a1a1a1"/><rect x="117.91" y="46.86" width="4.99" height="5.00" fill="#808080"/><rect x="122.85" y="46.86" width="4.99" height="5.00" fill="#7a7a7a"/><rect x="127.79" y="46.86" width="4.99" height="5.00" fill="#818181"/><rect x="132.72" y="46.86" width="4.99" height="5.00" fill="#8c8c8c"/><rect x="137.66" y="46.86" width="4.99" height="5.00" fill="#989898"/><rect x="142.59" y="46.86" width="4.99" height="5.00" fill="#9e9e9e"/><rect x="147.53" y="46.86" width="4.99" height="5.00" fill="#a1a1a1"/><rect x="152.46" y="46.86" width="12.99" height="5.00" fill="#a1a1a1"/><rect x="11.20" y="51.81" width="12.99" height="5.00" fill="#7c7c7c"/><rect x="24.14" y="51.81" width="4.99" height="5.00" fill="#808080"/><rect x="29.07" y="51.81" width="4.99" height="5.00" fill="#808080"/><rect x="34.01" y="51.81" width="4.99" height="5.00" fill="#808080"/><rect x="38.94" y="51.81" width="4.99" height="5.00" fill="#888888"/><rect x="43.88" y="51.81" width="4.99" height="5.00" fill="#808080"/><rect x="48.81" y="51.81" width="4.99" height="5.00" fill="#8f8f8f"/><rect x="53.75" y="51.81" width="4.99" height="5.00" fill="#808080"/><rect x="58.69" y="51.81" width="4.99" height="5.00" fill="#8f8f8f"/><rect x="63.62" y="51.81" width="4.99" height="5.00" fill="#8f8f8f"/><rect x="68.56" y="51.81" width="4.99" height="5.00" fill="#808080"/><rect x="73.49" y="51.81" width="4.99" height="5.00" fill="#808080"/><rect x="78.43" y="51.81" width="4.99" height="5.00" fill="#8f8f8f"/><rect x="83.36" y="51.81" width="4.99" height="5.00" fill="#8f8f8f"/><rect x="88.30" y="51.81" width="4.99" height="5.00" fill="#808080"/><rect x="93.24" y="51.81" width="4.99" height="5.00" fill="#808080"/><rect x="98.17" y="51.81" width="4.99" height="5.00" fill="#808080"/><rect x="103.11" y="51.81" width="4.99" height="5.00" fill="#8f8f8f"/><rect x="108.04" y="51.81" width="4.99" height="5.00" fill="#8f8f8f"/><rect x="112.98" y="51.81" width="4.99" height="5.00" fill="#a1a1a1"/><rect x="117.91" y="51.81" width="4.99" height="5.00" fill="#787878"/><rect x="122.85" y="51.81" width="4.99" height="5.00" fill="#7f7f7f"/><rect x="127.79" y="51.81" width="4.99" height="5.00" fill="#a1a1a1"/><rect x="132.72" y="51.81" width="4.99" height="5.00" fill="#a1a1a1"/><rect x="137.66" y="51.81" width="4.99" height="5.00" fill="#9a9a9a"/><rect x="142.59" y="51.81" width="4.99" height="5.00" fill="#9d9d9d"/><rect x="147.53" y="51.81" width="4.99" height="5.00" fill="#a0a0a0"/><rect x="152.46" y="51.81" width="12.99" height="5.00" fill="#a1a1a1"/><rect x="11.20" y="56.77" width="12.99" height="5.00" fill="#787878"/><rect x="24.14" y="56.77" width="4.99" height="5.00" fill="#7c7c7c"/><rect x="29.07" y="56.77" width="4.99" height="5.00" fill="#808080"/><rect x="34.01" y="56.77" width="4.99" height="5.00" fill="#808080"/><rect x="38.94" y="56.77" width="4.99" height="5.00" fill="#808080"/><rect x="43.88" y="56.77" width="4.99" height="5.00" fill="#a1a1a1"/><rect x="48.81" y="56.77" width="4.99" height="5.00" fill="#b0b0b0"/><rect x="53.75" y="56.77" width="4.99" height="5.00" fill="#787878"/><rect x="58.69" y="56.77" width="4.99" height="5.00" fill="#656565"/><rect x="63.62" y="56.77" width="4.99" height="5.00" fill="#808080"/><rect x="68.56" y="56.77" width="4.99" height="5.00" fill="#8f8f8f"/><rect x="73.49" y="56.77" width="4.99" height="5.00" fill="#8f8f8f"/><rect x="78.43" y="56.77" width="4.99" height="5.00" fill="#8f8f8f"/><rect x="83.36" y="56.77" width="4.99" height="5.00" fill="#8f8f8f"/><rect x="88.30" y="56.77" width="4.99" height="5.00" fill="#808080"/><rect x="93.24" y="56.77" width="4.99" height="5.00" fill="#808080"/><rect x="98.17" y="56.77" width="4.99" height="5.00" fill="#8f8f8f"/><rect x="103.11" y="56.77" width="4.99" height="5.00" fill="#8f8f8f"/><rect x="108.04" y="56.77" width="4.99" height="5.00" fill="#a1a1a1"/><rect x="112.98" y="56.77" width="4.99" height="5.00" fill="#808080"/><rect x="117.91" y="56.77" width="4.99" height="5.00" fill="#656565"/><rect x="122.85" y="56.77" width="4.99" height="5.00" fill="#a1a1a1"/><rect x="127.79" y="56.77" width="4.99" height="5.00" fill="#a1a1a1"/><rect x="132.72" y="56.77" width="4.99" height="5.00" fill="#a1a1a1"/><rect x="137.66" y="56.77" width="4.99" height="5.00" fill="#a1a1a1"/><rect x="142.59" y="56.77" width="4.99" height="5.00" fill="#9e9e9e"/><rect x="147.53" y="56.77" width="4.99" height="5.00" fill="#9f9f9f"/><rect x="152.46" y="56.77" width="12.99" height="5.00" fill="#a0a0a0"/><rect x="11.20" y="61.72" width="12.99" height="5.00" fill="#767676"/><rect x="24.14" y="61.72" width="4.99" height="5.00" fill="#787878"/><rect x="29.07" y="61.72" width="4.99" height="5.00" fill="#7d7d7d"/><rect x="34.01" y="61.72" width="4.99" height="5.00" fill="#808080"/><rect x="38.94" y="61.72" width="4.99" height="5.00" fill="#808080"/><rect x="43.88" y="61.72" width="4.99" height="5.00" fill="#a1a1a1"/><rect x="48.81" y="61.72" width="4.99" height="5.00" fill="#bfbfbf"/><rect x="53.75" y="61.72" width="4.99" height="5.00" fill="#656565"/><rect x="58.69" y="61.72" width="4.99" height="5.00" fill="#4f4f4f"/><rect x="63.62" y="61.72" width="4.99" height="5.00" fill="#808080"/><rect x="68.56" y="61.72" width="4.99" height="5.00" fill="#8f8f8f"/><rect x="73.49" y="61.72" width="4.99" height="5.00" fill="#8f8f8f"/><rect x="78.43" y="61.72" width="4.99" height="5.00" fill="#8f8f8f"/><rect x="83.36" y="61.72" width="4.99" height="5.00" fill="#8f8f8f"/><rect x="88.30" y="61.72" width="4.99" height="5.00" fill="#787878"/><rect x="93.24" y="61.72" width="4.99" height="5.00" fill="#808080"/><rect x="98.17" y="61.72" width="4.99" height="5.00" fill="#8f8f8f"/><rect x="103.11" y="61.72" width="4.99" height="5.00" fill="#bfbfbf"/><rect x="108.04" y="61.72" width="4.99" height="5.00" fill="#787878"/><rect x="112.98" y="61.72" width="4.99" height="5.00" fill="#656565"/><rect x="117.91" y="61.72" width="4.99" height="5.00" fill="#656565"/><rect x="122.85" y="61.72" width="4.99" height="5.00" fill="#a1a1a1"/><rect x="127.79" y="61.72" width="4.99" height="5.00" fill="#a1a1a1"/><rect x="132.72" y="61.72" width="4.99" height="5.00" fill="#a1a1a1"/><rect x="137.66" y="61.72" width="4.99" height="5.00" fill="#a1a1a1"/><rect x="142.59" y="61.72" width="4.99" height="5.00" fill="#a1a1a1"/><rect x="147.53" y="61.72" width="4.99" height="5.00" fill="#a0a0a0"/><rect x="152.46" y="61.72" width="12.99" height="5.00" fill="#a0a0a0"/><rect x="11.20" y="66.67" width="12.99" height="5.00" fill="#727272"/><rect x="24.14" y="66.67" width="4.99" height="5.00" fill="#777777"/><rect x="29.07" y="66.67" width="4.99" height="5.00" fill="#787878"/><rect x="34.01" y="66.67" width="4.99" height="5.00" fill="#808080"/><rect x="38.94" y="66.67" width="4.99" height="5.00" fill="#808080"/><rect x="43.88" y="66.67" width="4.99" height="5.00" fill="#a1a1a1"/><rect x="48.81" y="66.67" width="4.99" height="5.00" fill="#a1a1a1"/><rect x="53.75" y="66.67" width="4.99" height="5.00" fill="#656565"/><rect x="58.69" y="66.67" width="4.99" height="5.00" fill="#656565"/><rect x="63.62" y="66.67" width="4.99" height="5.00" fill="#808080"/><rect x="68.56" y="66.67" width="4.99" height="5.00" fill="#8f8f8f"/><rect x="73.49" y="66.67" width="4.99" height="5.00" fill="#8f8f8f"/><rect x="78.43" y="66.67" width="4.99" height="5.00" fill="#a1a1a1"/><rect x="83.36" y="66.67" width="4.99" height="5.00" fill="#b0b0b0"/><rect x="88.30" y="66.67" width="4.99" height="5.00" fill="#787878"/><rect x="93.24" y="66.67" width="4.99" height="5.00" fill="#808080"/><rect x="98.17" y="66.67" width="4.99" height="5.00" fill="#a1a1a1"/><rect x="103.11" y="66.67" width="4.99" height="5.00" fill="#cfcfcf"/><rect x="108.04" y="66.67" width="4.99" height="5.00" fill="#a1a1a1"/><rect x="112.98" y="66.67" width="4.99" height="5.00" fill="#656565"/><rect x="117.91" y="66.67" width="4.99" height="5.00" fill="#656565"/><rect x="122.85" y="66.67" width="4.99" height="5.00" fill="#a1a1a1"/><rect x="127.79" y="66.67" width="4.99" height="5.00" fill="#a1a1a1"/><rect x="132.72" y="66.67" width="4.99" height="5.00" fill="#a1a1a1"/><rect x="137.66" y="66.67" width="4.99" height="5.00" fill="#a1a1a1"/><rect x="142.59" y="66.67" width="4.99" height="5.00" fill="#a1a1a1"/><rect x="147.53" y="66.67" width="4.99" height="5.00" fill="#a1a1a1"/><rect x="152.46" y="66.67" width="12.99" height="5.00" fill="#a0a0a0"/><rect x="11.20" y="71.62" width="12.99" height="5.00" fill="#656565"/><rect x="24.14" y="71.62" width="4.99" height="5.00" fill="#808080"/><rect x="29.07" y="71.62" width="4.99" height="5.00" fill="#808080"/><rect x="34.01" y="71.62" width="4.99" height="5.00" fill="#cfcfcf"/><rect x="38.94" y="71.62" width="4.99" height="5.00" fill="#e0e0e0"/><rect x="43.88" y="71.62" width="4.99" height="5.00" fill="#656565"/><rect x="48.81" y="71.62" width="4.99" height="5.00" fill="#242424"/><rect x="53.75" y="71.62" width="4.99" height="5.00" fill="#a1a1a1"/><rect x="58.69" y="71.62" width="4.99" height="5.00" fill="#bfbfbf"/><rect x="63.62" y="71.62" width="4.99" height="5.00" fill="#808080"/><rect x="68.56" y="71.62" width="4.99" height="5.00" fill="#656565"/><rect x="73.49" y="71.62" width="4.99" height="5.00" fill="#bfbfbf"/><rect x="78.43" y="71.62" width="4.99" height="5.00" fill="#bfbfbf"/><rect x="83.36" y="71.62" width="4.99" height="5.00" fill="#656565"/><rect x="88.30" y="71.62" width="4.99" height="5.00" fill="#4f4f4f"/><rect x="93.24" y="71.62" width="4.99" height="5.00" fill="#656565"/><rect x="98.17" y="71.62" width="4.99" height="5.00" fill="#a1a1a1"/><rect x="103.11" y="71.62" width="4.99" height="5.00" fill="#cfcfcf"/><rect x="108.04" y="71.62" width="4.99" height="5.00" fill="#656565"/><rect x="112.98" y="71.62" width="4.99" height="5.00" fill="#4f4f4f"/><rect x="117.91" y="71.62" width="4.99" height="5.00" fill="#656565"/><rect x="122.85" y="71.62" width="4.99" height="5.00" fill="#787878"/><rect x="127.79" y="71.62" width="4.99" height="5.00" fill="#a1a1a1"/><rect x="132.72" y="71.62" width="4.99" height="5.00" fill="#a1a1a1"/><rect x="137.66" y="71.62" width="4.99" height="5.00" fill="#a1a1a1"/><rect x="142.59" y="71.62" width="4.99" height="5.00" fill="#a1a1a1"/><rect x="147.53" y="71.62" width="4.99" height="5.00" fill="#a1a1a1"/><rect x="152.46" y="71.62" width="12.99" height="5.00" fill="#a1a1a1"/><rect x="11.20" y="76.58" width="12.99" height="5.00" fill="#6e6e6e"/><rect x="24.14" y="76.58" width="4.99" height="5.00" fill="#656565"/><rect x="29.07" y="76.58" width="4.99" height="5.00" fill="#808080"/><rect x="34.01" y="76.58" width="4.99" height="5.00" fill="#e0e0e0"/><rect x="38.94" y="76.58" width="4.99" height="5.00" fill="#e0e0e0"/><rect x="43.88" y="76.58" width="4.99" height="5.00" fill="#383838"/><rect x="48.81" y="76.58" width="4.99" height="5.00" fill="#121212"/><rect x="53.75" y="76.58" width="4.99" height="5.00" fill="#bfbfbf"/><rect x="58.69" y="76.58" width="4.99" height="5.00" fill="#a1a1a1"/><rect x="63.62" y="76.58" width="4.99" height="5.00" fill="#808080"/><rect x="68.56" y="76.58" width="4.99" height="5.00" fill="#787878"/><rect x="73.49" y="76.58" width="4.99" height="5.00" fill="#bfbfbf"/><rect x="78.43" y="76.58" width="4.99" height="5.00" fill="#656565"/><rect x="83.36" y="76.58" width="4.99" height="5.00" fill="#656565"/><rect x="88.30" y="76.58" width="4.99" height="5.00" fill="#a1a1a1"/><rect x="93.24" y="76.58" width="4.99" height="5.00" fill="#bfbfbf"/><rect x="98.17" y="76.58" width="4.99" height="5.00" fill="#a1a1a1"/><rect x="103.11" y="76.58" width="4.99" height="5.00" fill="#bfbfbf"/><rect x="108.04" y="76.58" width="4.99" height="5.00" fill="#656565"/><rect x="112.98" y="76.58" width="4.99" height="5.00" fill="#4f4f4f"/><rect x="117.91" y="76.58" width="4.99" height="5.00" fill="#787878"/><rect x="122.85" y="76.58" width="4.99" height="5.00" fill="#898989"/><rect x="127.79" y="76.58" width="4.99" height="5.00" fill="#8f8f8f"/><rect x="132.72" y="76.58" width="4.99" height="5.00" fill="#a1a1a1"/><rect x="137.66" y="76.58" width="4.99" height="5.00" fill="#a1a1a1"/><rect x="142.59" y="76.58" width="4.99" height="5.00" fill="#a1a1a1"/><rect x="147.53" y="76.58" width="4.99" height="5.00" fill="#a1a1a1"/><rect x="152.46" y="76.58" width="12.99" height="5.00" fill="#a1a1a1"/><rect x="11.20" y="81.53" width="12.99" height="5.00" fill="#656565"/><rect x="24.14" y="81.53" width="4.99" height="5.00" fill="#777777"/><rect x="29.07" y="81.53" width="4.99" height="5.00" fill="#808080"/><rect x="34.01" y="81.53" width="4.99" height="5.00" fill="#f2f2f2"/><rect x="38.94" y="81.53" width="4.99" height="5.00" fill="#e0e0e0"/><rect x="43.88" y="81.53" width="4.99" height="5.00" fill="#242424"/><rect x="48.81" y="81.53" width="4.99" height="5.00" fill="#050505"/><rect x="53.75" y="81.53" width="4.99" height="5.00" fill="#242424"/><rect x="58.69" y="81.53" width="4.99" height="5.00" fill="#808080"/><rect x="63.62" y="81.53" width="4.99" height="5.00" fill="#a1a1a1"/><rect x="68.56" y="81.53" width="4.99" height="5.00" fill="#787878"/><rect x="73.49" y="81.53" width="4.99" height="5.00" fill="#bfbfbf"/><rect x="78.43" y="81.53" width="4.99" height="5.00" fill="#656565"/><rect x="83.36" y="81.53" width="4.99" height="5.00" fill="#242424"/><rect x="88.30" y="81.53" width="4.99" height="5.00" fill="#bfbfbf"/><rect x="93.24" y="81.53" width="4.99" height="5.00" fill="#a1a1a1"/><rect x="98.17" y="81.53" width="4.99" height="5.00" fill="#a1a1a1"/><rect x="103.11" y="81.53" width="4.99" height="5.00" fill="#656565"/><rect x="108.04" y="81.53" width="4.99" height="5.00" fill="#656565"/><rect x="112.98" y="81.53" width="4.99" height="5.00" fill="#a1a1a1"/><rect x="117.91" y="81.53" width="4.99" height="5.00" fill="#bfbfbf"/><rect x="122.85" y="81.53" width="4.99" height="5.00" fill="#9c9c9c"/><rect x="127.79" y="81.53" width="4.99" height="5.00" fill="#a1a1a1"/><rect x="132.72" y="81.53" width="4.99" height="5.00" fill="#a0a0a0"/><rect x="137.66" y="81.53" width="4.99" height="5.00" fill="#a1a1a1"/><rect x="142.59" y="81.53" width="4.99" height="5.00" fill="#a1a1a1"/><rect x="147.53" y="81.53" width="4.99" height="5.00" fill="#a1a1a1"/><rect x="152.46" y="81.53" width="12.99" height="5.00" fill="#a1a1a1"/><rect x="11.20" y="86.48" width="12.99" height="5.00" fill="#747474"/><rect x="24.14" y="86.48" width="4.99" height="5.00" fill="#808080"/><rect x="29.07" y="86.48" width="4.99" height="5.00" fill="#c6c6c6"/><rect x="34.01" y="86.48" width="4.99" height="5.00" fill="#e0e0e0"/><rect x="38.94" y="86.48" width="4.99" height="5.00" fill="#e0e0e0"/><rect x="43.88" y="86.48" width="4.99" height="5.00" fill="#242424"/><rect x="48.81" y="86.48" width="4.99" height="5.00" fill="#050505"/><rect x="53.75" y="86.48" width="4.99" height="5.00" fill="#242424"/><rect x="58.69" y="86.48" width="4.99" height="5.00" fill="#808080"/><rect x="63.62" y="86.48" width="4.99" height="5.00" fill="#a1a1a1"/><rect x="68.56" y="86.48" width="4.99" height="5.00" fill="#808080"/><rect x="73.49" y="86.48" width="4.99" height="5.00" fill="#e0e0e0"/><rect x="78.43" y="86.48" width="4.99" height="5.00" fill="#656565"/><rect x="83.36" y="86.48" width="4.99" height="5.00" fill="#242424"/><rect x="88.30" y="86.48" width="4.99" height="5.00" fill="#a1a1a1"/><rect x="93.24" y="86.48" width="4.99" height="5.00" fill="#8f8f8f"/><rect x="98.17" y="86.48" width="4.99" height="5.00" fill="#656565"/><rect x="103.11" y="86.48" width="4.99" height="5.00" fill="#656565"/><rect x="108.04" y="86.48" width="4.99" height="5.00" fill="#7d7d7d"/><rect x="112.98" y="86.48" width="4.99" height="5.00" fill="#a1a1a1"/><rect x="117.91" y="86.48" width="4.99" height="5.00" fill="#ababab"/><rect x="122.85" y="86.48" width="4.99" height="5.00" fill="#bfbfbf"/><rect x="127.79" y="86.48" width="4.99" height="5.00" fill="#adadad"/><rect x="132.72" y="86.48" width="4.99" height="5.00" fill="#afafaf"/><rect x="137.66" y="86.48" width="4.99" height="5.00" fill="#aaaaaa"/><rect x="142.59" y="86.48" width="4.99" height="5.00" fill="#a1a1a1"/><rect x="147.53" y="86.48" width="4.99" height="5.00" fill="#a1a1a1"/><rect x="152.46" y="86.48" width="12.99" height="5.00" fill="#a1a1a1"/><rect x="11.20" y="91.43" width="12.99" height="5.00" fill="#808080"/><rect x="24.14" y="91.43" width="4.99" height="5.00" fill="#b7b7b7"/><rect x="29.07" y="91.43" width="4.99" height="5.00" fill="#e0e0e0"/><rect x="34.01" y="91.43" width="4.99" height="5.00" fill="#e0e0e0"/><rect x="38.94" y="91.43" width="4.99" height="5.00" fill="#e0e0e0"/><rect x="43.88" y="91.43" width="4.99" height="5.00" fill="#383838"/><rect x="48.81" y="91.43" width="4.99" height="5.00" fill="#121212"/><rect x="53.75" y="91.43" width="4.99" height="5.00" fill="#242424"/><rect x="58.69" y="91.43" width="4.99" height="5.00" fill="#8f8f8f"/><rect x="63.62" y="91.43" width="4.99" height="5.00" fill="#a1a1a1"/><rect x="68.56" y="91.43" width="4.99" height="5.00" fill="#a1a1a1"/><rect x="73.49" y="91.43" width="4.99" height="5.00" fill="#e0e0e0"/><rect x="78.43" y="91.43" width="4.99" height="5.00" fill="#656565"/><rect x="83.36" y="91.43" width="4.99" height="5.00" fill="#242424"/><rect x="88.30" y="91.43" width="4.99" height="5.00" fill="#656565"/><rect x="93.24" y="91.43" width="4.99" height="5.00" fill="#808080"/><rect x="98.17" y="91.43" width="4.99" height="5.00" fill="#767676"/><rect x="103.11" y="91.43" width="4.99" height="5.00" fill="#656565"/><rect x="108.04" y="91.43" width="4.99" height="5.00" fill="#838383"/><rect x="112.98" y="91.43" width="4.99" height="5.00" fill="#a1a1a1"/><rect x="117.91" y="91.43" width="4.99" height="5.00" fill="#a1a1a1"/><rect x="122.85" y="91.43" width="4.99" height="5.00" fill="#aeaeae"/><rect x="127.79" y="91.43" width="4.99" height="5.00" fill="#bfbfbf"/><rect x="132.72" y="91.43" width="4.99" height="5.00" fill="#b6b6b6"/><rect x="137.66" y="91.43" width="4.99" height="5.00" fill="#b7b7b7"/><rect x="142.59" y="91.43" width="4.99" height="5.00" fill="#afafaf"/><rect x="147.53" y="91.43" width="4.99" height="5.00" fill="#a1a1a1"/><rect x="152.46" y="91.43" width="12.99" height="5.00" fill="#a1a1a1"/><rect x="11.20" y="96.39" width="12.99" height="5.00" fill="#b2b2b2"/><rect x="24.14" y="96.39" width="4.99" height="5.00" fill="#e0e0e0"/><rect x="29.07" y="96.39" width="4.99" height="5.00" fill="#d8d8d8"/><rect x="34.01" y="96.39" width="4.99" height="5.00" fill="#dadada"/><rect x="38.94" y="96.39" width="4.99" height="5.00" fill="#e0e0e0"/><rect x="43.88" y="96.39" width="4.99" height="5.00" fill="#656565"/><rect x="48.81" y="96.39" width="4.99" height="5.00" fill="#242424"/><rect x="53.75" y="96.39" width="4.99" height="5.00" fill="#242424"/><rect x="58.69" y="96.39" width="4.99" height="5.00" fill="#a1a1a1"/><rect x="63.62" y="96.39" width="4.99" height="5.00" fill="#bfbfbf"/><rect x="68.56" y="96.39" width="4.99" height="5.00" fill="#a1a1a1"/><rect x="73.49" y="96.39" width="4.99" height="5.00" fill="#bfbfbf"/><rect x="78.43" y="96.39" width="4.99" height="5.00" fill="#656565"/><rect x="83.36" y="96.39" width="4.99" height="5.00" fill="#383838"/><rect x="88.30" y="96.39" width="4.99" height="5.00" fill="#656565"/><rect x="93.24" y="96.39" width="4.99" height="5.00" fill="#7a7a7a"/><rect x="98.17" y="96.39" width="4.99" height="5.00" fill="#808080"/><rect x="103.11" y="96.39" width="4.99" height="5.00" fill="#777777"/><rect x="108.04" y="96.39" width="4.99" height="5.00" fill="#838383"/><rect x="112.98" y="96.39" width="4.99" height="5.00" fill="#979797"/><rect x="117.91" y="96.39" width="4.99" height="5.00" fill="#a1a1a1"/><rect x="122.85" y="96.39" width="4.99" height="5.00" fill="#a1a1a1"/><rect x="127.79" y="96.39" width="4.99" height="5.00" fill="#afafaf"/><rect x="132.72" y="96.39" width="4.99" height="5.00" fill="#bfbfbf"/><rect x="137.66" y="96.39" width="4.99" height="5.00" fill="#bbbbbb"/><rect x="142.59" y="96.39" width="4.99" height="5.00" fill="#bbbbbb"/><rect x="147.53" y="96.39" width="4.99" height="5.00" fill="#b2b2b2"/><rect x="152.46" y="96.39" width="12.99" height="5.00" fill="#a1a1a1"/><rect x="11.20" y="101.34" width="12.99" height="5.00" fill="#a0a0a0"/><rect x="24.14" y="101.34" width="4.99" height="5.00" fill="#adadad"/><rect x="29.07" y="101.34" width="4.99" height="5.00" fill="#c2c2c2"/><rect x="34.01" y="101.34" width="4.99" height="5.00" fill="#c5c5c5"/><rect x="38.94" y="101.34" width="4.99" height="5.00" fill="#cfcfcf"/><rect x="43.88" y="101.34" width="4.99" height="5.00" fill="#a1a1a1"/><rect x="48.81" y="101.34" width="4.99" height="5.00" fill="#656565"/><rect x="53.75" y="101.34" width="4.99" height="5.00" fill="#656565"/><rect x="58.69" y="101.34" width="4.99" height="5.00" fill="#808080"/><rect x="63.62" y="101.34" width="4.99" height="5.00" fill="#a1a1a1"/><rect x="68.56" y="101.34" width="4.99" height="5.00" fill="#808080"/><rect x="73.49" y="101.34" width="4.99" height="5.00" fill="#656565"/><rect x="78.43" y="101.34" width="4.99" height="5.00" fill="#808080"/><rect x="83.36" y="101.34" width="4.99" height="5.00" fill="#a1a1a1"/><rect x="88.30" y="101.34" width="4.99" height="5.00" fill="#a1a1a1"/><rect x="93.24" y="101.34" width="4.99" height="5.00" fill="#838383"/><rect x="98.17" y="101.34" width="4.99" height="5.00" fill="#878787"/><rect x="103.11" y="101.34" width="4.99" height="5.00" fill="#808080"/><rect x="108.04" y="101.34" width="4.99" height="5.00" fill="#848484"/><rect x="112.98" y="101.34" width="4.99" height="5.00" fill="#939393"/><rect x="117.91" y="101.34" width="4.99" height="5.00" fill="#9d9d9d"/><rect x="122.85" y="101.34" width="4.99" height="5.00" fill="#a1a1a1"/><rect x="127.79" y="101.34" width="4.99" height="5.00" fill="#a1a1a1"/><rect x="132.72" y="101.34" width="4.99" height="5.00" fill="#b0b0b0"/><rect x="137.66" y="101.34" width="4.99" height="5.00" fill="#bfbfbf"/><rect x="142.59" y="101.34" width="4.99" height="5.00" fill="#bdbdbd"/><rect x="147.53" y="101.34" width="4.99" height="5.00" fill="#bdbdbd"/><rect x="152.46" y="101.34" width="12.99" height="5.00" fill="#b3b3b3"/><rect x="11.20" y="106.29" width="12.99" height="5.00" fill="#808080"/><rect x="24.14" y="106.29" width="4.99" height="5.00" fill="#808080"/><rect x="29.07" y="106.29" width="4.99" height="5.00" fill="#969696"/><rect x="34.01" y="106.29" width="4.99" height="5.00" fill="#a5a5a5"/><rect x="38.94" y="106.29" width="4.99" height="5.00" fill="#a1a1a1"/><rect x="43.88" y="106.29" width="4.99" height="5.00" fill="#656565"/><rect x="48.81" y="106.29" width="4.99" height="5.00" fill="#656565"/><rect x="53.75" y="106.29" width="4.99" height="5.00" fill="#8f8f8f"/><rect x="58.69" y="106.29" width="4.99" height="5.00" fill="#a1a1a1"/><rect x="63.62" y="106.29" width="4.99" height="5.00" fill="#808080"/><rect x="68.56" y="106.29" width="4.99" height="5.00" fill="#656565"/><rect x="73.49" y="106.29" width="4.99" height="5.00" fill="#656565"/><rect x="78.43" y="106.29" width="4.99" height="5.00" fill="#808080"/><rect x="83.36" y="106.29" width="4.99" height="5.00" fill="#a1a1a1"/><rect x="88.30" y="106.29" width="4.99" height="5.00" fill="#a1a1a1"/><rect x="93.24" y="106.29" width="4.99" height="5.00" fill="#a1a1a1"/><rect x="98.17" y="106.29" width="4.99" height="5.00" fill="#929292"/><rect x="103.11" y="106.29" width="4.99" height="5.00" fill="#8e8e8e"/><rect x="108.04" y="106.29" width="4.99" height="5.00" fill="#808080"/><rect x="112.98" y="106.29" width="4.99" height="5.00" fill="#8d8d8d"/><rect x="117.91" y="106.29" width="4.99" height="5.00" fill="#9b9b9b"/><rect x="122.85" y="106.29" width="4.99" height="5.00" fill="#a0a0a0"/><rect x="127.79" y="106.29" width="4.99" height="5.00" fill="#a1a1a1"/><rect x="132.72" y="106.29" width="4.99" height="5.00" fill="#a1a1a1"/><rect x="137.66" y="106.29" width="4.99" height="5.00" fill="#b0b0b0"/><rect x="142.59" y="106.29" width="4.99" height="5.00" fill="#bfbfbf"/><rect x="147.53" y="106.29" width="4.99" height="5.00" fill="#bebebe"/><rect x="152.46" y="106.29" width="12.99" height="5.00" fill="#bebebe"/><rect x="11.20" y="111.24" width="12.99" height="5.00" fill="#7f7f7f"/><rect x="24.14" y="111.24" width="4.99" height="5.00" fill="#808080"/><rect x="29.07" y="111.24" width="4.99" height="5.00" fill="#808080"/><rect x="34.01" y="111.24" width="4.99" height="5.00" fill="#868686"/><rect x="38.94" y="111.24" width="4.99" height="5.00" fill="#808080"/><rect x="43.88" y="111.24" width="4.99" height="5.00" fill="#656565"/><rect x="48.81" y="111.24" width="4.99" height="5.00" fill="#a1a1a1"/><rect x="53.75" y="111.24" width="4.99" height="5.00" fill="#a1a1a1"/><rect x="58.69" y="111.24" width="4.99" height="5.00" fill="#808080"/><rect x="63.62" y="111.24" width="4.99" height="5.00" fill="#818181"/><rect x="68.56" y="111.24" width="4.99" height="5.00" fill="#6e6e6e"/><rect x="73.49" y="111.24" width="4.99" height="5.00" fill="#6e6e6e"/><rect x="78.43" y="111.24" width="4.99" height="5.00" fill="#828282"/><rect x="83.36" y="111.24" width="4.99" height="5.00" fill="#909090"/><rect x="88.30" y="111.24" width="4.99" height="5.00" fill="#a1a1a1"/><rect x="93.24" y="111.24" width="4.99" height="5.00" fill="#a1a1a1"/><rect x="98.17" y="111.24" width="4.99" height="5.00" fill="#a1a1a1"/><rect x="103.11" y="111.24" width="4.99" height="5.00" fill="#999999"/><rect x="108.04" y="111.24" width="4.99" height="5.00" fill="#929292"/><rect x="112.98" y="111.24" width="4.99" height="5.00" fill="#808080"/><rect x="117.91" y="111.24" width="4.99" height="5.00" fill="#929292"/><rect x="122.85" y="111.24" width="4.99" height="5.00" fill="#9e9e9e"/><rect x="127.79" y="111.24" width="4.99" height="5.00" fill="#a0a0a0"/><rect x="132.72" y="111.24" width="4.99" height="5.00" fill="#a1a1a1"/><rect x="137.66" y="111.24" width="4.99" height="5.00" fill="#a1a1a1"/><rect x="142.59" y="111.24" width="4.99" height="5.00" fill="#b0b0b0"/><rect x="147.53" y="111.24" width="4.99" height="5.00" fill="#bfbfbf"/><rect x="152.46" y="111.24" width="12.99" height="5.00" fill="#bfbfbf"/><rect x="11.20" y="116.20" width="12.99" height="5.00" fill="#7c7c7c"/><rect x="24.14" y="116.20" width="4.99" height="5.00" fill="#818181"/><rect x="29.07" y="116.20" width="4.99" height="5.00" fill="#808080"/><rect x="34.01" y="116.20" width="4.99" height="5.00" fill="#808080"/><rect x="38.94" y="116.20" width="4.99" height="5.00" fill="#808080"/><rect x="43.88" y="116.20" width="4.99" height="5.00" fill="#a1a1a1"/><rect x="48.81" y="116.20" width="4.99" height="5.00" fill="#808080"/><rect x="53.75" y="116.20" width="4.99" height="5.00" fill="#909090"/><rect x="58.69" y="116.20" width="4.99" height="5.00" fill="#909090"/><rect x="63.62" y="116.20" width="4.99" height="5.00" fill="#808080"/><rect x="68.56" y="116.20" width="4.99" height="5.00" fill="#777777"/><rect x="73.49" y="116.20" width="4.99" height="5.00" fill="#747474"/><rect x="78.43" y="116.20" width="4.99" height="5.00" fill="#808080"/><rect x="83.36" y="116.20" width="4.99" height="5.00" fill="#919191"/><rect x="88.30" y="116.20" width="4.99" height="5.00" fill="#989898"/><rect x="93.24" y="116.20" width="4.99" height="5.00" fill="#a1a1a1"/><rect x="98.17" y="116.20" width="4.99" height="5.00" fill="#a1a1a1"/><rect x="103.11" y="116.20" width="4.99" height="5.00" fill="#a1a1a1"/><rect x="108.04" y="116.20" width="4.99" height="5.00" fill="#9d9d9d"/><rect x="112.98" y="116.20" width="4.99" height="5.00" fill="#949494"/><rect x="117.91" y="116.20" width="4.99" height="5.00" fill="#808080"/><rect x="122.85" y="116.20" width="4.99" height="5.00" fill="#949494"/><rect x="127.79" y="116.20" width="4.99" height="5.00" fill="#a0a0a0"/><rect x="132.72" y="116.20" width="4.99" height="5.00" fill="#a1a1a1"/><rect x="137.66" y="116.20" width="4.99" height="5.00" fill="#a1a1a1"/><rect x="142.59" y="116.20" width="4.99" height="5.00" fill="#a1a1a1"/><rect x="147.53" y="116.20" width="4.99" height="5.00" fill="#b0b0b0"/><rect x="152.46" y="116.20" width="12.99" height="5.00" fill="#bfbfbf"/><rect x="11.20" y="121.15" width="12.99" height="13.00" fill="#787878"/><rect x="24.14" y="121.15" width="4.99" height="13.00" fill="#808080"/><rect x="29.07" y="121.15" width="4.99" height="13.00" fill="#8f8f8f"/><rect x="34.01" y="121.15" width="4.99" height="13.00" fill="#a1a1a1"/><rect x="38.94" y="121.15" width="4.99" height="13.00" fill="#808080"/><rect x="43.88" y="121.15" width="4.99" height="13.00" fill="#a1a1a1"/><rect x="48.81" y="121.15" width="4.99" height="13.00" fill="#969696"/><rect x="53.75" y="121.15" width="4.99" height="13.00" fill="#808080"/><rect x="58.69" y="121.15" width="4.99" height="13.00" fill="#888888"/><rect x="63.62" y="121.15" width="4.99" height="13.00" fill="#888888"/><rect x="68.56" y="121.15" width="4.99" height="13.00" fill="#808080"/><rect x="73.49" y="121.15" width="4.99" height="13.00" fill="#7b7b7b"/><rect x="78.43" y="121.15" width="4.99" height="13.00" fill="#828282"/><rect x="83.36" y="121.15" width="4.99" height="13.00" fill="#8e8e8e"/><rect x="88.30" y="121.15" width="4.99" height="13.00" fill="#999999"/><rect x="93.24" y="121.15" width="4.99" height="13.00" fill="#9d9d9d"/><rect x="98.17" y="121.15" width="4.99" height="13.00" fill="#a1a1a1"/><rect x="103.11" y="121.15" width="4.99" height="13.00" fill="#a1a1a1"/><rect x="108.04" y="121.15" width="4.99" height="13.00" fill="#a1a1a1"/><rect x="112.98" y="121.15" width="4.99" height="13.00" fill="#9f9f9f"/><rect x="117.91" y="121.15" width="4.99" height="13.00" fill="#919191"/><rect x="122.85" y="121.15" width="4.99" height="13.00" fill="#808080"/><rect x="127.79" y="121.15" width="4.99" height="13.00" fill="#959595"/><rect x="132.72" y="121.15" width="4.99" height="13.00" fill="#a0a0a0"/><rect x="137.66" y="121.15" width="4.99" height="13.00" fill="#a1a1a1"/><rect x="142.59" y="121.15" width="4.99" height="13.00" fill="#a1a1a1"/><rect x="147.53" y="121.15" width="4.99" height="13.00" fill="#a1a1a1"/><rect x="152.46" y="121.15" width="12.99" height="13.00" fill="#b0b0b0"/></g><g fill="none" stroke="#000" stroke-width="1.65" stroke-dasharray="0 2.05" stroke-linecap="round" stroke-linejoin="round" opacity="0.85"><polyline points="42.3,60.0 46.3,54.6 51.7,50.0 55.7,46.6 59.7,42.6 61.0,40.0 64.5,35.3"/><polyline points="49.0,43.3 51.7,42.6 55.7,41.3"/><polyline points="54.4,71.3 57.0,68.0 61.0,61.3 65.0,56.0 67.7,50.6 71.7,45.3 74.3,42.6 78.0,38.3"/><polyline points="70.0,54.6 73.3,49.6 76.7,44.6 80.0,39.6 83.3,36.3 88.3,31.3 93.3,26.3 96.7,23.0"/><polyline points="85.0,58.0 88.3,53.0 90.0,48.0 93.3,41.3 96.7,38.8 101.7,38.8 105.0,41.3 106.7,46.3 105.0,51.3 101.7,54.6 98.3,56.3 96.7,59.6 100.0,61.3 103.3,58.0 106.7,56.3"/><polyline points="98.0,51.3 101.0,53.3 104.0,51.3 99.0,57.3 102.0,59.3 97.0,54.3"/><polyline points="100.0,21.3 103.3,24.6 108.3,28.0 113.3,29.6 116.7,28.0 120.0,24.6 123.3,21.3"/><polyline points="113.3,29.6 115.0,36.3 116.7,43.0 115.8,49.6 116.7,56.3 118.3,63.0 120.0,69.6"/><polyline points="116.7,34.6 121.7,29.6 126.7,24.6"/><polyline points="118.3,46.3 123.3,43.0 128.3,39.6"/><polyline points="38.3,66.6 42.3,69.3 46.3,70.6"/><polyline points="65.0,70.6 69.0,68.0 71.7,65.3 74.3,60.0"/><polyline points="29.6,68.5 33.1,66.7 36.7,67.6"/><polyline points="59.6,70.3 63.2,75.6 65.8,80.9 66.7,87.9 64.9,93.2 63.2,98.5"/><polyline points="56.9,72.3 59.4,82.4 62.0,92.5 60.7,105.2 59.4,112.7"/><polyline points="69.5,72.3 72.1,79.9 73.3,87.5 77.1,97.6 79.7,105.2 77.1,112.7"/><polyline points="59.4,79.9 69.5,82.4 77.1,84.9"/><polyline points="94.8,72.3 97.3,82.4 99.9,92.5 94.8,100.1 87.2,105.2 79.7,107.7"/><polyline points="102.4,72.3 104.9,79.9 110.0,87.5 115.0,92.5"/><polyline points="34.2,115.3 41.7,112.7 51.9,110.2 59.4,112.7"/><polyline points="41.7,120.3 44.3,125.3"/><polyline points="30.0,122.3 36.0,118.3 40.0,123.3"/></g><use href="#landall"/><g stroke="#a8a8a8" stroke-opacity="0.5" stroke-width="0.5" mask="url(#lmask)"><line x1="19.2" y1="117.6" x2="157.39999999999998" y2="117.6"/><line x1="19.2" y1="107.9" x2="157.39999999999998" y2="107.9"/><line x1="19.2" y1="98.3" x2="157.39999999999998" y2="98.3"/><line x1="19.2" y1="88.6" x2="157.39999999999998" y2="88.6"/><line x1="19.2" y1="78.9" x2="157.39999999999998" y2="78.9"/><line x1="19.2" y1="69.2" x2="157.39999999999998" y2="69.2"/><line x1="19.2" y1="59.5" x2="157.39999999999998" y2="59.5"/><line x1="19.2" y1="49.9" x2="157.39999999999998" y2="49.9"/><line x1="19.2" y1="40.2" x2="157.39999999999998" y2="40.2"/><line x1="19.2" y1="30.5" x2="157.39999999999998" y2="30.5"/><line x1="27.0" y1="22.1" x2="27.0" y2="126.1"/><line x1="43.4" y1="22.1" x2="43.4" y2="126.1"/><line x1="59.7" y1="22.1" x2="59.7" y2="126.1"/><line x1="76.1" y1="22.1" x2="76.1" y2="126.1"/><line x1="92.4" y1="22.1" x2="92.4" y2="126.1"/><line x1="108.8" y1="22.1" x2="108.8" y2="126.1"/><line x1="125.2" y1="22.1" x2="125.2" y2="126.1"/><line x1="141.5" y1="22.1" x2="141.5" y2="126.1"/></g><g fill="none" stroke="#fff" stroke-width="0.6" stroke-dasharray="2.2 1.6" opacity="0.6"><rect x="24" y="56.5" width="28.8" height="36"/><rect x="52.8" y="56.5" width="62.8" height="26"/></g></g><g stroke="#222" stroke-width="0.5"><line x1="19.2" y1="117.6" x2="20.5" y2="117.6"/><line x1="157.39999999999998" y1="117.6" x2="156.09999999999997" y2="117.6"/><line x1="19.2" y1="107.9" x2="20.5" y2="107.9"/><line x1="157.39999999999998" y1="107.9" x2="156.09999999999997" y2="107.9"/><line x1="19.2" y1="98.3" x2="20.5" y2="98.3"/><line x1="157.39999999999998" y1="98.3" x2="156.09999999999997" y2="98.3"/><line x1="19.2" y1="88.6" x2="20.5" y2="88.6"/><line x1="157.39999999999998" y1="88.6" x2="156.09999999999997" y2="88.6"/><line x1="19.2" y1="78.9" x2="20.5" y2="78.9"/><line x1="157.39999999999998" y1="78.9" x2="156.09999999999997" y2="78.9"/><line x1="19.2" y1="69.2" x2="20.5" y2="69.2"/><line x1="157.39999999999998" y1="69.2" x2="156.09999999999997" y2="69.2"/><line x1="19.2" y1="59.5" x2="20.5" y2="59.5"/><line x1="157.39999999999998" y1="59.5" x2="156.09999999999997" y2="59.5"/><line x1="19.2" y1="49.9" x2="20.5" y2="49.9"/><line x1="157.39999999999998" y1="49.9" x2="156.09999999999997" y2="49.9"/><line x1="19.2" y1="40.2" x2="20.5" y2="40.2"/><line x1="157.39999999999998" y1="40.2" x2="156.09999999999997" y2="40.2"/><line x1="19.2" y1="30.5" x2="20.5" y2="30.5"/><line x1="157.39999999999998" y1="30.5" x2="156.09999999999997" y2="30.5"/><line x1="27.0" y1="22.1" x2="27.0" y2="23.400000000000002"/><line x1="27.0" y1="126.1" x2="27.0" y2="124.8"/><line x1="43.4" y1="22.1" x2="43.4" y2="23.400000000000002"/><line x1="43.4" y1="126.1" x2="43.4" y2="124.8"/><line x1="59.7" y1="22.1" x2="59.7" y2="23.400000000000002"/><line x1="59.7" y1="126.1" x2="59.7" y2="124.8"/><line x1="76.1" y1="22.1" x2="76.1" y2="23.400000000000002"/><line x1="76.1" y1="126.1" x2="76.1" y2="124.8"/><line x1="92.4" y1="22.1" x2="92.4" y2="23.400000000000002"/><line x1="92.4" y1="126.1" x2="92.4" y2="124.8"/><line x1="108.8" y1="22.1" x2="108.8" y2="23.400000000000002"/><line x1="108.8" y1="126.1" x2="108.8" y2="124.8"/><line x1="125.2" y1="22.1" x2="125.2" y2="23.400000000000002"/><line x1="125.2" y1="126.1" x2="125.2" y2="124.8"/><line x1="141.5" y1="22.1" x2="141.5" y2="23.400000000000002"/><line x1="141.5" y1="126.1" x2="141.5" y2="124.8"/></g><rect x="19.2" y="22.1" width="138.2" height="104.0" fill="none" stroke="#333" stroke-width="0.5"/><text x="17.6" y="119.4" class="tk" text-anchor="end">35</text><text x="17.6" y="109.7" class="tk" text-anchor="end">36</text><text x="17.6" y="100.1" class="tk" text-anchor="end">37</text><text x="17.6" y="90.4" class="tk" text-anchor="end">38</text><text x="17.6" y="80.7" class="tk" text-anchor="end">39</text><text x="17.6" y="71.0" class="tk" text-anchor="end">40</text><text x="17.6" y="61.3" class="tk" text-anchor="end">41</text><text x="17.6" y="51.7" class="tk" text-anchor="end">42</text><text x="17.6" y="42.0" class="tk" text-anchor="end">43</text><text x="17.6" y="32.3" class="tk" text-anchor="end">44</text><text x="27.0" y="133.0" class="tk" text-anchor="middle">128</text><text x="43.4" y="133.0" class="tk" text-anchor="middle">130</text><text x="59.7" y="133.0" class="tk" text-anchor="middle">132</text><text x="76.1" y="133.0" class="tk" text-anchor="middle">134</text><text x="92.4" y="133.0" class="tk" text-anchor="middle">136</text><text x="108.8" y="133.0" class="tk" text-anchor="middle">138</text><text x="125.2" y="133.0" class="tk" text-anchor="middle">140</text><text x="141.5" y="133.0" class="tk" text-anchor="middle">142</text><text x="88.3" y="140.3" class="al" text-anchor="middle">Longitude (°E)</text><text transform="translate(10.2 74.1) rotate(-90)" class="al" text-anchor="middle">Latitude (°N)</text><rect x="158.9" y="22.1" width="3.0" height="104.0" fill="url(#jetgrad)"/><rect x="158.9" y="22.1" width="3.0" height="104.0" fill="none" stroke="#333" stroke-width="0.3"/><text x="164" y="123.1" class="tk">-5</text><line x1="161.1" y1="121.4" x2="161.9" y2="121.4" stroke="#333" stroke-width="0.3"/><text x="164" y="113.6" class="tk">-4</text><line x1="161.1" y1="111.9" x2="161.9" y2="111.9" stroke="#333" stroke-width="0.3"/><text x="164" y="104.2" class="tk">-3</text><line x1="161.1" y1="102.5" x2="161.9" y2="102.5" stroke="#333" stroke-width="0.3"/><text x="164" y="94.7" class="tk">-2</text><line x1="161.1" y1="93.0" x2="161.9" y2="93.0" stroke="#333" stroke-width="0.3"/><text x="164" y="85.3" class="tk">-1</text><line x1="161.1" y1="83.6" x2="161.9" y2="83.6" stroke="#333" stroke-width="0.3"/><text x="164" y="75.8" class="tk">0</text><line x1="161.1" y1="74.1" x2="161.9" y2="74.1" stroke="#333" stroke-width="0.3"/><text x="164" y="66.3" class="tk">1</text><line x1="161.1" y1="64.6" x2="161.9" y2="64.6" stroke="#333" stroke-width="0.3"/><text x="164" y="56.9" class="tk">2</text><line x1="161.1" y1="55.2" x2="161.9" y2="55.2" stroke="#333" stroke-width="0.3"/><text x="164" y="47.4" class="tk">3</text><line x1="161.1" y1="45.7" x2="161.9" y2="45.7" stroke="#333" stroke-width="0.3"/><text x="164" y="38.0" class="tk">4</text><line x1="161.1" y1="36.3" x2="161.9" y2="36.3" stroke="#333" stroke-width="0.3"/><text x="164" y="28.5" class="tk">5</text><line x1="161.1" y1="26.8" x2="161.9" y2="26.8" stroke="#333" stroke-width="0.3"/><text transform="translate(173.9 74.1) rotate(-90)" text-anchor="middle" class="cbl">[cm/s / Decade]</text></g><g transform="translate(186.0 152.7)"><text x="9.8" y="12.4" class="pl">(E)</text><text x="88.3" y="20.1" class="ti" text-anchor="middle">Linear Trend of VA (1993 ~ 2008)</text><g clip-path="url(#mapclip)"><g filter="url(#jet)"><rect x="11.20" y="14.10" width="12.99" height="13.00" fill="#787878"/><rect x="24.14" y="14.10" width="4.99" height="13.00" fill="#7c7c7c"/><rect x="29.07" y="14.10" width="4.99" height="13.00" fill="#808080"/><rect x="34.01" y="14.10" width="4.99" height="13.00" fill="#7c7c7c"/><rect x="38.94" y="14.10" width="4.99" height="13.00" fill="#787878"/><rect x="43.88" y="14.10" width="4.99" height="13.00" fill="#787878"/><rect x="48.81" y="14.10" width="4.99" height="13.00" fill="#787878"/><rect x="53.75" y="14.10" width="4.99" height="13.00" fill="#787878"/><rect x="58.69" y="14.10" width="4.99" height="13.00" fill="#787878"/><rect x="63.62" y="14.10" width="4.99" height="13.00" fill="#787878"/><rect x="68.56" y="14.10" width="4.99" height="13.00" fill="#787878"/><rect x="73.49" y="14.10" width="4.99" height="13.00" fill="#787878"/><rect x="78.43" y="14.10" width="4.99" height="13.00" fill="#7a7a7a"/><rect x="83.36" y="14.10" width="4.99" height="13.00" fill="#787878"/><rect x="88.30" y="14.10" width="4.99" height="13.00" fill="#787878"/><rect x="93.24" y="14.10" width="4.99" height="13.00" fill="#787878"/><rect x="98.17" y="14.10" width="4.99" height="13.00" fill="#787878"/><rect x="103.11" y="14.10" width="4.99" height="13.00" fill="#787878"/><rect x="108.04" y="14.10" width="4.99" height="13.00" fill="#787878"/><rect x="112.98" y="14.10" width="4.99" height="13.00" fill="#8f8f8f"/><rect x="117.91" y="14.10" width="4.99" height="13.00" fill="#808080"/><rect x="122.85" y="14.10" width="4.99" height="13.00" fill="#787878"/><rect x="127.79" y="14.10" width="4.99" height="13.00" fill="#787878"/><rect x="132.72" y="14.10" width="4.99" height="13.00" fill="#787878"/><rect x="137.66" y="14.10" width="4.99" height="13.00" fill="#787878"/><rect x="142.59" y="14.10" width="4.99" height="13.00" fill="#787878"/><rect x="147.53" y="14.10" width="4.99" height="13.00" fill="#787878"/><rect x="152.46" y="14.10" width="12.99" height="13.00" fill="#787878"/><rect x="11.20" y="27.05" width="12.99" height="5.00" fill="#787878"/><rect x="24.14" y="27.05" width="4.99" height="5.00" fill="#787878"/><rect x="29.07" y="27.05" width="4.99" height="5.00" fill="#7c7c7c"/><rect x="34.01" y="27.05" width="4.99" height="5.00" fill="#808080"/><rect x="38.94" y="27.05" width="4.99" height="5.00" fill="#7c7c7c"/><rect x="43.88" y="27.05" width="4.99" height="5.00" fill="#787878"/><rect x="48.81" y="27.05" width="4.99" height="5.00" fill="#787878"/><rect x="53.75" y="27.05" width="4.99" height="5.00" fill="#787878"/><rect x="58.69" y="27.05" width="4.99" height="5.00" fill="#787878"/><rect x="63.62" y="27.05" width="4.99" height="5.00" fill="#787878"/><rect x="68.56" y="27.05" width="4.99" height="5.00" fill="#787878"/><rect x="73.49" y="27.05" width="4.99" height="5.00" fill="#787878"/><rect x="78.43" y="27.05" width="4.99" height="5.00" fill="#787878"/><rect x="83.36" y="27.05" width="4.99" height="5.00" fill="#808080"/><rect x="88.30" y="27.05" width="4.99" height="5.00" fill="#787878"/><rect x="93.24" y="27.05" width="4.99" height="5.00" fill="#787878"/><rect x="98.17" y="27.05" width="4.99" height="5.00" fill="#787878"/><rect x="103.11" y="27.05" width="4.99" height="5.00" fill="#787878"/><rect x="108.04" y="27.05" width="4.99" height="5.00" fill="#808080"/><rect x="112.98" y="27.05" width="4.99" height="5.00" fill="#8f8f8f"/><rect x="117.91" y="27.05" width="4.99" height="5.00" fill="#808080"/><rect x="122.85" y="27.05" width="4.99" height="5.00" fill="#808080"/><rect x="127.79" y="27.05" width="4.99" height="5.00" fill="#787878"/><rect x="132.72" y="27.05" width="4.99" height="5.00" fill="#828282"/><rect x="137.66" y="27.05" width="4.99" height="5.00" fill="#787878"/><rect x="142.59" y="27.05" width="4.99" height="5.00" fill="#787878"/><rect x="147.53" y="27.05" width="4.99" height="5.00" fill="#787878"/><rect x="152.46" y="27.05" width="12.99" height="5.00" fill="#787878"/><rect x="11.20" y="32.00" width="12.99" height="5.00" fill="#787878"/><rect x="24.14" y="32.00" width="4.99" height="5.00" fill="#787878"/><rect x="29.07" y="32.00" width="4.99" height="5.00" fill="#787878"/><rect x="34.01" y="32.00" width="4.99" height="5.00" fill="#7c7c7c"/><rect x="38.94" y="32.00" width="4.99" height="5.00" fill="#808080"/><rect x="43.88" y="32.00" width="4.99" height="5.00" fill="#7c7c7c"/><rect x="48.81" y="32.00" width="4.99" height="5.00" fill="#787878"/><rect x="53.75" y="32.00" width="4.99" height="5.00" fill="#787878"/><rect x="58.69" y="32.00" width="4.99" height="5.00" fill="#787878"/><rect x="63.62" y="32.00" width="4.99" height="5.00" fill="#787878"/><rect x="68.56" y="32.00" width="4.99" height="5.00" fill="#787878"/><rect x="73.49" y="32.00" width="4.99" height="5.00" fill="#787878"/><rect x="78.43" y="32.00" width="4.99" height="5.00" fill="#787878"/><rect x="83.36" y="32.00" width="4.99" height="5.00" fill="#787878"/><rect x="88.30" y="32.00" width="4.99" height="5.00" fill="#8f8f8f"/><rect x="93.24" y="32.00" width="4.99" height="5.00" fill="#8f8f8f"/><rect x="98.17" y="32.00" width="4.99" height="5.00" fill="#787878"/><rect x="103.11" y="32.00" width="4.99" height="5.00" fill="#787878"/><rect x="108.04" y="32.00" width="4.99" height="5.00" fill="#656565"/><rect x="112.98" y="32.00" width="4.99" height="5.00" fill="#787878"/><rect x="117.91" y="32.00" width="4.99" height="5.00" fill="#787878"/><rect x="122.85" y="32.00" width="4.99" height="5.00" fill="#8f8f8f"/><rect x="127.79" y="32.00" width="4.99" height="5.00" fill="#a1a1a1"/><rect x="132.72" y="32.00" width="4.99" height="5.00" fill="#8c8c8c"/><rect x="137.66" y="32.00" width="4.99" height="5.00" fill="#8a8a8a"/><rect x="142.59" y="32.00" width="4.99" height="5.00" fill="#787878"/><rect x="147.53" y="32.00" width="4.99" height="5.00" fill="#787878"/><rect x="152.46" y="32.00" width="12.99" height="5.00" fill="#787878"/><rect x="11.20" y="36.96" width="12.99" height="5.00" fill="#787878"/><rect x="24.14" y="36.96" width="4.99" height="5.00" fill="#787878"/><rect x="29.07" y="36.96" width="4.99" height="5.00" fill="#787878"/><rect x="34.01" y="36.96" width="4.99" height="5.00" fill="#787878"/><rect x="38.94" y="36.96" width="4.99" height="5.00" fill="#7e7e7e"/><rect x="43.88" y="36.96" width="4.99" height="5.00" fill="#808080"/><rect x="48.81" y="36.96" width="4.99" height="5.00" fill="#7d7d7d"/><rect x="53.75" y="36.96" width="4.99" height="5.00" fill="#787878"/><rect x="58.69" y="36.96" width="4.99" height="5.00" fill="#7a7a7a"/><rect x="63.62" y="36.96" width="4.99" height="5.00" fill="#787878"/><rect x="68.56" y="36.96" width="4.99" height="5.00" fill="#787878"/><rect x="73.49" y="36.96" width="4.99" height="5.00" fill="#787878"/><rect x="78.43" y="36.96" width="4.99" height="5.00" fill="#787878"/><rect x="83.36" y="36.96" width="4.99" height="5.00" fill="#787878"/><rect x="88.30" y="36.96" width="4.99" height="5.00" fill="#8f8f8f"/><rect x="93.24" y="36.96" width="4.99" height="5.00" fill="#808080"/><rect x="98.17" y="36.96" width="4.99" height="5.00" fill="#787878"/><rect x="103.11" y="36.96" width="4.99" height="5.00" fill="#656565"/><rect x="108.04" y="36.96" width="4.99" height="5.00" fill="#656565"/><rect x="112.98" y="36.96" width="4.99" height="5.00" fill="#656565"/><rect x="117.91" y="36.96" width="4.99" height="5.00" fill="#787878"/><rect x="122.85" y="36.96" width="4.99" height="5.00" fill="#8f8f8f"/><rect x="127.79" y="36.96" width="4.99" height="5.00" fill="#959595"/><rect x="132.72" y="36.96" width="4.99" height="5.00" fill="#a1a1a1"/><rect x="137.66" y="36.96" width="4.99" height="5.00" fill="#969696"/><rect x="142.59" y="36.96" width="4.99" height="5.00" fill="#8e8e8e"/><rect x="147.53" y="36.96" width="4.99" height="5.00" fill="#787878"/><rect x="152.46" y="36.96" width="12.99" height="5.00" fill="#787878"/><rect x="11.20" y="41.91" width="12.99" height="5.00" fill="#787878"/><rect x="24.14" y="41.91" width="4.99" height="5.00" fill="#787878"/><rect x="29.07" y="41.91" width="4.99" height="5.00" fill="#787878"/><rect x="34.01" y="41.91" width="4.99" height="5.00" fill="#787878"/><rect x="38.94" y="41.91" width="4.99" height="5.00" fill="#787878"/><rect x="43.88" y="41.91" width="4.99" height="5.00" fill="#828282"/><rect x="48.81" y="41.91" width="4.99" height="5.00" fill="#808080"/><rect x="53.75" y="41.91" width="4.99" height="5.00" fill="#808080"/><rect x="58.69" y="41.91" width="4.99" height="5.00" fill="#787878"/><rect x="63.62" y="41.91" width="4.99" height="5.00" fill="#787878"/><rect x="68.56" y="41.91" width="4.99" height="5.00" fill="#787878"/><rect x="73.49" y="41.91" width="4.99" height="5.00" fill="#787878"/><rect x="78.43" y="41.91" width="4.99" height="5.00" fill="#787878"/><rect x="83.36" y="41.91" width="4.99" height="5.00" fill="#787878"/><rect x="88.30" y="41.91" width="4.99" height="5.00" fill="#808080"/><rect x="93.24" y="41.91" width="4.99" height="5.00" fill="#8f8f8f"/><rect x="98.17" y="41.91" width="4.99" height="5.00" fill="#808080"/><rect x="103.11" y="41.91" width="4.99" height="5.00" fill="#656565"/><rect x="108.04" y="41.91" width="4.99" height="5.00" fill="#656565"/><rect x="112.98" y="41.91" width="4.99" height="5.00" fill="#656565"/><rect x="117.91" y="41.91" width="4.99" height="5.00" fill="#787878"/><rect x="122.85" y="41.91" width="4.99" height="5.00" fill="#797979"/><rect x="127.79" y="41.91" width="4.99" height="5.00" fill="#8f8f8f"/><rect x="132.72" y="41.91" width="4.99" height="5.00" fill="#979797"/><rect x="137.66" y="41.91" width="4.99" height="5.00" fill="#a1a1a1"/><rect x="142.59" y="41.91" width="4.99" height="5.00" fill="#9c9c9c"/><rect x="147.53" y="41.91" width="4.99" height="5.00" fill="#919191"/><rect x="152.46" y="41.91" width="12.99" height="5.00" fill="#787878"/><rect x="11.20" y="46.86" width="12.99" height="5.00" fill="#7c7c7c"/><rect x="24.14" y="46.86" width="4.99" height="5.00" fill="#787878"/><rect x="29.07" y="46.86" width="4.99" height="5.00" fill="#797979"/><rect x="34.01" y="46.86" width="4.99" height="5.00" fill="#787878"/><rect x="38.94" y="46.86" width="4.99" height="5.00" fill="#787878"/><rect x="43.88" y="46.86" width="4.99" height="5.00" fill="#787878"/><rect x="48.81" y="46.86" width="4.99" height="5.00" fill="#8f8f8f"/><rect x="53.75" y="46.86" width="4.99" height="5.00" fill="#8f8f8f"/><rect x="58.69" y="46.86" width="4.99" height="5.00" fill="#808080"/><rect x="63.62" y="46.86" width="4.99" height="5.00" fill="#808080"/><rect x="68.56" y="46.86" width="4.99" height="5.00" fill="#808080"/><rect x="73.49" y="46.86" width="4.99" height="5.00" fill="#808080"/><rect x="78.43" y="46.86" width="4.99" height="5.00" fill="#808080"/><rect x="83.36" y="46.86" width="4.99" height="5.00" fill="#808080"/><rect x="88.30" y="46.86" width="4.99" height="5.00" fill="#808080"/><rect x="93.24" y="46.86" width="4.99" height="5.00" fill="#808080"/><rect x="98.17" y="46.86" width="4.99" height="5.00" fill="#787878"/><rect x="103.11" y="46.86" width="4.99" height="5.00" fill="#787878"/><rect x="108.04" y="46.86" width="4.99" height="5.00" fill="#787878"/><rect x="112.98" y="46.86" width="4.99" height="5.00" fill="#787878"/><rect x="117.91" y="46.86" width="4.99" height="5.00" fill="#656565"/><rect x="122.85" y="46.86" width="4.99" height="5.00" fill="#6b6b6b"/><rect x="127.79" y="46.86" width="4.99" height="5.00" fill="#767676"/><rect x="132.72" y="46.86" width="4.99" height="5.00" fill="#8f8f8f"/><rect x="137.66" y="46.86" width="4.99" height="5.00" fill="#959595"/><rect x="142.59" y="46.86" width="4.99" height="5.00" fill="#a1a1a1"/><rect x="147.53" y="46.86" width="4.99" height="5.00" fill="#9e9e9e"/><rect x="152.46" y="46.86" width="12.99" height="5.00" fill="#929292"/><rect x="11.20" y="51.81" width="12.99" height="5.00" fill="#808080"/><rect x="24.14" y="51.81" width="4.99" height="5.00" fill="#7c7c7c"/><rect x="29.07" y="51.81" width="4.99" height="5.00" fill="#787878"/><rect x="34.01" y="51.81" width="4.99" height="5.00" fill="#7a7a7a"/><rect x="38.94" y="51.81" width="4.99" height="5.00" fill="#787878"/><rect x="43.88" y="51.81" width="4.99" height="5.00" fill="#787878"/><rect x="48.81" y="51.81" width="4.99" height="5.00" fill="#8f8f8f"/><rect x="53.75" y="51.81" width="4.99" height="5.00" fill="#8f8f8f"/><rect x="58.69" y="51.81" width="4.99" height="5.00" fill="#787878"/><rect x="63.62" y="51.81" width="4.99" height="5.00" fill="#656565"/><rect x="68.56" y="51.81" width="4.99" height="5.00" fill="#787878"/><rect x="73.49" y="51.81" width="4.99" height="5.00" fill="#808080"/><rect x="78.43" y="51.81" width="4.99" height="5.00" fill="#808080"/><rect x="83.36" y="51.81" width="4.99" height="5.00" fill="#787878"/><rect x="88.30" y="51.81" width="4.99" height="5.00" fill="#808080"/><rect x="93.24" y="51.81" width="4.99" height="5.00" fill="#808080"/><rect x="98.17" y="51.81" width="4.99" height="5.00" fill="#787878"/><rect x="103.11" y="51.81" width="4.99" height="5.00" fill="#787878"/><rect x="108.04" y="51.81" width="4.99" height="5.00" fill="#787878"/><rect x="112.98" y="51.81" width="4.99" height="5.00" fill="#656565"/><rect x="117.91" y="51.81" width="4.99" height="5.00" fill="#656565"/><rect x="122.85" y="51.81" width="4.99" height="5.00" fill="#656565"/><rect x="127.79" y="51.81" width="4.99" height="5.00" fill="#737373"/><rect x="132.72" y="51.81" width="4.99" height="5.00" fill="#8f8f8f"/><rect x="137.66" y="51.81" width="4.99" height="5.00" fill="#8f8f8f"/><rect x="142.59" y="51.81" width="4.99" height="5.00" fill="#959595"/><rect x="147.53" y="51.81" width="4.99" height="5.00" fill="#a1a1a1"/><rect x="152.46" y="51.81" width="12.99" height="5.00" fill="#9f9f9f"/><rect x="11.20" y="56.77" width="12.99" height="5.00" fill="#7c7c7c"/><rect x="24.14" y="56.77" width="4.99" height="5.00" fill="#808080"/><rect x="29.07" y="56.77" width="4.99" height="5.00" fill="#7d7d7d"/><rect x="34.01" y="56.77" width="4.99" height="5.00" fill="#787878"/><rect x="38.94" y="56.77" width="4.99" height="5.00" fill="#808080"/><rect x="43.88" y="56.77" width="4.99" height="5.00" fill="#a1a1a1"/><rect x="48.81" y="56.77" width="4.99" height="5.00" fill="#787878"/><rect x="53.75" y="56.77" width="4.99" height="5.00" fill="#8f8f8f"/><rect x="58.69" y="56.77" width="4.99" height="5.00" fill="#656565"/><rect x="63.62" y="56.77" width="4.99" height="5.00" fill="#656565"/><rect x="68.56" y="56.77" width="4.99" height="5.00" fill="#787878"/><rect x="73.49" y="56.77" width="4.99" height="5.00" fill="#787878"/><rect x="78.43" y="56.77" width="4.99" height="5.00" fill="#787878"/><rect x="83.36" y="56.77" width="4.99" height="5.00" fill="#808080"/><rect x="88.30" y="56.77" width="4.99" height="5.00" fill="#808080"/><rect x="93.24" y="56.77" width="4.99" height="5.00" fill="#787878"/><rect x="98.17" y="56.77" width="4.99" height="5.00" fill="#787878"/><rect x="103.11" y="56.77" width="4.99" height="5.00" fill="#808080"/><rect x="108.04" y="56.77" width="4.99" height="5.00" fill="#656565"/><rect x="112.98" y="56.77" width="4.99" height="5.00" fill="#656565"/><rect x="117.91" y="56.77" width="4.99" height="5.00" fill="#656565"/><rect x="122.85" y="56.77" width="4.99" height="5.00" fill="#6f6f6f"/><rect x="127.79" y="56.77" width="4.99" height="5.00" fill="#8f8f8f"/><rect x="132.72" y="56.77" width="4.99" height="5.00" fill="#8f8f8f"/><rect x="137.66" y="56.77" width="4.99" height="5.00" fill="#8f8f8f"/><rect x="142.59" y="56.77" width="4.99" height="5.00" fill="#8f8f8f"/><rect x="147.53" y="56.77" width="4.99" height="5.00" fill="#959595"/><rect x="152.46" y="56.77" width="12.99" height="5.00" fill="#a1a1a1"/><rect x="11.20" y="61.72" width="12.99" height="5.00" fill="#787878"/><rect x="24.14" y="61.72" width="4.99" height="5.00" fill="#7d7d7d"/><rect x="29.07" y="61.72" width="4.99" height="5.00" fill="#808080"/><rect x="34.01" y="61.72" width="4.99" height="5.00" fill="#808080"/><rect x="38.94" y="61.72" width="4.99" height="5.00" fill="#a1a1a1"/><rect x="43.88" y="61.72" width="4.99" height="5.00" fill="#a1a1a1"/><rect x="48.81" y="61.72" width="4.99" height="5.00" fill="#656565"/><rect x="53.75" y="61.72" width="4.99" height="5.00" fill="#808080"/><rect x="58.69" y="61.72" width="4.99" height="5.00" fill="#787878"/><rect x="63.62" y="61.72" width="4.99" height="5.00" fill="#787878"/><rect x="68.56" y="61.72" width="4.99" height="5.00" fill="#787878"/><rect x="73.49" y="61.72" width="4.99" height="5.00" fill="#656565"/><rect x="78.43" y="61.72" width="4.99" height="5.00" fill="#656565"/><rect x="83.36" y="61.72" width="4.99" height="5.00" fill="#656565"/><rect x="88.30" y="61.72" width="4.99" height="5.00" fill="#8f8f8f"/><rect x="93.24" y="61.72" width="4.99" height="5.00" fill="#808080"/><rect x="98.17" y="61.72" width="4.99" height="5.00" fill="#787878"/><rect x="103.11" y="61.72" width="4.99" height="5.00" fill="#787878"/><rect x="108.04" y="61.72" width="4.99" height="5.00" fill="#656565"/><rect x="112.98" y="61.72" width="4.99" height="5.00" fill="#656565"/><rect x="117.91" y="61.72" width="4.99" height="5.00" fill="#656565"/><rect x="122.85" y="61.72" width="4.99" height="5.00" fill="#8f8f8f"/><rect x="127.79" y="61.72" width="4.99" height="5.00" fill="#8f8f8f"/><rect x="132.72" y="61.72" width="4.99" height="5.00" fill="#8f8f8f"/><rect x="137.66" y="61.72" width="4.99" height="5.00" fill="#8f8f8f"/><rect x="142.59" y="61.72" width="4.99" height="5.00" fill="#8f8f8f"/><rect x="147.53" y="61.72" width="4.99" height="5.00" fill="#8f8f8f"/><rect x="152.46" y="61.72" width="12.99" height="5.00" fill="#959595"/><rect x="11.20" y="66.67" width="12.99" height="5.00" fill="#717171"/><rect x="24.14" y="66.67" width="4.99" height="5.00" fill="#787878"/><rect x="29.07" y="66.67" width="4.99" height="5.00" fill="#808080"/><rect x="34.01" y="66.67" width="4.99" height="5.00" fill="#808080"/><rect x="38.94" y="66.67" width="4.99" height="5.00" fill="#a1a1a1"/><rect x="43.88" y="66.67" width="4.99" height="5.00" fill="#a1a1a1"/><rect x="48.81" y="66.67" width="4.99" height="5.00" fill="#656565"/><rect x="53.75" y="66.67" width="4.99" height="5.00" fill="#787878"/><rect x="58.69" y="66.67" width="4.99" height="5.00" fill="#a1a1a1"/><rect x="63.62" y="66.67" width="4.99" height="5.00" fill="#a1a1a1"/><rect x="68.56" y="66.67" width="4.99" height="5.00" fill="#787878"/><rect x="73.49" y="66.67" width="4.99" height="5.00" fill="#656565"/><rect x="78.43" y="66.67" width="4.99" height="5.00" fill="#4f4f4f"/><rect x="83.36" y="66.67" width="4.99" height="5.00" fill="#4f4f4f"/><rect x="88.30" y="66.67" width="4.99" height="5.00" fill="#a1a1a1"/><rect x="93.24" y="66.67" width="4.99" height="5.00" fill="#a1a1a1"/><rect x="98.17" y="66.67" width="4.99" height="5.00" fill="#808080"/><rect x="103.11" y="66.67" width="4.99" height="5.00" fill="#787878"/><rect x="108.04" y="66.67" width="4.99" height="5.00" fill="#4f4f4f"/><rect x="112.98" y="66.67" width="4.99" height="5.00" fill="#656565"/><rect x="117.91" y="66.67" width="4.99" height="5.00" fill="#656565"/><rect x="122.85" y="66.67" width="4.99" height="5.00" fill="#767676"/><rect x="127.79" y="66.67" width="4.99" height="5.00" fill="#8f8f8f"/><rect x="132.72" y="66.67" width="4.99" height="5.00" fill="#8f8f8f"/><rect x="137.66" y="66.67" width="4.99" height="5.00" fill="#8f8f8f"/><rect x="142.59" y="66.67" width="4.99" height="5.00" fill="#8f8f8f"/><rect x="147.53" y="66.67" width="4.99" height="5.00" fill="#8f8f8f"/><rect x="152.46" y="66.67" width="12.99" height="5.00" fill="#8f8f8f"/><rect x="11.20" y="71.62" width="12.99" height="5.00" fill="#787878"/><rect x="24.14" y="71.62" width="4.99" height="5.00" fill="#656565"/><rect x="29.07" y="71.62" width="4.99" height="5.00" fill="#808080"/><rect x="34.01" y="71.62" width="4.99" height="5.00" fill="#bfbfbf"/><rect x="38.94" y="71.62" width="4.99" height="5.00" fill="#a1a1a1"/><rect x="43.88" y="71.62" width="4.99" height="5.00" fill="#656565"/><rect x="48.81" y="71.62" width="4.99" height="5.00" fill="#4f4f4f"/><rect x="53.75" y="71.62" width="4.99" height="5.00" fill="#656565"/><rect x="58.69" y="71.62" width="4.99" height="5.00" fill="#bfbfbf"/><rect x="63.62" y="71.62" width="4.99" height="5.00" fill="#a1a1a1"/><rect x="68.56" y="71.62" width="4.99" height="5.00" fill="#787878"/><rect x="73.49" y="71.62" width="4.99" height="5.00" fill="#656565"/><rect x="78.43" y="71.62" width="4.99" height="5.00" fill="#656565"/><rect x="83.36" y="71.62" width="4.99" height="5.00" fill="#656565"/><rect x="88.30" y="71.62" width="4.99" height="5.00" fill="#656565"/><rect x="93.24" y="71.62" width="4.99" height="5.00" fill="#787878"/><rect x="98.17" y="71.62" width="4.99" height="5.00" fill="#a1a1a1"/><rect x="103.11" y="71.62" width="4.99" height="5.00" fill="#bfbfbf"/><rect x="108.04" y="71.62" width="4.99" height="5.00" fill="#656565"/><rect x="112.98" y="71.62" width="4.99" height="5.00" fill="#4f4f4f"/><rect x="117.91" y="71.62" width="4.99" height="5.00" fill="#808080"/><rect x="122.85" y="71.62" width="4.99" height="5.00" fill="#777777"/><rect x="127.79" y="71.62" width="4.99" height="5.00" fill="#7f7f7f"/><rect x="132.72" y="71.62" width="4.99" height="5.00" fill="#8f8f8f"/><rect x="137.66" y="71.62" width="4.99" height="5.00" fill="#8f8f8f"/><rect x="142.59" y="71.62" width="4.99" height="5.00" fill="#8f8f8f"/><rect x="147.53" y="71.62" width="4.99" height="5.00" fill="#8f8f8f"/><rect x="152.46" y="71.62" width="12.99" height="5.00" fill="#8f8f8f"/><rect x="11.20" y="76.58" width="12.99" height="5.00" fill="#6b6b6b"/><rect x="24.14" y="76.58" width="4.99" height="5.00" fill="#656565"/><rect x="29.07" y="76.58" width="4.99" height="5.00" fill="#4f4f4f"/><rect x="34.01" y="76.58" width="4.99" height="5.00" fill="#e0e0e0"/><rect x="38.94" y="76.58" width="4.99" height="5.00" fill="#bfbfbf"/><rect x="43.88" y="76.58" width="4.99" height="5.00" fill="#656565"/><rect x="48.81" y="76.58" width="4.99" height="5.00" fill="#4f4f4f"/><rect x="53.75" y="76.58" width="4.99" height="5.00" fill="#656565"/><rect x="58.69" y="76.58" width="4.99" height="5.00" fill="#808080"/><rect x="63.62" y="76.58" width="4.99" height="5.00" fill="#656565"/><rect x="68.56" y="76.58" width="4.99" height="5.00" fill="#656565"/><rect x="73.49" y="76.58" width="4.99" height="5.00" fill="#808080"/><rect x="78.43" y="76.58" width="4.99" height="5.00" fill="#656565"/><rect x="83.36" y="76.58" width="4.99" height="5.00" fill="#656565"/><rect x="88.30" y="76.58" width="4.99" height="5.00" fill="#808080"/><rect x="93.24" y="76.58" width="4.99" height="5.00" fill="#656565"/><rect x="98.17" y="76.58" width="4.99" height="5.00" fill="#a1a1a1"/><rect x="103.11" y="76.58" width="4.99" height="5.00" fill="#bfbfbf"/><rect x="108.04" y="76.58" width="4.99" height="5.00" fill="#656565"/><rect x="112.98" y="76.58" width="4.99" height="5.00" fill="#4f4f4f"/><rect x="117.91" y="76.58" width="4.99" height="5.00" fill="#808080"/><rect x="122.85" y="76.58" width="4.99" height="5.00" fill="#808080"/><rect x="127.79" y="76.58" width="4.99" height="5.00" fill="#7d7d7d"/><rect x="132.72" y="76.58" width="4.99" height="5.00" fill="#828282"/><rect x="137.66" y="76.58" width="4.99" height="5.00" fill="#8f8f8f"/><rect x="142.59" y="76.58" width="4.99" height="5.00" fill="#8f8f8f"/><rect x="147.53" y="76.58" width="4.99" height="5.00" fill="#8f8f8f"/><rect x="152.46" y="76.58" width="12.99" height="5.00" fill="#8f8f8f"/><rect x="11.20" y="81.53" width="12.99" height="5.00" fill="#656565"/><rect x="24.14" y="81.53" width="4.99" height="5.00" fill="#565656"/><rect x="29.07" y="81.53" width="4.99" height="5.00" fill="#4f4f4f"/><rect x="34.01" y="81.53" width="4.99" height="5.00" fill="#cfcfcf"/><rect x="38.94" y="81.53" width="4.99" height="5.00" fill="#e0e0e0"/><rect x="43.88" y="81.53" width="4.99" height="5.00" fill="#4f4f4f"/><rect x="48.81" y="81.53" width="4.99" height="5.00" fill="#656565"/><rect x="53.75" y="81.53" width="4.99" height="5.00" fill="#383838"/><rect x="58.69" y="81.53" width="4.99" height="5.00" fill="#656565"/><rect x="63.62" y="81.53" width="4.99" height="5.00" fill="#808080"/><rect x="68.56" y="81.53" width="4.99" height="5.00" fill="#a1a1a1"/><rect x="73.49" y="81.53" width="4.99" height="5.00" fill="#a1a1a1"/><rect x="78.43" y="81.53" width="4.99" height="5.00" fill="#656565"/><rect x="83.36" y="81.53" width="4.99" height="5.00" fill="#4f4f4f"/><rect x="88.30" y="81.53" width="4.99" height="5.00" fill="#bfbfbf"/><rect x="93.24" y="81.53" width="4.99" height="5.00" fill="#a1a1a1"/><rect x="98.17" y="81.53" width="4.99" height="5.00" fill="#656565"/><rect x="103.11" y="81.53" width="4.99" height="5.00" fill="#a1a1a1"/><rect x="108.04" y="81.53" width="4.99" height="5.00" fill="#656565"/><rect x="112.98" y="81.53" width="4.99" height="5.00" fill="#4f4f4f"/><rect x="117.91" y="81.53" width="4.99" height="5.00" fill="#5b5b5b"/><rect x="122.85" y="81.53" width="4.99" height="5.00" fill="#808080"/><rect x="127.79" y="81.53" width="4.99" height="5.00" fill="#808080"/><rect x="132.72" y="81.53" width="4.99" height="5.00" fill="#7f7f7f"/><rect x="137.66" y="81.53" width="4.99" height="5.00" fill="#848484"/><rect x="142.59" y="81.53" width="4.99" height="5.00" fill="#8f8f8f"/><rect x="147.53" y="81.53" width="4.99" height="5.00" fill="#8f8f8f"/><rect x="152.46" y="81.53" width="12.99" height="5.00" fill="#8f8f8f"/><rect x="11.20" y="86.48" width="12.99" height="5.00" fill="#595959"/><rect x="24.14" y="86.48" width="4.99" height="5.00" fill="#4f4f4f"/><rect x="29.07" y="86.48" width="4.99" height="5.00" fill="#818181"/><rect x="34.01" y="86.48" width="4.99" height="5.00" fill="#656565"/><rect x="38.94" y="86.48" width="4.99" height="5.00" fill="#e0e0e0"/><rect x="43.88" y="86.48" width="4.99" height="5.00" fill="#e0e0e0"/><rect x="48.81" y="86.48" width="4.99" height="5.00" fill="#242424"/><rect x="53.75" y="86.48" width="4.99" height="5.00" fill="#4f4f4f"/><rect x="58.69" y="86.48" width="4.99" height="5.00" fill="#656565"/><rect x="63.62" y="86.48" width="4.99" height="5.00" fill="#a1a1a1"/><rect x="68.56" y="86.48" width="4.99" height="5.00" fill="#bfbfbf"/><rect x="73.49" y="86.48" width="4.99" height="5.00" fill="#cfcfcf"/><rect x="78.43" y="86.48" width="4.99" height="5.00" fill="#656565"/><rect x="83.36" y="86.48" width="4.99" height="5.00" fill="#383838"/><rect x="88.30" y="86.48" width="4.99" height="5.00" fill="#bfbfbf"/><rect x="93.24" y="86.48" width="4.99" height="5.00" fill="#a1a1a1"/><rect x="98.17" y="86.48" width="4.99" height="5.00" fill="#656565"/><rect x="103.11" y="86.48" width="4.99" height="5.00" fill="#656565"/><rect x="108.04" y="86.48" width="4.99" height="5.00" fill="#686868"/><rect x="112.98" y="86.48" width="4.99" height="5.00" fill="#4f4f4f"/><rect x="117.91" y="86.48" width="4.99" height="5.00" fill="#4f4f4f"/><rect x="122.85" y="86.48" width="4.99" height="5.00" fill="#5e5e5e"/><rect x="127.79" y="86.48" width="4.99" height="5.00" fill="#808080"/><rect x="132.72" y="86.48" width="4.99" height="5.00" fill="#808080"/><rect x="137.66" y="86.48" width="4.99" height="5.00" fill="#7f7f7f"/><rect x="142.59" y="86.48" width="4.99" height="5.00" fill="#848484"/><rect x="147.53" y="86.48" width="4.99" height="5.00" fill="#8f8f8f"/><rect x="152.46" y="86.48" width="12.99" height="5.00" fill="#8f8f8f"/><rect x="11.20" y="91.43" width="12.99" height="5.00" fill="#4f4f4f"/><rect x="24.14" y="91.43" width="4.99" height="5.00" fill="#676767"/><rect x="29.07" y="91.43" width="4.99" height="5.00" fill="#656565"/><rect x="34.01" y="91.43" width="4.99" height="5.00" fill="#bdbdbd"/><rect x="38.94" y="91.43" width="4.99" height="5.00" fill="#cfcfcf"/><rect x="43.88" y="91.43" width="4.99" height="5.00" fill="#e0e0e0"/><rect x="48.81" y="91.43" width="4.99" height="5.00" fill="#121212"/><rect x="53.75" y="91.43" width="4.99" height="5.00" fill="#242424"/><rect x="58.69" y="91.43" width="4.99" height="5.00" fill="#bfbfbf"/><rect x="63.62" y="91.43" width="4.99" height="5.00" fill="#cfcfcf"/><rect x="68.56" y="91.43" width="4.99" height="5.00" fill="#e0e0e0"/><rect x="73.49" y="91.43" width="4.99" height="5.00" fill="#e0e0e0"/><rect x="78.43" y="91.43" width="4.99" height="5.00" fill="#242424"/><rect x="83.36" y="91.43" width="4.99" height="5.00" fill="#383838"/><rect x="88.30" y="91.43" width="4.99" height="5.00" fill="#656565"/><rect x="93.24" y="91.43" width="4.99" height="5.00" fill="#808080"/><rect x="98.17" y="91.43" width="4.99" height="5.00" fill="#7a7a7a"/><rect x="103.11" y="91.43" width="4.99" height="5.00" fill="#656565"/><rect x="108.04" y="91.43" width="4.99" height="5.00" fill="#5a5a5a"/><rect x="112.98" y="91.43" width="4.99" height="5.00" fill="#4f4f4f"/><rect x="117.91" y="91.43" width="4.99" height="5.00" fill="#4f4f4f"/><rect x="122.85" y="91.43" width="4.99" height="5.00" fill="#4f4f4f"/><rect x="127.79" y="91.43" width="4.99" height="5.00" fill="#5f5f5f"/><rect x="132.72" y="91.43" width="4.99" height="5.00" fill="#808080"/><rect x="137.66" y="91.43" width="4.99" height="5.00" fill="#808080"/><rect x="142.59" y="91.43" width="4.99" height="5.00" fill="#7f7f7f"/><rect x="147.53" y="91.43" width="4.99" height="5.00" fill="#858585"/><rect x="152.46" y="91.43" width="12.99" height="5.00" fill="#8f8f8f"/><rect x="11.20" y="96.39" width="12.99" height="5.00" fill="#5e5e5e"/><rect x="24.14" y="96.39" width="4.99" height="5.00" fill="#656565"/><rect x="29.07" y="96.39" width="4.99" height="5.00" fill="#a7a7a7"/><rect x="34.01" y="96.39" width="4.99" height="5.00" fill="#cfcfcf"/><rect x="38.94" y="96.39" width="4.99" height="5.00" fill="#e0e0e0"/><rect x="43.88" y="96.39" width="4.99" height="5.00" fill="#a1a1a1"/><rect x="48.81" y="96.39" width="4.99" height="5.00" fill="#121212"/><rect x="53.75" y="96.39" width="4.99" height="5.00" fill="#242424"/><rect x="58.69" y="96.39" width="4.99" height="5.00" fill="#bfbfbf"/><rect x="63.62" y="96.39" width="4.99" height="5.00" fill="#bfbfbf"/><rect x="68.56" y="96.39" width="4.99" height="5.00" fill="#e0e0e0"/><rect x="73.49" y="96.39" width="4.99" height="5.00" fill="#cfcfcf"/><rect x="78.43" y="96.39" width="4.99" height="5.00" fill="#656565"/><rect x="83.36" y="96.39" width="4.99" height="5.00" fill="#242424"/><rect x="88.30" y="96.39" width="4.99" height="5.00" fill="#a1a1a1"/><rect x="93.24" y="96.39" width="4.99" height="5.00" fill="#898989"/><rect x="98.17" y="96.39" width="4.99" height="5.00" fill="#808080"/><rect x="103.11" y="96.39" width="4.99" height="5.00" fill="#6e6e6e"/><rect x="108.04" y="96.39" width="4.99" height="5.00" fill="#5a5a5a"/><rect x="112.98" y="96.39" width="4.99" height="5.00" fill="#535353"/><rect x="117.91" y="96.39" width="4.99" height="5.00" fill="#4f4f4f"/><rect x="122.85" y="96.39" width="4.99" height="5.00" fill="#4f4f4f"/><rect x="127.79" y="96.39" width="4.99" height="5.00" fill="#4f4f4f"/><rect x="132.72" y="96.39" width="4.99" height="5.00" fill="#5f5f5f"/><rect x="137.66" y="96.39" width="4.99" height="5.00" fill="#808080"/><rect x="142.59" y="96.39" width="4.99" height="5.00" fill="#808080"/><rect x="147.53" y="96.39" width="4.99" height="5.00" fill="#7f7f7f"/><rect x="152.46" y="96.39" width="12.99" height="5.00" fill="#858585"/><rect x="11.20" y="101.34" width="12.99" height="5.00" fill="#707070"/><rect x="24.14" y="101.34" width="4.99" height="5.00" fill="#858585"/><rect x="29.07" y="101.34" width="4.99" height="5.00" fill="#a8a8a8"/><rect x="34.01" y="101.34" width="4.99" height="5.00" fill="#acacac"/><rect x="38.94" y="101.34" width="4.99" height="5.00" fill="#bfbfbf"/><rect x="43.88" y="101.34" width="4.99" height="5.00" fill="#656565"/><rect x="48.81" y="101.34" width="4.99" height="5.00" fill="#242424"/><rect x="53.75" y="101.34" width="4.99" height="5.00" fill="#656565"/><rect x="58.69" y="101.34" width="4.99" height="5.00" fill="#bfbfbf"/><rect x="63.62" y="101.34" width="4.99" height="5.00" fill="#bfbfbf"/><rect x="68.56" y="101.34" width="4.99" height="5.00" fill="#656565"/><rect x="73.49" y="101.34" width="4.99" height="5.00" fill="#a1a1a1"/><rect x="78.43" y="101.34" width="4.99" height="5.00" fill="#656565"/><rect x="83.36" y="101.34" width="4.99" height="5.00" fill="#383838"/><rect x="88.30" y="101.34" width="4.99" height="5.00" fill="#a1a1a1"/><rect x="93.24" y="101.34" width="4.99" height="5.00" fill="#a1a1a1"/><rect x="98.17" y="101.34" width="4.99" height="5.00" fill="#939393"/><rect x="103.11" y="101.34" width="4.99" height="5.00" fill="#808080"/><rect x="108.04" y="101.34" width="4.99" height="5.00" fill="#676767"/><rect x="112.98" y="101.34" width="4.99" height="5.00" fill="#545454"/><rect x="117.91" y="101.34" width="4.99" height="5.00" fill="#505050"/><rect x="122.85" y="101.34" width="4.99" height="5.00" fill="#4f4f4f"/><rect x="127.79" y="101.34" width="4.99" height="5.00" fill="#4f4f4f"/><rect x="132.72" y="101.34" width="4.99" height="5.00" fill="#4f4f4f"/><rect x="137.66" y="101.34" width="4.99" height="5.00" fill="#5f5f5f"/><rect x="142.59" y="101.34" width="4.99" height="5.00" fill="#808080"/><rect x="147.53" y="101.34" width="4.99" height="5.00" fill="#808080"/><rect x="152.46" y="101.34" width="12.99" height="5.00" fill="#7f7f7f"/><rect x="11.20" y="106.29" width="12.99" height="5.00" fill="#787878"/><rect x="24.14" y="106.29" width="4.99" height="5.00" fill="#737373"/><rect x="29.07" y="106.29" width="4.99" height="5.00" fill="#7d7d7d"/><rect x="34.01" y="106.29" width="4.99" height="5.00" fill="#7c7c7c"/><rect x="38.94" y="106.29" width="4.99" height="5.00" fill="#656565"/><rect x="43.88" y="106.29" width="4.99" height="5.00" fill="#4f4f4f"/><rect x="48.81" y="106.29" width="4.99" height="5.00" fill="#383838"/><rect x="53.75" y="106.29" width="4.99" height="5.00" fill="#808080"/><rect x="58.69" y="106.29" width="4.99" height="5.00" fill="#b0b0b0"/><rect x="63.62" y="106.29" width="4.99" height="5.00" fill="#a1a1a1"/><rect x="68.56" y="106.29" width="4.99" height="5.00" fill="#656565"/><rect x="73.49" y="106.29" width="4.99" height="5.00" fill="#a1a1a1"/><rect x="78.43" y="106.29" width="4.99" height="5.00" fill="#a1a1a1"/><rect x="83.36" y="106.29" width="4.99" height="5.00" fill="#808080"/><rect x="88.30" y="106.29" width="4.99" height="5.00" fill="#737373"/><rect x="93.24" y="106.29" width="4.99" height="5.00" fill="#a1a1a1"/><rect x="98.17" y="106.29" width="4.99" height="5.00" fill="#a1a1a1"/><rect x="103.11" y="106.29" width="4.99" height="5.00" fill="#959595"/><rect x="108.04" y="106.29" width="4.99" height="5.00" fill="#808080"/><rect x="112.98" y="106.29" width="4.99" height="5.00" fill="#636363"/><rect x="117.91" y="106.29" width="4.99" height="5.00" fill="#515151"/><rect x="122.85" y="106.29" width="4.99" height="5.00" fill="#4f4f4f"/><rect x="127.79" y="106.29" width="4.99" height="5.00" fill="#4f4f4f"/><rect x="132.72" y="106.29" width="4.99" height="5.00" fill="#4f4f4f"/><rect x="137.66" y="106.29" width="4.99" height="5.00" fill="#4f4f4f"/><rect x="142.59" y="106.29" width="4.99" height="5.00" fill="#5f5f5f"/><rect x="147.53" y="106.29" width="4.99" height="5.00" fill="#808080"/><rect x="152.46" y="106.29" width="12.99" height="5.00" fill="#808080"/><rect x="11.20" y="111.24" width="12.99" height="5.00" fill="#7a7a7a"/><rect x="24.14" y="111.24" width="4.99" height="5.00" fill="#787878"/><rect x="29.07" y="111.24" width="4.99" height="5.00" fill="#6e6e6e"/><rect x="34.01" y="111.24" width="4.99" height="5.00" fill="#646464"/><rect x="38.94" y="111.24" width="4.99" height="5.00" fill="#4f4f4f"/><rect x="43.88" y="111.24" width="4.99" height="5.00" fill="#656565"/><rect x="48.81" y="111.24" width="4.99" height="5.00" fill="#656565"/><rect x="53.75" y="111.24" width="4.99" height="5.00" fill="#a1a1a1"/><rect x="58.69" y="111.24" width="4.99" height="5.00" fill="#808080"/><rect x="63.62" y="111.24" width="4.99" height="5.00" fill="#8d8d8d"/><rect x="68.56" y="111.24" width="4.99" height="5.00" fill="#8d8d8d"/><rect x="73.49" y="111.24" width="4.99" height="5.00" fill="#8d8d8d"/><rect x="78.43" y="111.24" width="4.99" height="5.00" fill="#969696"/><rect x="83.36" y="111.24" width="4.99" height="5.00" fill="#909090"/><rect x="88.30" y="111.24" width="4.99" height="5.00" fill="#808080"/><rect x="93.24" y="111.24" width="4.99" height="5.00" fill="#868686"/><rect x="98.17" y="111.24" width="4.99" height="5.00" fill="#a1a1a1"/><rect x="103.11" y="111.24" width="4.99" height="5.00" fill="#a1a1a1"/><rect x="108.04" y="111.24" width="4.99" height="5.00" fill="#959595"/><rect x="112.98" y="111.24" width="4.99" height="5.00" fill="#808080"/><rect x="117.91" y="111.24" width="4.99" height="5.00" fill="#616161"/><rect x="122.85" y="111.24" width="4.99" height="5.00" fill="#505050"/><rect x="127.79" y="111.24" width="4.99" height="5.00" fill="#4f4f4f"/><rect x="132.72" y="111.24" width="4.99" height="5.00" fill="#4f4f4f"/><rect x="137.66" y="111.24" width="4.99" height="5.00" fill="#4f4f4f"/><rect x="142.59" y="111.24" width="4.99" height="5.00" fill="#4f4f4f"/><rect x="147.53" y="111.24" width="4.99" height="5.00" fill="#5f5f5f"/><rect x="152.46" y="111.24" width="12.99" height="5.00" fill="#808080"/><rect x="11.20" y="116.20" width="12.99" height="5.00" fill="#7c7c7c"/><rect x="24.14" y="116.20" width="4.99" height="5.00" fill="#7a7a7a"/><rect x="29.07" y="116.20" width="4.99" height="5.00" fill="#787878"/><rect x="34.01" y="116.20" width="4.99" height="5.00" fill="#656565"/><rect x="38.94" y="116.20" width="4.99" height="5.00" fill="#656565"/><rect x="43.88" y="116.20" width="4.99" height="5.00" fill="#808080"/><rect x="48.81" y="116.20" width="4.99" height="5.00" fill="#808080"/><rect x="53.75" y="116.20" width="4.99" height="5.00" fill="#818181"/><rect x="58.69" y="116.20" width="4.99" height="5.00" fill="#909090"/><rect x="63.62" y="116.20" width="4.99" height="5.00" fill="#808080"/><rect x="68.56" y="116.20" width="4.99" height="5.00" fill="#8a8a8a"/><rect x="73.49" y="116.20" width="4.99" height="5.00" fill="#909090"/><rect x="78.43" y="116.20" width="4.99" height="5.00" fill="#919191"/><rect x="83.36" y="116.20" width="4.99" height="5.00" fill="#8c8c8c"/><rect x="88.30" y="116.20" width="4.99" height="5.00" fill="#888888"/><rect x="93.24" y="116.20" width="4.99" height="5.00" fill="#808080"/><rect x="98.17" y="116.20" width="4.99" height="5.00" fill="#8d8d8d"/><rect x="103.11" y="116.20" width="4.99" height="5.00" fill="#a1a1a1"/><rect x="108.04" y="116.20" width="4.99" height="5.00" fill="#a1a1a1"/><rect x="112.98" y="116.20" width="4.99" height="5.00" fill="#969696"/><rect x="117.91" y="116.20" width="4.99" height="5.00" fill="#808080"/><rect x="122.85" y="116.20" width="4.99" height="5.00" fill="#606060"/><rect x="127.79" y="116.20" width="4.99" height="5.00" fill="#4f4f4f"/><rect x="132.72" y="116.20" width="4.99" height="5.00" fill="#4f4f4f"/><rect x="137.66" y="116.20" width="4.99" height="5.00" fill="#4f4f4f"/><rect x="142.59" y="116.20" width="4.99" height="5.00" fill="#4f4f4f"/><rect x="147.53" y="116.20" width="4.99" height="5.00" fill="#4f4f4f"/><rect x="152.46" y="116.20" width="12.99" height="5.00" fill="#5f5f5f"/><rect x="11.20" y="121.15" width="12.99" height="13.00" fill="#808080"/><rect x="24.14" y="121.15" width="4.99" height="13.00" fill="#787878"/><rect x="29.07" y="121.15" width="4.99" height="13.00" fill="#787878"/><rect x="34.01" y="121.15" width="4.99" height="13.00" fill="#787878"/><rect x="38.94" y="121.15" width="4.99" height="13.00" fill="#808080"/><rect x="43.88" y="121.15" width="4.99" height="13.00" fill="#808080"/><rect x="48.81" y="121.15" width="4.99" height="13.00" fill="#808080"/><rect x="53.75" y="121.15" width="4.99" height="13.00" fill="#808080"/><rect x="58.69" y="121.15" width="4.99" height="13.00" fill="#848484"/><rect x="63.62" y="121.15" width="4.99" height="13.00" fill="#888888"/><rect x="68.56" y="121.15" width="4.99" height="13.00" fill="#808080"/><rect x="73.49" y="121.15" width="4.99" height="13.00" fill="#8a8a8a"/><rect x="78.43" y="121.15" width="4.99" height="13.00" fill="#8f8f8f"/><rect x="83.36" y="121.15" width="4.99" height="13.00" fill="#8c8c8c"/><rect x="88.30" y="121.15" width="4.99" height="13.00" fill="#878787"/><rect x="93.24" y="121.15" width="4.99" height="13.00" fill="#848484"/><rect x="98.17" y="121.15" width="4.99" height="13.00" fill="#808080"/><rect x="103.11" y="121.15" width="4.99" height="13.00" fill="#8f8f8f"/><rect x="108.04" y="121.15" width="4.99" height="13.00" fill="#a1a1a1"/><rect x="112.98" y="121.15" width="4.99" height="13.00" fill="#a1a1a1"/><rect x="117.91" y="121.15" width="4.99" height="13.00" fill="#929292"/><rect x="122.85" y="121.15" width="4.99" height="13.00" fill="#808080"/><rect x="127.79" y="121.15" width="4.99" height="13.00" fill="#5f5f5f"/><rect x="132.72" y="121.15" width="4.99" height="13.00" fill="#4f4f4f"/><rect x="137.66" y="121.15" width="4.99" height="13.00" fill="#4f4f4f"/><rect x="142.59" y="121.15" width="4.99" height="13.00" fill="#4f4f4f"/><rect x="147.53" y="121.15" width="4.99" height="13.00" fill="#4f4f4f"/><rect x="152.46" y="121.15" width="12.99" height="13.00" fill="#4f4f4f"/></g><g fill="none" stroke="#000" stroke-width="1.65" stroke-dasharray="0 2.05" stroke-linecap="round" stroke-linejoin="round" opacity="0.85"><polyline points="45.7,47.0 49.0,45.3 54.0,42.0 57.3,38.6 59.0,37.8"/><polyline points="49.0,47.0 55.7,47.8 60.7,48.6 64.0,50.3"/><polyline points="60.7,48.6 60.7,55.3 62.3,62.0 65.7,65.3 69.0,63.6 71.5,58.6 70.7,53.6 67.3,52.0 64.0,52.0"/><polyline points="71.5,58.6 75.7,57.0 80.7,53.6 84.0,50.3 89.0,48.6 92.3,47.0 94.0,43.6 95.7,42.0 99.0,43.6 99.0,47.0 95.7,48.6 92.3,48.6"/><polyline points="89.0,48.6 90.7,55.3 89.0,62.0 87.3,68.6 85.7,75.3"/><polyline points="92.3,55.3 97.3,56.1 102.3,55.3 105.7,53.6"/><polyline points="99.0,25.3 100.7,30.3 102.3,35.3 104.0,42.0 104.8,47.0 108.0,52.3 110.2,50.1 112.0,57.3"/><polyline points="103.0,53.3 106.0,57.3 103.0,61.3 108.0,63.3 105.0,67.3 110.0,66.3 112.0,61.3 109.0,58.3"/><polyline points="39.0,53.6 42.3,58.6 45.7,63.6"/><polyline points="52.3,58.6 55.7,63.6 57.3,68.6 59.0,75.3"/><polyline points="113.8,28.5 117.4,35.7 121.0,41.1 122.8,46.5 123.7,53.7 122.8,60.9 121.9,68.1"/><polyline points="126.4,21.3 127.3,26.7 124.6,33.9"/><polyline points="121.0,39.3 126.4,37.5 130.0,33.9 133.6,32.1 137.2,28.5"/><polyline points="44.3,54.2 51.9,44.0"/><polyline points="27.9,75.1 31.7,73.2 35.6,71.2"/><polyline points="45.3,69.3 47.2,75.1 51.1,80.9 56.9,82.8 60.8,79.0 62.7,73.2 64.6,69.3"/><polyline points="64.6,69.3 68.5,77.0 74.3,80.9 80.1,79.0 84.0,80.9"/><polyline points="56.9,100.3 58.8,108.0 56.9,115.7 53.0,121.5 49.1,127.3"/><polyline points="58.8,100.3 64.6,98.3 70.4,102.2 76.2,100.3 82.0,96.4"/><polyline points="35.6,108.0 39.5,113.8 41.4,119.6"/><polyline points="86.7,74.6 89.3,77.3 88.0,81.3 86.7,85.3 89.3,89.3 94.7,92.0 98.7,89.3 98.0,84.0 96.0,80.0 93.3,77.3 89.0,74.3"/><polyline points="100.0,70.6 99.3,76.0 101.3,82.6 104.0,85.3 108.0,84.0 110.7,80.0 110.7,74.6 108.7,70.6"/><polyline points="76.0,84.0 78.7,86.6 80.0,92.0 81.3,97.3 84.0,101.3 88.0,104.0 92.0,105.3"/><polyline points="116.0,69.3 118.7,74.6 121.3,77.3"/><polyline points="40.0,115.3 46.0,112.3 50.0,117.3"/><polyline points="26.0,123.3 32.0,119.3 38.0,121.3 44.0,118.3 50.0,122.3"/><polyline points="28.0,117.3 33.0,113.3 37.0,109.3"/><polyline points="50.0,37.3 54.0,33.3 60.0,31.3 66.0,32.3"/><polyline points="80.0,53.3 82.0,59.3 84.0,65.3 82.0,71.3"/><polyline points="64.0,52.3 62.0,43.3 66.0,37.3"/></g><use href="#landall"/><g stroke="#a8a8a8" stroke-opacity="0.5" stroke-width="0.5" mask="url(#lmask)"><line x1="19.2" y1="117.6" x2="157.39999999999998" y2="117.6"/><line x1="19.2" y1="107.9" x2="157.39999999999998" y2="107.9"/><line x1="19.2" y1="98.3" x2="157.39999999999998" y2="98.3"/><line x1="19.2" y1="88.6" x2="157.39999999999998" y2="88.6"/><line x1="19.2" y1="78.9" x2="157.39999999999998" y2="78.9"/><line x1="19.2" y1="69.2" x2="157.39999999999998" y2="69.2"/><line x1="19.2" y1="59.5" x2="157.39999999999998" y2="59.5"/><line x1="19.2" y1="49.9" x2="157.39999999999998" y2="49.9"/><line x1="19.2" y1="40.2" x2="157.39999999999998" y2="40.2"/><line x1="19.2" y1="30.5" x2="157.39999999999998" y2="30.5"/><line x1="27.0" y1="22.1" x2="27.0" y2="126.1"/><line x1="43.4" y1="22.1" x2="43.4" y2="126.1"/><line x1="59.7" y1="22.1" x2="59.7" y2="126.1"/><line x1="76.1" y1="22.1" x2="76.1" y2="126.1"/><line x1="92.4" y1="22.1" x2="92.4" y2="126.1"/><line x1="108.8" y1="22.1" x2="108.8" y2="126.1"/><line x1="125.2" y1="22.1" x2="125.2" y2="126.1"/><line x1="141.5" y1="22.1" x2="141.5" y2="126.1"/></g><g fill="none" stroke="#fff" stroke-width="0.6" stroke-dasharray="2.2 1.6" opacity="0.6"><rect x="24" y="56.5" width="28.8" height="36"/><rect x="52.8" y="56.5" width="62.8" height="26"/></g></g><g stroke="#222" stroke-width="0.5"><line x1="19.2" y1="117.6" x2="20.5" y2="117.6"/><line x1="157.39999999999998" y1="117.6" x2="156.09999999999997" y2="117.6"/><line x1="19.2" y1="107.9" x2="20.5" y2="107.9"/><line x1="157.39999999999998" y1="107.9" x2="156.09999999999997" y2="107.9"/><line x1="19.2" y1="98.3" x2="20.5" y2="98.3"/><line x1="157.39999999999998" y1="98.3" x2="156.09999999999997" y2="98.3"/><line x1="19.2" y1="88.6" x2="20.5" y2="88.6"/><line x1="157.39999999999998" y1="88.6" x2="156.09999999999997" y2="88.6"/><line x1="19.2" y1="78.9" x2="20.5" y2="78.9"/><line x1="157.39999999999998" y1="78.9" x2="156.09999999999997" y2="78.9"/><line x1="19.2" y1="69.2" x2="20.5" y2="69.2"/><line x1="157.39999999999998" y1="69.2" x2="156.09999999999997" y2="69.2"/><line x1="19.2" y1="59.5" x2="20.5" y2="59.5"/><line x1="157.39999999999998" y1="59.5" x2="156.09999999999997" y2="59.5"/><line x1="19.2" y1="49.9" x2="20.5" y2="49.9"/><line x1="157.39999999999998" y1="49.9" x2="156.09999999999997" y2="49.9"/><line x1="19.2" y1="40.2" x2="20.5" y2="40.2"/><line x1="157.39999999999998" y1="40.2" x2="156.09999999999997" y2="40.2"/><line x1="19.2" y1="30.5" x2="20.5" y2="30.5"/><line x1="157.39999999999998" y1="30.5" x2="156.09999999999997" y2="30.5"/><line x1="27.0" y1="22.1" x2="27.0" y2="23.400000000000002"/><line x1="27.0" y1="126.1" x2="27.0" y2="124.8"/><line x1="43.4" y1="22.1" x2="43.4" y2="23.400000000000002"/><line x1="43.4" y1="126.1" x2="43.4" y2="124.8"/><line x1="59.7" y1="22.1" x2="59.7" y2="23.400000000000002"/><line x1="59.7" y1="126.1" x2="59.7" y2="124.8"/><line x1="76.1" y1="22.1" x2="76.1" y2="23.400000000000002"/><line x1="76.1" y1="126.1" x2="76.1" y2="124.8"/><line x1="92.4" y1="22.1" x2="92.4" y2="23.400000000000002"/><line x1="92.4" y1="126.1" x2="92.4" y2="124.8"/><line x1="108.8" y1="22.1" x2="108.8" y2="23.400000000000002"/><line x1="108.8" y1="126.1" x2="108.8" y2="124.8"/><line x1="125.2" y1="22.1" x2="125.2" y2="23.400000000000002"/><line x1="125.2" y1="126.1" x2="125.2" y2="124.8"/><line x1="141.5" y1="22.1" x2="141.5" y2="23.400000000000002"/><line x1="141.5" y1="126.1" x2="141.5" y2="124.8"/></g><rect x="19.2" y="22.1" width="138.2" height="104.0" fill="none" stroke="#333" stroke-width="0.5"/><text x="17.6" y="119.4" class="tk" text-anchor="end">35</text><text x="17.6" y="109.7" class="tk" text-anchor="end">36</text><text x="17.6" y="100.1" class="tk" text-anchor="end">37</text><text x="17.6" y="90.4" class="tk" text-anchor="end">38</text><text x="17.6" y="80.7" class="tk" text-anchor="end">39</text><text x="17.6" y="71.0" class="tk" text-anchor="end">40</text><text x="17.6" y="61.3" class="tk" text-anchor="end">41</text><text x="17.6" y="51.7" class="tk" text-anchor="end">42</text><text x="17.6" y="42.0" class="tk" text-anchor="end">43</text><text x="17.6" y="32.3" class="tk" text-anchor="end">44</text><text x="27.0" y="133.0" class="tk" text-anchor="middle">128</text><text x="43.4" y="133.0" class="tk" text-anchor="middle">130</text><text x="59.7" y="133.0" class="tk" text-anchor="middle">132</text><text x="76.1" y="133.0" class="tk" text-anchor="middle">134</text><text x="92.4" y="133.0" class="tk" text-anchor="middle">136</text><text x="108.8" y="133.0" class="tk" text-anchor="middle">138</text><text x="125.2" y="133.0" class="tk" text-anchor="middle">140</text><text x="141.5" y="133.0" class="tk" text-anchor="middle">142</text><text x="88.3" y="140.3" class="al" text-anchor="middle">Longitude (°E)</text><text transform="translate(10.2 74.1) rotate(-90)" class="al" text-anchor="middle">Latitude (°N)</text><rect x="158.9" y="22.1" width="3.0" height="104.0" fill="url(#jetgrad)"/><rect x="158.9" y="22.1" width="3.0" height="104.0" fill="none" stroke="#333" stroke-width="0.3"/><text x="164" y="110.5" class="tk">-10</text><line x1="161.1" y1="108.8" x2="161.9" y2="108.8" stroke="#333" stroke-width="0.3"/><text x="164" y="93.1" class="tk">-5</text><line x1="161.1" y1="91.4" x2="161.9" y2="91.4" stroke="#333" stroke-width="0.3"/><text x="164" y="75.8" class="tk">0</text><line x1="161.1" y1="74.1" x2="161.9" y2="74.1" stroke="#333" stroke-width="0.3"/><text x="164" y="58.5" class="tk">5</text><line x1="161.1" y1="56.8" x2="161.9" y2="56.8" stroke="#333" stroke-width="0.3"/><text x="164" y="41.1" class="tk">10</text><line x1="161.1" y1="39.4" x2="161.9" y2="39.4" stroke="#333" stroke-width="0.3"/><text x="164" y="23.8" class="tk">15</text><line x1="161.1" y1="22.1" x2="161.9" y2="22.1" stroke="#333" stroke-width="0.3"/><text transform="translate(173.9 74.1) rotate(-90)" text-anchor="middle" class="cbl">[cm/s / Decade]</text></g><g transform="translate(372.3 152.7)"><text x="9.8" y="12.4" class="pl">(F)</text><text x="88.3" y="20.1" class="ti" text-anchor="middle">Linear Trend of VA (2008 ~ 2023)</text><g clip-path="url(#mapclip)"><g filter="url(#jet)"><rect x="11.20" y="14.10" width="12.99" height="13.00" fill="#a1a1a1"/><rect x="24.14" y="14.10" width="4.99" height="13.00" fill="#a1a1a1"/><rect x="29.07" y="14.10" width="4.99" height="13.00" fill="#a1a1a1"/><rect x="34.01" y="14.10" width="4.99" height="13.00" fill="#a1a1a1"/><rect x="38.94" y="14.10" width="4.99" height="13.00" fill="#a1a1a1"/><rect x="43.88" y="14.10" width="4.99" height="13.00" fill="#a1a1a1"/><rect x="48.81" y="14.10" width="4.99" height="13.00" fill="#a1a1a1"/><rect x="53.75" y="14.10" width="4.99" height="13.00" fill="#a1a1a1"/><rect x="58.69" y="14.10" width="4.99" height="13.00" fill="#a1a1a1"/><rect x="63.62" y="14.10" width="4.99" height="13.00" fill="#a1a1a1"/><rect x="68.56" y="14.10" width="4.99" height="13.00" fill="#a1a1a1"/><rect x="73.49" y="14.10" width="4.99" height="13.00" fill="#a1a1a1"/><rect x="78.43" y="14.10" width="4.99" height="13.00" fill="#a1a1a1"/><rect x="83.36" y="14.10" width="4.99" height="13.00" fill="#a1a1a1"/><rect x="88.30" y="14.10" width="4.99" height="13.00" fill="#a1a1a1"/><rect x="93.24" y="14.10" width="4.99" height="13.00" fill="#a1a1a1"/><rect x="98.17" y="14.10" width="4.99" height="13.00" fill="#a1a1a1"/><rect x="103.11" y="14.10" width="4.99" height="13.00" fill="#a1a1a1"/><rect x="108.04" y="14.10" width="4.99" height="13.00" fill="#b0b0b0"/><rect x="112.98" y="14.10" width="4.99" height="13.00" fill="#bfbfbf"/><rect x="117.91" y="14.10" width="4.99" height="13.00" fill="#808080"/><rect x="122.85" y="14.10" width="4.99" height="13.00" fill="#787878"/><rect x="127.79" y="14.10" width="4.99" height="13.00" fill="#b0b0b0"/><rect x="132.72" y="14.10" width="4.99" height="13.00" fill="#bfbfbf"/><rect x="137.66" y="14.10" width="4.99" height="13.00" fill="#b8b8b8"/><rect x="142.59" y="14.10" width="4.99" height="13.00" fill="#b8b8b8"/><rect x="147.53" y="14.10" width="4.99" height="13.00" fill="#b6b6b6"/><rect x="152.46" y="14.10" width="12.99" height="13.00" fill="#b6b6b6"/><rect x="11.20" y="27.05" width="12.99" height="5.00" fill="#b0b0b0"/><rect x="24.14" y="27.05" width="4.99" height="5.00" fill="#a1a1a1"/><rect x="29.07" y="27.05" width="4.99" height="5.00" fill="#a0a0a0"/><rect x="34.01" y="27.05" width="4.99" height="5.00" fill="#a1a1a1"/><rect x="38.94" y="27.05" width="4.99" height="5.00" fill="#a1a1a1"/><rect x="43.88" y="27.05" width="4.99" height="5.00" fill="#a1a1a1"/><rect x="48.81" y="27.05" width="4.99" height="5.00" fill="#a1a1a1"/><rect x="53.75" y="27.05" width="4.99" height="5.00" fill="#a1a1a1"/><rect x="58.69" y="27.05" width="4.99" height="5.00" fill="#a1a1a1"/><rect x="63.62" y="27.05" width="4.99" height="5.00" fill="#a1a1a1"/><rect x="68.56" y="27.05" width="4.99" height="5.00" fill="#a1a1a1"/><rect x="73.49" y="27.05" width="4.99" height="5.00" fill="#a1a1a1"/><rect x="78.43" y="27.05" width="4.99" height="5.00" fill="#a1a1a1"/><rect x="83.36" y="27.05" width="4.99" height="5.00" fill="#a1a1a1"/><rect x="88.30" y="27.05" width="4.99" height="5.00" fill="#a1a1a1"/><rect x="93.24" y="27.05" width="4.99" height="5.00" fill="#a1a1a1"/><rect x="98.17" y="27.05" width="4.99" height="5.00" fill="#a1a1a1"/><rect x="103.11" y="27.05" width="4.99" height="5.00" fill="#a1a1a1"/><rect x="108.04" y="27.05" width="4.99" height="5.00" fill="#b0b0b0"/><rect x="112.98" y="27.05" width="4.99" height="5.00" fill="#bfbfbf"/><rect x="117.91" y="27.05" width="4.99" height="5.00" fill="#8f8f8f"/><rect x="122.85" y="27.05" width="4.99" height="5.00" fill="#787878"/><rect x="127.79" y="27.05" width="4.99" height="5.00" fill="#a1a1a1"/><rect x="132.72" y="27.05" width="4.99" height="5.00" fill="#b0b0b0"/><rect x="137.66" y="27.05" width="4.99" height="5.00" fill="#b8b8b8"/><rect x="142.59" y="27.05" width="4.99" height="5.00" fill="#b5b5b5"/><rect x="147.53" y="27.05" width="4.99" height="5.00" fill="#b5b5b5"/><rect x="152.46" y="27.05" width="12.99" height="5.00" fill="#b5b5b5"/><rect x="11.20" y="32.00" width="12.99" height="5.00" fill="#bfbfbf"/><rect x="24.14" y="32.00" width="4.99" height="5.00" fill="#b0b0b0"/><rect x="29.07" y="32.00" width="4.99" height="5.00" fill="#a1a1a1"/><rect x="34.01" y="32.00" width="4.99" height="5.00" fill="#a0a0a0"/><rect x="38.94" y="32.00" width="4.99" height="5.00" fill="#a1a1a1"/><rect x="43.88" y="32.00" width="4.99" height="5.00" fill="#a1a1a1"/><rect x="48.81" y="32.00" width="4.99" height="5.00" fill="#a1a1a1"/><rect x="53.75" y="32.00" width="4.99" height="5.00" fill="#a1a1a1"/><rect x="58.69" y="32.00" width="4.99" height="5.00" fill="#a1a1a1"/><rect x="63.62" y="32.00" width="4.99" height="5.00" fill="#a1a1a1"/><rect x="68.56" y="32.00" width="4.99" height="5.00" fill="#a1a1a1"/><rect x="73.49" y="32.00" width="4.99" height="5.00" fill="#a1a1a1"/><rect x="78.43" y="32.00" width="4.99" height="5.00" fill="#a1a1a1"/><rect x="83.36" y="32.00" width="4.99" height="5.00" fill="#a1a1a1"/><rect x="88.30" y="32.00" width="4.99" height="5.00" fill="#a1a1a1"/><rect x="93.24" y="32.00" width="4.99" height="5.00" fill="#8f8f8f"/><rect x="98.17" y="32.00" width="4.99" height="5.00" fill="#a1a1a1"/><rect x="103.11" y="32.00" width="4.99" height="5.00" fill="#a1a1a1"/><rect x="108.04" y="32.00" width="4.99" height="5.00" fill="#b0b0b0"/><rect x="112.98" y="32.00" width="4.99" height="5.00" fill="#a1a1a1"/><rect x="117.91" y="32.00" width="4.99" height="5.00" fill="#808080"/><rect x="122.85" y="32.00" width="4.99" height="5.00" fill="#787878"/><rect x="127.79" y="32.00" width="4.99" height="5.00" fill="#a1a1a1"/><rect x="132.72" y="32.00" width="4.99" height="5.00" fill="#a6a6a6"/><rect x="137.66" y="32.00" width="4.99" height="5.00" fill="#b0b0b0"/><rect x="142.59" y="32.00" width="4.99" height="5.00" fill="#b4b4b4"/><rect x="147.53" y="32.00" width="4.99" height="5.00" fill="#b3b3b3"/><rect x="152.46" y="32.00" width="12.99" height="5.00" fill="#b3b3b3"/><rect x="11.20" y="36.96" width="12.99" height="5.00" fill="#bfbfbf"/><rect x="24.14" y="36.96" width="4.99" height="5.00" fill="#bfbfbf"/><rect x="29.07" y="36.96" width="4.99" height="5.00" fill="#b1b1b1"/><rect x="34.01" y="36.96" width="4.99" height="5.00" fill="#a1a1a1"/><rect x="38.94" y="36.96" width="4.99" height="5.00" fill="#9f9f9f"/><rect x="43.88" y="36.96" width="4.99" height="5.00" fill="#a1a1a1"/><rect x="48.81" y="36.96" width="4.99" height="5.00" fill="#a1a1a1"/><rect x="53.75" y="36.96" width="4.99" height="5.00" fill="#a1a1a1"/><rect x="58.69" y="36.96" width="4.99" height="5.00" fill="#a1a1a1"/><rect x="63.62" y="36.96" width="4.99" height="5.00" fill="#a1a1a1"/><rect x="68.56" y="36.96" width="4.99" height="5.00" fill="#a1a1a1"/><rect x="73.49" y="36.96" width="4.99" height="5.00" fill="#a1a1a1"/><rect x="78.43" y="36.96" width="4.99" height="5.00" fill="#a1a1a1"/><rect x="83.36" y="36.96" width="4.99" height="5.00" fill="#a1a1a1"/><rect x="88.30" y="36.96" width="4.99" height="5.00" fill="#a1a1a1"/><rect x="93.24" y="36.96" width="4.99" height="5.00" fill="#8f8f8f"/><rect x="98.17" y="36.96" width="4.99" height="5.00" fill="#8f8f8f"/><rect x="103.11" y="36.96" width="4.99" height="5.00" fill="#8f8f8f"/><rect x="108.04" y="36.96" width="4.99" height="5.00" fill="#a1a1a1"/><rect x="112.98" y="36.96" width="4.99" height="5.00" fill="#a1a1a1"/><rect x="117.91" y="36.96" width="4.99" height="5.00" fill="#808080"/><rect x="122.85" y="36.96" width="4.99" height="5.00" fill="#787878"/><rect x="127.79" y="36.96" width="4.99" height="5.00" fill="#858585"/><rect x="132.72" y="36.96" width="4.99" height="5.00" fill="#a1a1a1"/><rect x="137.66" y="36.96" width="4.99" height="5.00" fill="#a7a7a7"/><rect x="142.59" y="36.96" width="4.99" height="5.00" fill="#b0b0b0"/><rect x="147.53" y="36.96" width="4.99" height="5.00" fill="#b2b2b2"/><rect x="152.46" y="36.96" width="12.99" height="5.00" fill="#b2b2b2"/><rect x="11.20" y="41.91" width="12.99" height="5.00" fill="#b5b5b5"/><rect x="24.14" y="41.91" width="4.99" height="5.00" fill="#bfbfbf"/><rect x="29.07" y="41.91" width="4.99" height="5.00" fill="#bfbfbf"/><rect x="34.01" y="41.91" width="4.99" height="5.00" fill="#b3b3b3"/><rect x="38.94" y="41.91" width="4.99" height="5.00" fill="#a1a1a1"/><rect x="43.88" y="41.91" width="4.99" height="5.00" fill="#9b9b9b"/><rect x="48.81" y="41.91" width="4.99" height="5.00" fill="#a1a1a1"/><rect x="53.75" y="41.91" width="4.99" height="5.00" fill="#a1a1a1"/><rect x="58.69" y="41.91" width="4.99" height="5.00" fill="#a1a1a1"/><rect x="63.62" y="41.91" width="4.99" height="5.00" fill="#a1a1a1"/><rect x="68.56" y="41.91" width="4.99" height="5.00" fill="#a1a1a1"/><rect x="73.49" y="41.91" width="4.99" height="5.00" fill="#a1a1a1"/><rect x="78.43" y="41.91" width="4.99" height="5.00" fill="#a1a1a1"/><rect x="83.36" y="41.91" width="4.99" height="5.00" fill="#a1a1a1"/><rect x="88.30" y="41.91" width="4.99" height="5.00" fill="#a1a1a1"/><rect x="93.24" y="41.91" width="4.99" height="5.00" fill="#8f8f8f"/><rect x="98.17" y="41.91" width="4.99" height="5.00" fill="#8f8f8f"/><rect x="103.11" y="41.91" width="4.99" height="5.00" fill="#8f8f8f"/><rect x="108.04" y="41.91" width="4.99" height="5.00" fill="#a1a1a1"/><rect x="112.98" y="41.91" width="4.99" height="5.00" fill="#a1a1a1"/><rect x="117.91" y="41.91" width="4.99" height="5.00" fill="#8f8f8f"/><rect x="122.85" y="41.91" width="4.99" height="5.00" fill="#858585"/><rect x="127.79" y="41.91" width="4.99" height="5.00" fill="#787878"/><rect x="132.72" y="41.91" width="4.99" height="5.00" fill="#8a8a8a"/><rect x="137.66" y="41.91" width="4.99" height="5.00" fill="#a1a1a1"/><rect x="142.59" y="41.91" width="4.99" height="5.00" fill="#a8a8a8"/><rect x="147.53" y="41.91" width="4.99" height="5.00" fill="#b0b0b0"/><rect x="152.46" y="41.91" width="12.99" height="5.00" fill="#b1b1b1"/><rect x="11.20" y="46.86" width="12.99" height="5.00" fill="#a1a1a1"/><rect x="24.14" y="46.86" width="4.99" height="5.00" fill="#b5b5b5"/><rect x="29.07" y="46.86" width="4.99" height="5.00" fill="#bfbfbf"/><rect x="34.01" y="46.86" width="4.99" height="5.00" fill="#bfbfbf"/><rect x="38.94" y="46.86" width="4.99" height="5.00" fill="#bababa"/><rect x="43.88" y="46.86" width="4.99" height="5.00" fill="#a1a1a1"/><rect x="48.81" y="46.86" width="4.99" height="5.00" fill="#8f8f8f"/><rect x="53.75" y="46.86" width="4.99" height="5.00" fill="#8f8f8f"/><rect x="58.69" y="46.86" width="4.99" height="5.00" fill="#8f8f8f"/><rect x="63.62" y="46.86" width="4.99" height="5.00" fill="#8f8f8f"/><rect x="68.56" y="46.86" width="4.99" height="5.00" fill="#8f8f8f"/><rect x="73.49" y="46.86" width="4.99" height="5.00" fill="#a1a1a1"/><rect x="78.43" y="46.86" width="4.99" height="5.00" fill="#a1a1a1"/><rect x="83.36" y="46.86" width="4.99" height="5.00" fill="#a1a1a1"/><rect x="88.30" y="46.86" width="4.99" height="5.00" fill="#a1a1a1"/><rect x="93.24" y="46.86" width="4.99" height="5.00" fill="#a1a1a1"/><rect x="98.17" y="46.86" width="4.99" height="5.00" fill="#a1a1a1"/><rect x="103.11" y="46.86" width="4.99" height="5.00" fill="#8f8f8f"/><rect x="108.04" y="46.86" width="4.99" height="5.00" fill="#8f8f8f"/><rect x="112.98" y="46.86" width="4.99" height="5.00" fill="#8f8f8f"/><rect x="117.91" y="46.86" width="4.99" height="5.00" fill="#8f8f8f"/><rect x="122.85" y="46.86" width="4.99" height="5.00" fill="#8f8f8f"/><rect x="127.79" y="46.86" width="4.99" height="5.00" fill="#969696"/><rect x="132.72" y="46.86" width="4.99" height="5.00" fill="#a3a3a3"/><rect x="137.66" y="46.86" width="4.99" height="5.00" fill="#a8a8a8"/><rect x="142.59" y="46.86" width="4.99" height="5.00" fill="#a1a1a1"/><rect x="147.53" y="46.86" width="4.99" height="5.00" fill="#a8a8a8"/><rect x="152.46" y="46.86" width="12.99" height="5.00" fill="#b0b0b0"/><rect x="11.20" y="51.81" width="12.99" height="5.00" fill="#838383"/><rect x="24.14" y="51.81" width="4.99" height="5.00" fill="#a1a1a1"/><rect x="29.07" y="51.81" width="4.99" height="5.00" fill="#b6b6b6"/><rect x="34.01" y="51.81" width="4.99" height="5.00" fill="#bfbfbf"/><rect x="38.94" y="51.81" width="4.99" height="5.00" fill="#bfbfbf"/><rect x="43.88" y="51.81" width="4.99" height="5.00" fill="#cfcfcf"/><rect x="48.81" y="51.81" width="4.99" height="5.00" fill="#a1a1a1"/><rect x="53.75" y="51.81" width="4.99" height="5.00" fill="#8f8f8f"/><rect x="58.69" y="51.81" width="4.99" height="5.00" fill="#8f8f8f"/><rect x="63.62" y="51.81" width="4.99" height="5.00" fill="#8f8f8f"/><rect x="68.56" y="51.81" width="4.99" height="5.00" fill="#8f8f8f"/><rect x="73.49" y="51.81" width="4.99" height="5.00" fill="#a1a1a1"/><rect x="78.43" y="51.81" width="4.99" height="5.00" fill="#a1a1a1"/><rect x="83.36" y="51.81" width="4.99" height="5.00" fill="#a1a1a1"/><rect x="88.30" y="51.81" width="4.99" height="5.00" fill="#a1a1a1"/><rect x="93.24" y="51.81" width="4.99" height="5.00" fill="#b0b0b0"/><rect x="98.17" y="51.81" width="4.99" height="5.00" fill="#b0b0b0"/><rect x="103.11" y="51.81" width="4.99" height="5.00" fill="#a1a1a1"/><rect x="108.04" y="51.81" width="4.99" height="5.00" fill="#bfbfbf"/><rect x="112.98" y="51.81" width="4.99" height="5.00" fill="#cfcfcf"/><rect x="117.91" y="51.81" width="4.99" height="5.00" fill="#8f8f8f"/><rect x="122.85" y="51.81" width="4.99" height="5.00" fill="#949494"/><rect x="127.79" y="51.81" width="4.99" height="5.00" fill="#cfcfcf"/><rect x="132.72" y="51.81" width="4.99" height="5.00" fill="#d3d3d3"/><rect x="137.66" y="51.81" width="4.99" height="5.00" fill="#c4c4c4"/><rect x="142.59" y="51.81" width="4.99" height="5.00" fill="#b9b9b9"/><rect x="147.53" y="51.81" width="4.99" height="5.00" fill="#a1a1a1"/><rect x="152.46" y="51.81" width="12.99" height="5.00" fill="#a8a8a8"/><rect x="11.20" y="56.77" width="12.99" height="5.00" fill="#656565"/><rect x="24.14" y="56.77" width="4.99" height="5.00" fill="#828282"/><rect x="29.07" y="56.77" width="4.99" height="5.00" fill="#a1a1a1"/><rect x="34.01" y="56.77" width="4.99" height="5.00" fill="#b8b8b8"/><rect x="38.94" y="56.77" width="4.99" height="5.00" fill="#bfbfbf"/><rect x="43.88" y="56.77" width="4.99" height="5.00" fill="#cfcfcf"/><rect x="48.81" y="56.77" width="4.99" height="5.00" fill="#e0e0e0"/><rect x="53.75" y="56.77" width="4.99" height="5.00" fill="#656565"/><rect x="58.69" y="56.77" width="4.99" height="5.00" fill="#656565"/><rect x="63.62" y="56.77" width="4.99" height="5.00" fill="#8f8f8f"/><rect x="68.56" y="56.77" width="4.99" height="5.00" fill="#8f8f8f"/><rect x="73.49" y="56.77" width="4.99" height="5.00" fill="#a1a1a1"/><rect x="78.43" y="56.77" width="4.99" height="5.00" fill="#a1a1a1"/><rect x="83.36" y="56.77" width="4.99" height="5.00" fill="#a1a1a1"/><rect x="88.30" y="56.77" width="4.99" height="5.00" fill="#8f8f8f"/><rect x="93.24" y="56.77" width="4.99" height="5.00" fill="#a1a1a1"/><rect x="98.17" y="56.77" width="4.99" height="5.00" fill="#a1a1a1"/><rect x="103.11" y="56.77" width="4.99" height="5.00" fill="#b0b0b0"/><rect x="108.04" y="56.77" width="4.99" height="5.00" fill="#bfbfbf"/><rect x="112.98" y="56.77" width="4.99" height="5.00" fill="#808080"/><rect x="117.91" y="56.77" width="4.99" height="5.00" fill="#656565"/><rect x="122.85" y="56.77" width="4.99" height="5.00" fill="#cfcfcf"/><rect x="127.79" y="56.77" width="4.99" height="5.00" fill="#d7d7d7"/><rect x="132.72" y="56.77" width="4.99" height="5.00" fill="#d5d5d5"/><rect x="137.66" y="56.77" width="4.99" height="5.00" fill="#d7d7d7"/><rect x="142.59" y="56.77" width="4.99" height="5.00" fill="#d2d2d2"/><rect x="147.53" y="56.77" width="4.99" height="5.00" fill="#c1c1c1"/><rect x="152.46" y="56.77" width="12.99" height="5.00" fill="#a1a1a1"/><rect x="11.20" y="61.72" width="12.99" height="5.00" fill="#8a8a8a"/><rect x="24.14" y="61.72" width="4.99" height="5.00" fill="#656565"/><rect x="29.07" y="61.72" width="4.99" height="5.00" fill="#828282"/><rect x="34.01" y="61.72" width="4.99" height="5.00" fill="#a1a1a1"/><rect x="38.94" y="61.72" width="4.99" height="5.00" fill="#bfbfbf"/><rect x="43.88" y="61.72" width="4.99" height="5.00" fill="#e0e0e0"/><rect x="48.81" y="61.72" width="4.99" height="5.00" fill="#f2f2f2"/><rect x="53.75" y="61.72" width="4.99" height="5.00" fill="#4f4f4f"/><rect x="58.69" y="61.72" width="4.99" height="5.00" fill="#242424"/><rect x="63.62" y="61.72" width="4.99" height="5.00" fill="#b0b0b0"/><rect x="68.56" y="61.72" width="4.99" height="5.00" fill="#bfbfbf"/><rect x="73.49" y="61.72" width="4.99" height="5.00" fill="#b0b0b0"/><rect x="78.43" y="61.72" width="4.99" height="5.00" fill="#b0b0b0"/><rect x="83.36" y="61.72" width="4.99" height="5.00" fill="#b0b0b0"/><rect x="88.30" y="61.72" width="4.99" height="5.00" fill="#8f8f8f"/><rect x="93.24" y="61.72" width="4.99" height="5.00" fill="#a1a1a1"/><rect x="98.17" y="61.72" width="4.99" height="5.00" fill="#bfbfbf"/><rect x="103.11" y="61.72" width="4.99" height="5.00" fill="#e0e0e0"/><rect x="108.04" y="61.72" width="4.99" height="5.00" fill="#cfcfcf"/><rect x="112.98" y="61.72" width="4.99" height="5.00" fill="#656565"/><rect x="117.91" y="61.72" width="4.99" height="5.00" fill="#656565"/><rect x="122.85" y="61.72" width="4.99" height="5.00" fill="#e0e0e0"/><rect x="127.79" y="61.72" width="4.99" height="5.00" fill="#dadada"/><rect x="132.72" y="61.72" width="4.99" height="5.00" fill="#dbdbdb"/><rect x="137.66" y="61.72" width="4.99" height="5.00" fill="#dadada"/><rect x="142.59" y="61.72" width="4.99" height="5.00" fill="#dadada"/><rect x="147.53" y="61.72" width="4.99" height="5.00" fill="#d8d8d8"/><rect x="152.46" y="61.72" width="12.99" height="5.00" fill="#c6c6c6"/><rect x="11.20" y="66.67" width="12.99" height="5.00" fill="#b0b0b0"/><rect x="24.14" y="66.67" width="4.99" height="5.00" fill="#8a8a8a"/><rect x="29.07" y="66.67" width="4.99" height="5.00" fill="#656565"/><rect x="34.01" y="66.67" width="4.99" height="5.00" fill="#808080"/><rect x="38.94" y="66.67" width="4.99" height="5.00" fill="#a1a1a1"/><rect x="43.88" y="66.67" width="4.99" height="5.00" fill="#cfcfcf"/><rect x="48.81" y="66.67" width="4.99" height="5.00" fill="#bfbfbf"/><rect x="53.75" y="66.67" width="4.99" height="5.00" fill="#808080"/><rect x="58.69" y="66.67" width="4.99" height="5.00" fill="#4f4f4f"/><rect x="63.62" y="66.67" width="4.99" height="5.00" fill="#a1a1a1"/><rect x="68.56" y="66.67" width="4.99" height="5.00" fill="#bfbfbf"/><rect x="73.49" y="66.67" width="4.99" height="5.00" fill="#bfbfbf"/><rect x="78.43" y="66.67" width="4.99" height="5.00" fill="#b0b0b0"/><rect x="83.36" y="66.67" width="4.99" height="5.00" fill="#a1a1a1"/><rect x="88.30" y="66.67" width="4.99" height="5.00" fill="#656565"/><rect x="93.24" y="66.67" width="4.99" height="5.00" fill="#a1a1a1"/><rect x="98.17" y="66.67" width="4.99" height="5.00" fill="#cfcfcf"/><rect x="103.11" y="66.67" width="4.99" height="5.00" fill="#e0e0e0"/><rect x="108.04" y="66.67" width="4.99" height="5.00" fill="#bfbfbf"/><rect x="112.98" y="66.67" width="4.99" height="5.00" fill="#656565"/><rect x="117.91" y="66.67" width="4.99" height="5.00" fill="#656565"/><rect x="122.85" y="66.67" width="4.99" height="5.00" fill="#e0e0e0"/><rect x="127.79" y="66.67" width="4.99" height="5.00" fill="#e0e0e0"/><rect x="132.72" y="66.67" width="4.99" height="5.00" fill="#dedede"/><rect x="137.66" y="66.67" width="4.99" height="5.00" fill="#dedede"/><rect x="142.59" y="66.67" width="4.99" height="5.00" fill="#dddddd"/><rect x="147.53" y="66.67" width="4.99" height="5.00" fill="#dddddd"/><rect x="152.46" y="66.67" width="12.99" height="5.00" fill="#dcdcdc"/><rect x="11.20" y="71.62" width="12.99" height="5.00" fill="#a1a1a1"/><rect x="24.14" y="71.62" width="4.99" height="5.00" fill="#bfbfbf"/><rect x="29.07" y="71.62" width="4.99" height="5.00" fill="#656565"/><rect x="34.01" y="71.62" width="4.99" height="5.00" fill="#656565"/><rect x="38.94" y="71.62" width="4.99" height="5.00" fill="#a1a1a1"/><rect x="43.88" y="71.62" width="4.99" height="5.00" fill="#656565"/><rect x="48.81" y="71.62" width="4.99" height="5.00" fill="#a1a1a1"/><rect x="53.75" y="71.62" width="4.99" height="5.00" fill="#bfbfbf"/><rect x="58.69" y="71.62" width="4.99" height="5.00" fill="#656565"/><rect x="63.62" y="71.62" width="4.99" height="5.00" fill="#cfcfcf"/><rect x="68.56" y="71.62" width="4.99" height="5.00" fill="#e0e0e0"/><rect x="73.49" y="71.62" width="4.99" height="5.00" fill="#e0e0e0"/><rect x="78.43" y="71.62" width="4.99" height="5.00" fill="#a1a1a1"/><rect x="83.36" y="71.62" width="4.99" height="5.00" fill="#808080"/><rect x="88.30" y="71.62" width="4.99" height="5.00" fill="#656565"/><rect x="93.24" y="71.62" width="4.99" height="5.00" fill="#bfbfbf"/><rect x="98.17" y="71.62" width="4.99" height="5.00" fill="#e0e0e0"/><rect x="103.11" y="71.62" width="4.99" height="5.00" fill="#e0e0e0"/><rect x="108.04" y="71.62" width="4.99" height="5.00" fill="#bfbfbf"/><rect x="112.98" y="71.62" width="4.99" height="5.00" fill="#656565"/><rect x="117.91" y="71.62" width="4.99" height="5.00" fill="#4f4f4f"/><rect x="122.85" y="71.62" width="4.99" height="5.00" fill="#797979"/><rect x="127.79" y="71.62" width="4.99" height="5.00" fill="#e0e0e0"/><rect x="132.72" y="71.62" width="4.99" height="5.00" fill="#e0e0e0"/><rect x="137.66" y="71.62" width="4.99" height="5.00" fill="#e0e0e0"/><rect x="142.59" y="71.62" width="4.99" height="5.00" fill="#dfdfdf"/><rect x="147.53" y="71.62" width="4.99" height="5.00" fill="#dfdfdf"/><rect x="152.46" y="71.62" width="12.99" height="5.00" fill="#dfdfdf"/><rect x="11.20" y="76.58" width="12.99" height="5.00" fill="#ababab"/><rect x="24.14" y="76.58" width="4.99" height="5.00" fill="#a1a1a1"/><rect x="29.07" y="76.58" width="4.99" height="5.00" fill="#a1a1a1"/><rect x="34.01" y="76.58" width="4.99" height="5.00" fill="#bfbfbf"/><rect x="38.94" y="76.58" width="4.99" height="5.00" fill="#bfbfbf"/><rect x="43.88" y="76.58" width="4.99" height="5.00" fill="#a1a1a1"/><rect x="48.81" y="76.58" width="4.99" height="5.00" fill="#656565"/><rect x="53.75" y="76.58" width="4.99" height="5.00" fill="#4f4f4f"/><rect x="58.69" y="76.58" width="4.99" height="5.00" fill="#a1a1a1"/><rect x="63.62" y="76.58" width="4.99" height="5.00" fill="#bfbfbf"/><rect x="68.56" y="76.58" width="4.99" height="5.00" fill="#bfbfbf"/><rect x="73.49" y="76.58" width="4.99" height="5.00" fill="#a1a1a1"/><rect x="78.43" y="76.58" width="4.99" height="5.00" fill="#656565"/><rect x="83.36" y="76.58" width="4.99" height="5.00" fill="#bfbfbf"/><rect x="88.30" y="76.58" width="4.99" height="5.00" fill="#656565"/><rect x="93.24" y="76.58" width="4.99" height="5.00" fill="#e0e0e0"/><rect x="98.17" y="76.58" width="4.99" height="5.00" fill="#f2f2f2"/><rect x="103.11" y="76.58" width="4.99" height="5.00" fill="#bfbfbf"/><rect x="108.04" y="76.58" width="4.99" height="5.00" fill="#656565"/><rect x="112.98" y="76.58" width="4.99" height="5.00" fill="#656565"/><rect x="117.91" y="76.58" width="4.99" height="5.00" fill="#4f4f4f"/><rect x="122.85" y="76.58" width="4.99" height="5.00" fill="#747474"/><rect x="127.79" y="76.58" width="4.99" height="5.00" fill="#959595"/><rect x="132.72" y="76.58" width="4.99" height="5.00" fill="#e0e0e0"/><rect x="137.66" y="76.58" width="4.99" height="5.00" fill="#e0e0e0"/><rect x="142.59" y="76.58" width="4.99" height="5.00" fill="#e0e0e0"/><rect x="147.53" y="76.58" width="4.99" height="5.00" fill="#e0e0e0"/><rect x="152.46" y="76.58" width="12.99" height="5.00" fill="#e0e0e0"/><rect x="11.20" y="81.53" width="12.99" height="5.00" fill="#a1a1a1"/><rect x="24.14" y="81.53" width="4.99" height="5.00" fill="#ababab"/><rect x="29.07" y="81.53" width="4.99" height="5.00" fill="#bfbfbf"/><rect x="34.01" y="81.53" width="4.99" height="5.00" fill="#e0e0e0"/><rect x="38.94" y="81.53" width="4.99" height="5.00" fill="#e0e0e0"/><rect x="43.88" y="81.53" width="4.99" height="5.00" fill="#bfbfbf"/><rect x="48.81" y="81.53" width="4.99" height="5.00" fill="#242424"/><rect x="53.75" y="81.53" width="4.99" height="5.00" fill="#656565"/><rect x="58.69" y="81.53" width="4.99" height="5.00" fill="#a1a1a1"/><rect x="63.62" y="81.53" width="4.99" height="5.00" fill="#a1a1a1"/><rect x="68.56" y="81.53" width="4.99" height="5.00" fill="#a1a1a1"/><rect x="73.49" y="81.53" width="4.99" height="5.00" fill="#bfbfbf"/><rect x="78.43" y="81.53" width="4.99" height="5.00" fill="#a1a1a1"/><rect x="83.36" y="81.53" width="4.99" height="5.00" fill="#cfcfcf"/><rect x="88.30" y="81.53" width="4.99" height="5.00" fill="#cfcfcf"/><rect x="93.24" y="81.53" width="4.99" height="5.00" fill="#a1a1a1"/><rect x="98.17" y="81.53" width="4.99" height="5.00" fill="#bfbfbf"/><rect x="103.11" y="81.53" width="4.99" height="5.00" fill="#656565"/><rect x="108.04" y="81.53" width="4.99" height="5.00" fill="#4f4f4f"/><rect x="112.98" y="81.53" width="4.99" height="5.00" fill="#656565"/><rect x="117.91" y="81.53" width="4.99" height="5.00" fill="#bfbfbf"/><rect x="122.85" y="81.53" width="4.99" height="5.00" fill="#878787"/><rect x="127.79" y="81.53" width="4.99" height="5.00" fill="#949494"/><rect x="132.72" y="81.53" width="4.99" height="5.00" fill="#ababab"/><rect x="137.66" y="81.53" width="4.99" height="5.00" fill="#e0e0e0"/><rect x="142.59" y="81.53" width="4.99" height="5.00" fill="#e0e0e0"/><rect x="147.53" y="81.53" width="4.99" height="5.00" fill="#e0e0e0"/><rect x="152.46" y="81.53" width="12.99" height="5.00" fill="#e0e0e0"/><rect x="11.20" y="86.48" width="12.99" height="5.00" fill="#aeaeae"/><rect x="24.14" y="86.48" width="4.99" height="5.00" fill="#bfbfbf"/><rect x="29.07" y="86.48" width="4.99" height="5.00" fill="#d5d5d5"/><rect x="34.01" y="86.48" width="4.99" height="5.00" fill="#e0e0e0"/><rect x="38.94" y="86.48" width="4.99" height="5.00" fill="#e0e0e0"/><rect x="43.88" y="86.48" width="4.99" height="5.00" fill="#bfbfbf"/><rect x="48.81" y="86.48" width="4.99" height="5.00" fill="#242424"/><rect x="53.75" y="86.48" width="4.99" height="5.00" fill="#656565"/><rect x="58.69" y="86.48" width="4.99" height="5.00" fill="#808080"/><rect x="63.62" y="86.48" width="4.99" height="5.00" fill="#808080"/><rect x="68.56" y="86.48" width="4.99" height="5.00" fill="#8f8f8f"/><rect x="73.49" y="86.48" width="4.99" height="5.00" fill="#e0e0e0"/><rect x="78.43" y="86.48" width="4.99" height="5.00" fill="#a1a1a1"/><rect x="83.36" y="86.48" width="4.99" height="5.00" fill="#e0e0e0"/><rect x="88.30" y="86.48" width="4.99" height="5.00" fill="#e0e0e0"/><rect x="93.24" y="86.48" width="4.99" height="5.00" fill="#656565"/><rect x="98.17" y="86.48" width="4.99" height="5.00" fill="#a1a1a1"/><rect x="103.11" y="86.48" width="4.99" height="5.00" fill="#808080"/><rect x="108.04" y="86.48" width="4.99" height="5.00" fill="#787878"/><rect x="112.98" y="86.48" width="4.99" height="5.00" fill="#bfbfbf"/><rect x="117.91" y="86.48" width="4.99" height="5.00" fill="#a1a1a1"/><rect x="122.85" y="86.48" width="4.99" height="5.00" fill="#bfbfbf"/><rect x="127.79" y="86.48" width="4.99" height="5.00" fill="#a3a3a3"/><rect x="132.72" y="86.48" width="4.99" height="5.00" fill="#a7a7a7"/><rect x="137.66" y="86.48" width="4.99" height="5.00" fill="#b9b9b9"/><rect x="142.59" y="86.48" width="4.99" height="5.00" fill="#e0e0e0"/><rect x="147.53" y="86.48" width="4.99" height="5.00" fill="#e0e0e0"/><rect x="152.46" y="86.48" width="12.99" height="5.00" fill="#e0e0e0"/><rect x="11.20" y="91.43" width="12.99" height="5.00" fill="#bfbfbf"/><rect x="24.14" y="91.43" width="4.99" height="5.00" fill="#d2d2d2"/><rect x="29.07" y="91.43" width="4.99" height="5.00" fill="#e0e0e0"/><rect x="34.01" y="91.43" width="4.99" height="5.00" fill="#d8d8d8"/><rect x="38.94" y="91.43" width="4.99" height="5.00" fill="#bfbfbf"/><rect x="43.88" y="91.43" width="4.99" height="5.00" fill="#a1a1a1"/><rect x="48.81" y="91.43" width="4.99" height="5.00" fill="#656565"/><rect x="53.75" y="91.43" width="4.99" height="5.00" fill="#808080"/><rect x="58.69" y="91.43" width="4.99" height="5.00" fill="#656565"/><rect x="63.62" y="91.43" width="4.99" height="5.00" fill="#808080"/><rect x="68.56" y="91.43" width="4.99" height="5.00" fill="#8f8f8f"/><rect x="73.49" y="91.43" width="4.99" height="5.00" fill="#e0e0e0"/><rect x="78.43" y="91.43" width="4.99" height="5.00" fill="#a1a1a1"/><rect x="83.36" y="91.43" width="4.99" height="5.00" fill="#bfbfbf"/><rect x="88.30" y="91.43" width="4.99" height="5.00" fill="#bfbfbf"/><rect x="93.24" y="91.43" width="4.99" height="5.00" fill="#656565"/><rect x="98.17" y="91.43" width="4.99" height="5.00" fill="#a1a1a1"/><rect x="103.11" y="91.43" width="4.99" height="5.00" fill="#969696"/><rect x="108.04" y="91.43" width="4.99" height="5.00" fill="#9f9f9f"/><rect x="112.98" y="91.43" width="4.99" height="5.00" fill="#bfbfbf"/><rect x="117.91" y="91.43" width="4.99" height="5.00" fill="#bfbfbf"/><rect x="122.85" y="91.43" width="4.99" height="5.00" fill="#b5b5b5"/><rect x="127.79" y="91.43" width="4.99" height="5.00" fill="#bfbfbf"/><rect x="132.72" y="91.43" width="4.99" height="5.00" fill="#b1b1b1"/><rect x="137.66" y="91.43" width="4.99" height="5.00" fill="#b3b3b3"/><rect x="142.59" y="91.43" width="4.99" height="5.00" fill="#c1c1c1"/><rect x="147.53" y="91.43" width="4.99" height="5.00" fill="#e0e0e0"/><rect x="152.46" y="91.43" width="12.99" height="5.00" fill="#e0e0e0"/><rect x="11.20" y="96.39" width="12.99" height="5.00" fill="#d0d0d0"/><rect x="24.14" y="96.39" width="4.99" height="5.00" fill="#e0e0e0"/><rect x="29.07" y="96.39" width="4.99" height="5.00" fill="#cecece"/><rect x="34.01" y="96.39" width="4.99" height="5.00" fill="#c0c0c0"/><rect x="38.94" y="96.39" width="4.99" height="5.00" fill="#e0e0e0"/><rect x="43.88" y="96.39" width="4.99" height="5.00" fill="#bfbfbf"/><rect x="48.81" y="96.39" width="4.99" height="5.00" fill="#656565"/><rect x="53.75" y="96.39" width="4.99" height="5.00" fill="#4f4f4f"/><rect x="58.69" y="96.39" width="4.99" height="5.00" fill="#a1a1a1"/><rect x="63.62" y="96.39" width="4.99" height="5.00" fill="#a1a1a1"/><rect x="68.56" y="96.39" width="4.99" height="5.00" fill="#a1a1a1"/><rect x="73.49" y="96.39" width="4.99" height="5.00" fill="#bfbfbf"/><rect x="78.43" y="96.39" width="4.99" height="5.00" fill="#656565"/><rect x="83.36" y="96.39" width="4.99" height="5.00" fill="#808080"/><rect x="88.30" y="96.39" width="4.99" height="5.00" fill="#a1a1a1"/><rect x="93.24" y="96.39" width="4.99" height="5.00" fill="#949494"/><rect x="98.17" y="96.39" width="4.99" height="5.00" fill="#838383"/><rect x="103.11" y="96.39" width="4.99" height="5.00" fill="#a1a1a1"/><rect x="108.04" y="96.39" width="4.99" height="5.00" fill="#a5a5a5"/><rect x="112.98" y="96.39" width="4.99" height="5.00" fill="#b5b5b5"/><rect x="117.91" y="96.39" width="4.99" height="5.00" fill="#bfbfbf"/><rect x="122.85" y="96.39" width="4.99" height="5.00" fill="#bfbfbf"/><rect x="127.79" y="96.39" width="4.99" height="5.00" fill="#bcbcbc"/><rect x="132.72" y="96.39" width="4.99" height="5.00" fill="#bfbfbf"/><rect x="137.66" y="96.39" width="4.99" height="5.00" fill="#b8b8b8"/><rect x="142.59" y="96.39" width="4.99" height="5.00" fill="#b9b9b9"/><rect x="147.53" y="96.39" width="4.99" height="5.00" fill="#c5c5c5"/><rect x="152.46" y="96.39" width="12.99" height="5.00" fill="#e0e0e0"/><rect x="11.20" y="101.34" width="12.99" height="5.00" fill="#b0b0b0"/><rect x="24.14" y="101.34" width="4.99" height="5.00" fill="#b5b5b5"/><rect x="29.07" y="101.34" width="4.99" height="5.00" fill="#b9b9b9"/><rect x="34.01" y="101.34" width="4.99" height="5.00" fill="#c0c0c0"/><rect x="38.94" y="101.34" width="4.99" height="5.00" fill="#a1a1a1"/><rect x="43.88" y="101.34" width="4.99" height="5.00" fill="#bfbfbf"/><rect x="48.81" y="101.34" width="4.99" height="5.00" fill="#a1a1a1"/><rect x="53.75" y="101.34" width="4.99" height="5.00" fill="#bfbfbf"/><rect x="58.69" y="101.34" width="4.99" height="5.00" fill="#656565"/><rect x="63.62" y="101.34" width="4.99" height="5.00" fill="#a1a1a1"/><rect x="68.56" y="101.34" width="4.99" height="5.00" fill="#b0b0b0"/><rect x="73.49" y="101.34" width="4.99" height="5.00" fill="#656565"/><rect x="78.43" y="101.34" width="4.99" height="5.00" fill="#787878"/><rect x="83.36" y="101.34" width="4.99" height="5.00" fill="#a1a1a1"/><rect x="88.30" y="101.34" width="4.99" height="5.00" fill="#808080"/><rect x="93.24" y="101.34" width="4.99" height="5.00" fill="#909090"/><rect x="98.17" y="101.34" width="4.99" height="5.00" fill="#8e8e8e"/><rect x="103.11" y="101.34" width="4.99" height="5.00" fill="#929292"/><rect x="108.04" y="101.34" width="4.99" height="5.00" fill="#a1a1a1"/><rect x="112.98" y="101.34" width="4.99" height="5.00" fill="#aeaeae"/><rect x="117.91" y="101.34" width="4.99" height="5.00" fill="#bcbcbc"/><rect x="122.85" y="101.34" width="4.99" height="5.00" fill="#bfbfbf"/><rect x="127.79" y="101.34" width="4.99" height="5.00" fill="#bfbfbf"/><rect x="132.72" y="101.34" width="4.99" height="5.00" fill="#bebebe"/><rect x="137.66" y="101.34" width="4.99" height="5.00" fill="#bfbfbf"/><rect x="142.59" y="101.34" width="4.99" height="5.00" fill="#bcbcbc"/><rect x="147.53" y="101.34" width="4.99" height="5.00" fill="#bcbcbc"/><rect x="152.46" y="101.34" width="12.99" height="5.00" fill="#c8c8c8"/><rect x="11.20" y="106.29" width="12.99" height="5.00" fill="#828282"/><rect x="24.14" y="106.29" width="4.99" height="5.00" fill="#808080"/><rect x="29.07" y="106.29" width="4.99" height="5.00" fill="#a3a3a3"/><rect x="34.01" y="106.29" width="4.99" height="5.00" fill="#ababab"/><rect x="38.94" y="106.29" width="4.99" height="5.00" fill="#bfbfbf"/><rect x="43.88" y="106.29" width="4.99" height="5.00" fill="#bfbfbf"/><rect x="48.81" y="106.29" width="4.99" height="5.00" fill="#a1a1a1"/><rect x="53.75" y="106.29" width="4.99" height="5.00" fill="#8f8f8f"/><rect x="58.69" y="106.29" width="4.99" height="5.00" fill="#656565"/><rect x="63.62" y="106.29" width="4.99" height="5.00" fill="#a1a1a1"/><rect x="68.56" y="106.29" width="4.99" height="5.00" fill="#8f8f8f"/><rect x="73.49" y="106.29" width="4.99" height="5.00" fill="#808080"/><rect x="78.43" y="106.29" width="4.99" height="5.00" fill="#808080"/><rect x="83.36" y="106.29" width="4.99" height="5.00" fill="#808080"/><rect x="88.30" y="106.29" width="4.99" height="5.00" fill="#8b8b8b"/><rect x="93.24" y="106.29" width="4.99" height="5.00" fill="#808080"/><rect x="98.17" y="106.29" width="4.99" height="5.00" fill="#888888"/><rect x="103.11" y="106.29" width="4.99" height="5.00" fill="#8e8e8e"/><rect x="108.04" y="106.29" width="4.99" height="5.00" fill="#999999"/><rect x="112.98" y="106.29" width="4.99" height="5.00" fill="#a1a1a1"/><rect x="117.91" y="106.29" width="4.99" height="5.00" fill="#b3b3b3"/><rect x="122.85" y="106.29" width="4.99" height="5.00" fill="#bebebe"/><rect x="127.79" y="106.29" width="4.99" height="5.00" fill="#bfbfbf"/><rect x="132.72" y="106.29" width="4.99" height="5.00" fill="#bfbfbf"/><rect x="137.66" y="106.29" width="4.99" height="5.00" fill="#bfbfbf"/><rect x="142.59" y="106.29" width="4.99" height="5.00" fill="#bfbfbf"/><rect x="147.53" y="106.29" width="4.99" height="5.00" fill="#bdbdbd"/><rect x="152.46" y="106.29" width="12.99" height="5.00" fill="#bebebe"/><rect x="11.20" y="111.24" width="12.99" height="5.00" fill="#828282"/><rect x="24.14" y="111.24" width="4.99" height="5.00" fill="#858585"/><rect x="29.07" y="111.24" width="4.99" height="5.00" fill="#808080"/><rect x="34.01" y="111.24" width="4.99" height="5.00" fill="#a0a0a0"/><rect x="38.94" y="111.24" width="4.99" height="5.00" fill="#a1a1a1"/><rect x="43.88" y="111.24" width="4.99" height="5.00" fill="#bfbfbf"/><rect x="48.81" y="111.24" width="4.99" height="5.00" fill="#a1a1a1"/><rect x="53.75" y="111.24" width="4.99" height="5.00" fill="#808080"/><rect x="58.69" y="111.24" width="4.99" height="5.00" fill="#858585"/><rect x="63.62" y="111.24" width="4.99" height="5.00" fill="#878787"/><rect x="68.56" y="111.24" width="4.99" height="5.00" fill="#909090"/><rect x="73.49" y="111.24" width="4.99" height="5.00" fill="#858585"/><rect x="78.43" y="111.24" width="4.99" height="5.00" fill="#808080"/><rect x="83.36" y="111.24" width="4.99" height="5.00" fill="#808080"/><rect x="88.30" y="111.24" width="4.99" height="5.00" fill="#808080"/><rect x="93.24" y="111.24" width="4.99" height="5.00" fill="#838383"/><rect x="98.17" y="111.24" width="4.99" height="5.00" fill="#808080"/><rect x="103.11" y="111.24" width="4.99" height="5.00" fill="#848484"/><rect x="108.04" y="111.24" width="4.99" height="5.00" fill="#8f8f8f"/><rect x="112.98" y="111.24" width="4.99" height="5.00" fill="#9d9d9d"/><rect x="117.91" y="111.24" width="4.99" height="5.00" fill="#a1a1a1"/><rect x="122.85" y="111.24" width="4.99" height="5.00" fill="#b4b4b4"/><rect x="127.79" y="111.24" width="4.99" height="5.00" fill="#bfbfbf"/><rect x="132.72" y="111.24" width="4.99" height="5.00" fill="#bfbfbf"/><rect x="137.66" y="111.24" width="4.99" height="5.00" fill="#bfbfbf"/><rect x="142.59" y="111.24" width="4.99" height="5.00" fill="#bfbfbf"/><rect x="147.53" y="111.24" width="4.99" height="5.00" fill="#bfbfbf"/><rect x="152.46" y="111.24" width="12.99" height="5.00" fill="#bebebe"/><rect x="11.20" y="116.20" width="12.99" height="5.00" fill="#7c7c7c"/><rect x="24.14" y="116.20" width="4.99" height="5.00" fill="#888888"/><rect x="29.07" y="116.20" width="4.99" height="5.00" fill="#909090"/><rect x="34.01" y="116.20" width="4.99" height="5.00" fill="#808080"/><rect x="38.94" y="116.20" width="4.99" height="5.00" fill="#a1a1a1"/><rect x="43.88" y="116.20" width="4.99" height="5.00" fill="#b0b0b0"/><rect x="48.81" y="116.20" width="4.99" height="5.00" fill="#808080"/><rect x="53.75" y="116.20" width="4.99" height="5.00" fill="#8b8b8b"/><rect x="58.69" y="116.20" width="4.99" height="5.00" fill="#808080"/><rect x="63.62" y="116.20" width="4.99" height="5.00" fill="#878787"/><rect x="68.56" y="116.20" width="4.99" height="5.00" fill="#898989"/><rect x="73.49" y="116.20" width="4.99" height="5.00" fill="#878787"/><rect x="78.43" y="116.20" width="4.99" height="5.00" fill="#818181"/><rect x="83.36" y="116.20" width="4.99" height="5.00" fill="#808080"/><rect x="88.30" y="116.20" width="4.99" height="5.00" fill="#808080"/><rect x="93.24" y="116.20" width="4.99" height="5.00" fill="#808080"/><rect x="98.17" y="116.20" width="4.99" height="5.00" fill="#818181"/><rect x="103.11" y="116.20" width="4.99" height="5.00" fill="#808080"/><rect x="108.04" y="116.20" width="4.99" height="5.00" fill="#828282"/><rect x="112.98" y="116.20" width="4.99" height="5.00" fill="#909090"/><rect x="117.91" y="116.20" width="4.99" height="5.00" fill="#9f9f9f"/><rect x="122.85" y="116.20" width="4.99" height="5.00" fill="#a1a1a1"/><rect x="127.79" y="116.20" width="4.99" height="5.00" fill="#b5b5b5"/><rect x="132.72" y="116.20" width="4.99" height="5.00" fill="#bfbfbf"/><rect x="137.66" y="116.20" width="4.99" height="5.00" fill="#bfbfbf"/><rect x="142.59" y="116.20" width="4.99" height="5.00" fill="#bfbfbf"/><rect x="147.53" y="116.20" width="4.99" height="5.00" fill="#bfbfbf"/><rect x="152.46" y="116.20" width="12.99" height="5.00" fill="#bfbfbf"/><rect x="11.20" y="121.15" width="12.99" height="13.00" fill="#787878"/><rect x="24.14" y="121.15" width="4.99" height="13.00" fill="#808080"/><rect x="29.07" y="121.15" width="4.99" height="13.00" fill="#a1a1a1"/><rect x="34.01" y="121.15" width="4.99" height="13.00" fill="#a1a1a1"/><rect x="38.94" y="121.15" width="4.99" height="13.00" fill="#a1a1a1"/><rect x="43.88" y="121.15" width="4.99" height="13.00" fill="#8f8f8f"/><rect x="48.81" y="121.15" width="4.99" height="13.00" fill="#959595"/><rect x="53.75" y="121.15" width="4.99" height="13.00" fill="#808080"/><rect x="58.69" y="121.15" width="4.99" height="13.00" fill="#838383"/><rect x="63.62" y="121.15" width="4.99" height="13.00" fill="#808080"/><rect x="68.56" y="121.15" width="4.99" height="13.00" fill="#858585"/><rect x="73.49" y="121.15" width="4.99" height="13.00" fill="#868686"/><rect x="78.43" y="121.15" width="4.99" height="13.00" fill="#828282"/><rect x="83.36" y="121.15" width="4.99" height="13.00" fill="#808080"/><rect x="88.30" y="121.15" width="4.99" height="13.00" fill="#808080"/><rect x="93.24" y="121.15" width="4.99" height="13.00" fill="#808080"/><rect x="98.17" y="121.15" width="4.99" height="13.00" fill="#808080"/><rect x="103.11" y="121.15" width="4.99" height="13.00" fill="#808080"/><rect x="108.04" y="121.15" width="4.99" height="13.00" fill="#808080"/><rect x="112.98" y="121.15" width="4.99" height="13.00" fill="#818181"/><rect x="117.91" y="121.15" width="4.99" height="13.00" fill="#949494"/><rect x="122.85" y="121.15" width="4.99" height="13.00" fill="#a0a0a0"/><rect x="127.79" y="121.15" width="4.99" height="13.00" fill="#a1a1a1"/><rect x="132.72" y="121.15" width="4.99" height="13.00" fill="#b5b5b5"/><rect x="137.66" y="121.15" width="4.99" height="13.00" fill="#bfbfbf"/><rect x="142.59" y="121.15" width="4.99" height="13.00" fill="#bfbfbf"/><rect x="147.53" y="121.15" width="4.99" height="13.00" fill="#bfbfbf"/><rect x="152.46" y="121.15" width="12.99" height="13.00" fill="#bfbfbf"/></g><g fill="none" stroke="#000" stroke-width="1.65" stroke-dasharray="0 2.05" stroke-linecap="round" stroke-linejoin="round" opacity="0.85"><polyline points="49.4,42.3 52.7,47.3 56.0,50.6 61.0,49.0 66.0,45.6 71.0,44.0"/><polyline points="52.7,47.3 54.4,54.0 54.4,62.3 56.0,67.3 59.4,70.6"/><polyline points="79.4,42.3 77.7,47.3 76.0,52.3 74.4,57.3 72.7,62.3 71.0,65.6 69.4,69.0 66.7,74.3"/><polyline points="79.4,42.3 81.9,41.5 86.9,36.5 92.0,31.4"/><polyline points="27.7,67.3 31.0,65.6 36.0,66.5 41.0,69.0 44.4,70.6"/><polyline points="44.4,70.6 46.0,75.6 46.0,80.6 44.4,85.6"/><polyline points="59.4,70.6 61.0,75.6 64.4,80.6 66.0,85.6"/><polyline points="31.0,79.0 36.0,77.3 41.0,79.0"/><polyline points="71.0,65.6 76.0,69.0 81.0,70.6 86.0,69.0"/><polyline points="92.0,31.4 94.5,36.5 92.0,41.5 89.5,46.6 88.2,54.2 86.9,61.7 85.7,69.3 84.4,74.3"/><polyline points="99.6,44.0 107.2,44.0 109.7,49.1 107.2,56.7 104.6,61.7 99.6,64.3 97.1,59.2 97.1,51.6 99.6,44.0"/><polyline points="97.1,31.4 104.6,28.9 112.2,31.4 114.7,36.5 117.3,44.0 119.8,49.1 122.3,56.7"/><polyline points="114.7,21.3 117.3,26.3 119.8,31.4 124.8,33.9 129.9,31.4 134.9,26.3"/><polyline points="91.7,64.3 94.2,69.3 96.7,74.3"/><polyline points="109.7,64.3 114.7,69.3 119.7,74.3"/><polyline points="66.7,84.9 69.2,92.5 71.8,97.6 76.8,102.6 84.4,105.2 92.0,102.6 97.1,97.6"/><polyline points="81.9,72.3 84.4,79.9 89.5,82.4 94.5,87.5 99.6,92.5"/><polyline points="94.5,72.3 97.1,79.9 102.1,84.9 104.6,90.0 109.7,92.5 114.7,90.0"/><polyline points="56.6,85.3 59.1,92.3 61.7,97.6 64.2,102.3 69.2,105.2 74.3,107.7"/><polyline points="38.9,105.2 46.5,107.7 54.1,110.2 61.7,112.7 69.2,115.3 76.8,110.2"/><polyline points="33.9,117.8 41.4,115.3 49.0,117.8 56.6,122.8"/><polyline points="37.2,34.8 47.2,28.3 57.2,24.8 67.2,22.3"/><polyline points="102.2,62.3 107.2,72.3 112.2,79.8 119.7,84.8"/><polyline points="54.7,67.3 62.2,74.8 69.7,77.3 79.7,79.8"/><polyline points="42.2,79.8 49.7,87.3 57.2,92.3 64.7,97.3"/><polyline points="64.7,97.3 74.7,102.3 84.7,104.8 94.7,102.3 104.7,97.3"/><polyline points="29.7,97.3 39.7,104.8 49.7,109.8 59.7,114.8"/><polyline points="122.2,27.3 124.7,37.3 122.2,47.3 119.7,54.8"/><polyline points="49.7,44.8 54.7,52.3 59.7,59.8"/></g><use href="#landall"/><g stroke="#a8a8a8" stroke-opacity="0.5" stroke-width="0.5" mask="url(#lmask)"><line x1="19.2" y1="117.6" x2="157.39999999999998" y2="117.6"/><line x1="19.2" y1="107.9" x2="157.39999999999998" y2="107.9"/><line x1="19.2" y1="98.3" x2="157.39999999999998" y2="98.3"/><line x1="19.2" y1="88.6" x2="157.39999999999998" y2="88.6"/><line x1="19.2" y1="78.9" x2="157.39999999999998" y2="78.9"/><line x1="19.2" y1="69.2" x2="157.39999999999998" y2="69.2"/><line x1="19.2" y1="59.5" x2="157.39999999999998" y2="59.5"/><line x1="19.2" y1="49.9" x2="157.39999999999998" y2="49.9"/><line x1="19.2" y1="40.2" x2="157.39999999999998" y2="40.2"/><line x1="19.2" y1="30.5" x2="157.39999999999998" y2="30.5"/><line x1="27.0" y1="22.1" x2="27.0" y2="126.1"/><line x1="43.4" y1="22.1" x2="43.4" y2="126.1"/><line x1="59.7" y1="22.1" x2="59.7" y2="126.1"/><line x1="76.1" y1="22.1" x2="76.1" y2="126.1"/><line x1="92.4" y1="22.1" x2="92.4" y2="126.1"/><line x1="108.8" y1="22.1" x2="108.8" y2="126.1"/><line x1="125.2" y1="22.1" x2="125.2" y2="126.1"/><line x1="141.5" y1="22.1" x2="141.5" y2="126.1"/></g><g fill="none" stroke="#fff" stroke-width="0.6" stroke-dasharray="2.2 1.6" opacity="0.6"><rect x="24" y="56.5" width="28.8" height="36"/><rect x="52.8" y="56.5" width="62.8" height="26"/></g></g><g stroke="#222" stroke-width="0.5"><line x1="19.2" y1="117.6" x2="20.5" y2="117.6"/><line x1="157.39999999999998" y1="117.6" x2="156.09999999999997" y2="117.6"/><line x1="19.2" y1="107.9" x2="20.5" y2="107.9"/><line x1="157.39999999999998" y1="107.9" x2="156.09999999999997" y2="107.9"/><line x1="19.2" y1="98.3" x2="20.5" y2="98.3"/><line x1="157.39999999999998" y1="98.3" x2="156.09999999999997" y2="98.3"/><line x1="19.2" y1="88.6" x2="20.5" y2="88.6"/><line x1="157.39999999999998" y1="88.6" x2="156.09999999999997" y2="88.6"/><line x1="19.2" y1="78.9" x2="20.5" y2="78.9"/><line x1="157.39999999999998" y1="78.9" x2="156.09999999999997" y2="78.9"/><line x1="19.2" y1="69.2" x2="20.5" y2="69.2"/><line x1="157.39999999999998" y1="69.2" x2="156.09999999999997" y2="69.2"/><line x1="19.2" y1="59.5" x2="20.5" y2="59.5"/><line x1="157.39999999999998" y1="59.5" x2="156.09999999999997" y2="59.5"/><line x1="19.2" y1="49.9" x2="20.5" y2="49.9"/><line x1="157.39999999999998" y1="49.9" x2="156.09999999999997" y2="49.9"/><line x1="19.2" y1="40.2" x2="20.5" y2="40.2"/><line x1="157.39999999999998" y1="40.2" x2="156.09999999999997" y2="40.2"/><line x1="19.2" y1="30.5" x2="20.5" y2="30.5"/><line x1="157.39999999999998" y1="30.5" x2="156.09999999999997" y2="30.5"/><line x1="27.0" y1="22.1" x2="27.0" y2="23.400000000000002"/><line x1="27.0" y1="126.1" x2="27.0" y2="124.8"/><line x1="43.4" y1="22.1" x2="43.4" y2="23.400000000000002"/><line x1="43.4" y1="126.1" x2="43.4" y2="124.8"/><line x1="59.7" y1="22.1" x2="59.7" y2="23.400000000000002"/><line x1="59.7" y1="126.1" x2="59.7" y2="124.8"/><line x1="76.1" y1="22.1" x2="76.1" y2="23.400000000000002"/><line x1="76.1" y1="126.1" x2="76.1" y2="124.8"/><line x1="92.4" y1="22.1" x2="92.4" y2="23.400000000000002"/><line x1="92.4" y1="126.1" x2="92.4" y2="124.8"/><line x1="108.8" y1="22.1" x2="108.8" y2="23.400000000000002"/><line x1="108.8" y1="126.1" x2="108.8" y2="124.8"/><line x1="125.2" y1="22.1" x2="125.2" y2="23.400000000000002"/><line x1="125.2" y1="126.1" x2="125.2" y2="124.8"/><line x1="141.5" y1="22.1" x2="141.5" y2="23.400000000000002"/><line x1="141.5" y1="126.1" x2="141.5" y2="124.8"/></g><rect x="19.2" y="22.1" width="138.2" height="104.0" fill="none" stroke="#333" stroke-width="0.5"/><text x="17.6" y="119.4" class="tk" text-anchor="end">35</text><text x="17.6" y="109.7" class="tk" text-anchor="end">36</text><text x="17.6" y="100.1" class="tk" text-anchor="end">37</text><text x="17.6" y="90.4" class="tk" text-anchor="end">38</text><text x="17.6" y="80.7" class="tk" text-anchor="end">39</text><text x="17.6" y="71.0" class="tk" text-anchor="end">40</text><text x="17.6" y="61.3" class="tk" text-anchor="end">41</text><text x="17.6" y="51.7" class="tk" text-anchor="end">42</text><text x="17.6" y="42.0" class="tk" text-anchor="end">43</text><text x="17.6" y="32.3" class="tk" text-anchor="end">44</text><text x="27.0" y="133.0" class="tk" text-anchor="middle">128</text><text x="43.4" y="133.0" class="tk" text-anchor="middle">130</text><text x="59.7" y="133.0" class="tk" text-anchor="middle">132</text><text x="76.1" y="133.0" class="tk" text-anchor="middle">134</text><text x="92.4" y="133.0" class="tk" text-anchor="middle">136</text><text x="108.8" y="133.0" class="tk" text-anchor="middle">138</text><text x="125.2" y="133.0" class="tk" text-anchor="middle">140</text><text x="141.5" y="133.0" class="tk" text-anchor="middle">142</text><text x="88.3" y="140.3" class="al" text-anchor="middle">Longitude (°E)</text><text transform="translate(10.2 74.1) rotate(-90)" class="al" text-anchor="middle">Latitude (°N)</text><rect x="158.9" y="22.1" width="3.0" height="104.0" fill="url(#jetgrad)"/><rect x="158.9" y="22.1" width="3.0" height="104.0" fill="none" stroke="#333" stroke-width="0.3"/><text x="164" y="122.9" class="tk">-12</text><line x1="161.1" y1="121.2" x2="161.9" y2="121.2" stroke="#333" stroke-width="0.3"/><text x="164" y="113.2" class="tk">-10</text><line x1="161.1" y1="111.5" x2="161.9" y2="111.5" stroke="#333" stroke-width="0.3"/><text x="164" y="103.5" class="tk">-8</text><line x1="161.1" y1="101.8" x2="161.9" y2="101.8" stroke="#333" stroke-width="0.3"/><text x="164" y="93.8" class="tk">-6</text><line x1="161.1" y1="92.1" x2="161.9" y2="92.1" stroke="#333" stroke-width="0.3"/><text x="164" y="84.1" class="tk">-4</text><line x1="161.1" y1="82.4" x2="161.9" y2="82.4" stroke="#333" stroke-width="0.3"/><text x="164" y="74.3" class="tk">-2</text><line x1="161.1" y1="72.6" x2="161.9" y2="72.6" stroke="#333" stroke-width="0.3"/><text x="164" y="64.6" class="tk">0</text><line x1="161.1" y1="62.9" x2="161.9" y2="62.9" stroke="#333" stroke-width="0.3"/><text x="164" y="54.9" class="tk">2</text><line x1="161.1" y1="53.2" x2="161.9" y2="53.2" stroke="#333" stroke-width="0.3"/><text x="164" y="45.2" class="tk">4</text><line x1="161.1" y1="43.5" x2="161.9" y2="43.5" stroke="#333" stroke-width="0.3"/><text x="164" y="35.5" class="tk">6</text><line x1="161.1" y1="33.8" x2="161.9" y2="33.8" stroke="#333" stroke-width="0.3"/><text x="164" y="25.7" class="tk">8</text><line x1="161.1" y1="24.0" x2="161.9" y2="24.0" stroke="#333" stroke-width="0.3"/><text transform="translate(173.9 74.1) rotate(-90)" text-anchor="middle" class="cbl">[cm/s / Decade]</text></g></svg></body></html>
